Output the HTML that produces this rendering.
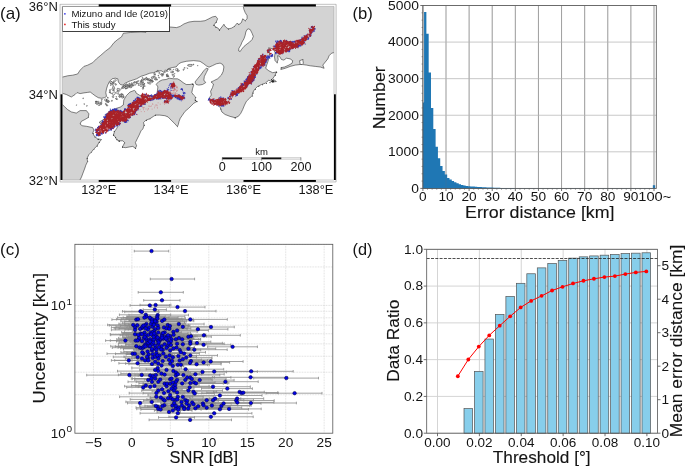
<!DOCTYPE html>
<html><head><meta charset="utf-8"><style>
html,body{margin:0;padding:0;background:#fff}
svg{display:block}
text{font-family:"Liberation Sans",sans-serif}
</style></head><body>
<svg width="685" height="466" viewBox="0 0 685 466">
<rect width="685" height="466" fill="#fff"/>
<g opacity="0.999">
<clipPath id="mc"><rect x="62.3" y="6.5" width="271.7" height="173.5"/></clipPath>
<rect x="62.3" y="6.5" width="271.7" height="173.5" fill="#fff"/>
<g clip-path="url(#mc)">
<path d="M60.0 77.1 L62.5 77.1 L67.6 75.8 L72.6 75.2 L77.6 74.0 L80.1 70.2 L83.9 66.4 L87.6 65.2 L92.7 62.7 L96.4 58.9 L100.2 55.8 L105.2 51.4 L110.2 47.6 L114.0 42.6 L117.8 39.4 L121.5 36.9 L123.4 33.2 L130.3 32.5 L141.0 31.9 L146.0 32.3 L150.0 28.0 L160.0 24.0 L168.0 25.0 L170.2 27.0 L176.5 27.6 L180.2 26.4 L184.0 23.9 L189.0 22.0 L194.0 21.3 L200.3 21.3 L205.0 20.7 L208.8 18.8 L212.5 16.9 L215.7 16.3 L217.6 18.8 L216.3 22.0 L213.8 25.1 L215.7 27.0 L218.2 28.2 L219.4 30.1 L221.9 27.0 L223.8 24.5 L225.7 27.0 L228.2 28.9 L231.4 28.2 L234.5 26.4 L237.0 23.2 L238.9 24.5 L241.4 22.6 L242.7 18.8 L245.2 20.7 L247.1 18.8 L247.1 15.7 L245.2 12.6 L243.9 9.4 L242.7 4.0 L340.0 4.0 L340.0 52.6 L333.9 52.6 L331.6 53.2 L329.1 55.7 L327.8 58.9 L325.3 62.0 L322.8 65.1 L324.1 68.3 L320.3 67.0 L315.3 66.4 L310.3 65.8 L306.5 65.1 L303.0 64.6 L300.2 64.5 L295.2 65.1 L290.2 66.4 L285.2 68.3 L280.8 69.5 L281.4 67.6 L284.5 67.0 L288.9 65.1 L292.1 63.2 L292.7 60.7 L290.2 58.9 L286.4 58.2 L283.9 60.1 L281.4 59.5 L279.5 56.3 L277.6 55.7 L278.2 59.5 L277.0 62.6 L275.1 60.7 L274.5 57.0 L275.1 52.6 L273.4 49.0 L268.6 47.8 L269.3 50.1 L269.7 53.8 L268.9 57.6 L268.0 61.4 L266.9 64.5 L265.7 68.3 L268.8 70.8 L272.6 72.7 L276.4 72.0 L275.1 75.2 L272.6 78.9 L276.4 81.5 L272.6 82.1 L268.8 80.2 L265.1 83.3 L261.3 84.6 L257.5 86.5 L254.6 89.4 L252.7 92.6 L252.1 95.7 L249.6 98.2 L246.4 101.3 L244.5 105.1 L242.7 109.5 L240.8 113.3 L238.3 116.4 L235.1 117.7 L230.1 116.4 L225.1 114.5 L221.9 112.0 L220.7 108.9 L219.4 105.7 L215.0 103.9 L210.0 100.1 L209.4 97.6 L211.3 95.1 L210.6 91.3 L212.5 87.5 L213.5 84.0 L211.0 82.0 L213.8 80.7 L217.6 78.8 L221.4 75.1 L223.2 71.3 L223.9 66.9 L222.6 64.4 L220.1 63.1 L216.3 63.8 L212.6 65.6 L209.0 67.2 L206.3 65.8 L203.8 63.8 L200.0 61.3 L193.7 60.6 L186.2 61.3 L181.2 62.5 L178.7 63.8 L176.2 66.9 L172.4 67.5 L168.0 68.8 L166.1 71.3 L164.2 72.6 L161.1 70.7 L157.3 71.3 L153.6 72.6 L149.8 73.2 L144.8 75.1 L141.0 76.3 L136.6 78.8 L132.8 80.1 L129.1 81.3 L125.3 83.2 L122.8 85.1 L120.3 84.5 L118.4 82.0 L117.8 78.8 L115.3 78.2 L112.1 78.8 L109.6 81.3 L107.7 85.1 L106.5 88.9 L105.8 92.6 L106.5 96.4 L104.6 97.7 L101.5 98.3 L98.3 97.7 L95.2 95.8 L92.7 93.9 L90.2 92.0 L87.6 92.4 L83.9 92.9 L80.1 93.6 L77.0 92.6 L75.1 94.5 L71.3 97.0 L66.3 94.5 L62.5 93.3 L60.0 93.3Z" fill="#d3d3d3" stroke="#222" stroke-width="0.55" stroke-linejoin="round"/>
<path d="M135.6 91.3 L136.0 93.0 L139.5 95.2 L146.0 96.5 L153.0 96.0 L157.0 94.0 L157.9 86.9 L156.2 84.3 L158.8 81.6 L162.3 79.9 L166.1 79.5 L169.2 78.2 L173.6 78.8 L177.4 78.8 L179.9 80.1 L183.1 82.6 L186.2 84.5 L190.0 84.5 L192.5 83.9 L193.7 85.1 L192.5 88.9 L191.8 92.6 L193.7 95.2 L195.6 97.0 L195.0 100.2 L196.9 101.4 L193.7 103.3 L191.2 105.8 L188.7 108.3 L184.9 111.5 L182.4 115.2 L180.3 118.2 L179.0 121.5 L178.3 124.5 L177.4 126.6 L174.3 123.2 L171.1 120.1 L168.0 116.9 L164.9 115.7 L159.8 115.1 L155.4 115.1 L153.6 116.3 L149.8 118.8 L146.0 120.1 L143.5 122.6 L144.1 125.1 L142.9 128.9 L141.0 130.8 L139.1 135.1 L137.2 138.9 L135.4 142.6 L136.6 145.8 L135.4 148.3 L132.8 146.4 L129.1 147.0 L125.3 147.7 L122.2 147.0 L123.4 145.2 L124.7 142.6 L122.8 140.8 L119.0 140.8 L116.5 139.5 L115.3 137.0 L113.4 135.1 L114.6 131.3 L116.5 128.8 L117.8 126.3 L115.0 122.0 L108.0 121.5 L100.0 123.5 L99.4 122.0 L106.0 118.0 L105.2 115.2 L107.7 112.7 L111.5 110.2 L116.5 108.3 L120.3 107.1 L123.3 105.0 L123.8 100.0 L126.4 95.6 L129.9 92.1 L134.3 90.4Z" fill="#d3d3d3" stroke="#222" stroke-width="0.55" stroke-linejoin="round"/>
<path d="M60.0 104.5 L62.3 104.5 L64.4 106.5 L67.6 109.6 L71.3 111.9 L76.3 113.1 L80.1 110.6 L86.4 110.6 L88.9 113.8 L88.3 117.5 L85.1 119.4 L81.4 121.3 L80.1 123.8 L82.0 125.7 L86.4 126.3 L92.7 127.6 L93.9 130.1 L92.7 133.2 L94.5 136.4 L97.7 138.9 L101.5 139.5 L98.9 142.6 L97.1 145.8 L93.9 148.9 L91.4 152.1 L88.9 154.6 L87.0 158.3 L87.6 161.5 L85.8 165.2 L84.9 168.0 L83.0 173.0 L81.5 177.0 L80.0 180.0 L79.5 184.0 L60.0 184.0Z" fill="#d3d3d3" stroke="#222" stroke-width="0.55" stroke-linejoin="round"/>
<path d="M206.3 68.2 L208.2 68.8 L206.3 72.6 L204.4 76.3 L203.8 80.1 L205.7 82.6 L202.5 84.5 L198.8 85.1 L196.2 84.5 L195.0 82.0 L197.5 78.8 L200.6 75.1 L203.8 70.7Z" fill="#d3d3d3" stroke="#222" stroke-width="0.55" stroke-linejoin="round"/>
<path d="M248.3 28.9 L250.2 29.5 L252.1 33.3 L253.3 36.4 L252.1 39.5 L249.6 42.1 L247.1 43.9 L243.9 46.5 L241.4 49.6 L240.2 51.5 L238.6 50.8 L238.9 48.3 L240.8 45.2 L242.0 42.1 L243.9 38.9 L245.2 35.2 L245.8 32.0 L247.1 29.5Z" fill="#fff" stroke="#222" stroke-width="0.55" stroke-linejoin="round"/>
<path d="M299.6 60.7 L302.7 59.5 L303.4 63.2 L302.1 64.5 L300.2 64.5Z" fill="#fff" stroke="#222" stroke-width="0.55" stroke-linejoin="round"/>
<path d="M192.1 65.5 L191.6 66.3 L189.9 66.4 L188.1 66.0 L187.5 65.0 L188.7 64.5 L190.1 64.4 L192.1 64.5Z" fill="#d3d3d3" stroke="#222" stroke-width="0.5"/>
<path d="M111.9 81.4 L112.8 82.5 L113.1 83.5 L113.0 85.1 L111.7 84.6 L111.3 83.5 L110.8 82.1Z" fill="#d3d3d3" stroke="#1c1c1c" stroke-width="0.45" stroke-linejoin="round"/>
<path d="M111.3 93.7 L111.0 93.8 L110.8 93.7 L110.8 93.3 L111.0 93.0 L111.3 93.0 L111.5 93.3Z" fill="#f2f2f2" stroke="#1c1c1c" stroke-width="0.45" stroke-linejoin="round"/>
<path d="M110.4 85.3 L110.5 84.9 L110.8 84.7 L111.1 84.8 L111.2 85.1 L111.1 85.5 L110.7 85.5Z" fill="#d3d3d3" stroke="#1c1c1c" stroke-width="0.45" stroke-linejoin="round"/>
<path d="M120.2 90.4 L119.1 91.3 L117.5 90.8 L117.0 89.4 L117.4 88.3 L118.7 88.5 L120.1 89.0Z" fill="#d3d3d3" stroke="#1c1c1c" stroke-width="0.45" stroke-linejoin="round"/>
<path d="M114.9 84.2 L115.0 84.0 L115.2 83.8 L115.5 83.6 L115.7 83.8 L115.4 84.1 L115.2 84.3Z" fill="#e6e6e6" stroke="#1c1c1c" stroke-width="0.45" stroke-linejoin="round"/>
<path d="M109.7 89.6 L110.2 89.3 L110.4 89.9 L110.5 90.4 L110.0 90.8 L109.4 90.6 L109.4 90.0Z" fill="#d3d3d3" stroke="#1c1c1c" stroke-width="0.45" stroke-linejoin="round"/>
<path d="M110.3 92.7 L109.9 93.0 L109.4 92.5 L109.4 91.9 L109.7 91.4 L110.3 91.3 L110.5 92.1Z" fill="#f2f2f2" stroke="#1c1c1c" stroke-width="0.45" stroke-linejoin="round"/>
<path d="M113.4 89.7 L113.6 89.4 L114.2 89.6 L114.3 90.2 L114.1 90.6 L113.7 90.6 L113.5 90.2Z" fill="#d3d3d3" stroke="#1c1c1c" stroke-width="0.45" stroke-linejoin="round"/>
<path d="M116.2 84.0 L116.5 84.6 L116.1 85.1 L115.7 85.4 L115.3 85.0 L115.4 84.4 L115.7 83.8Z" fill="#d3d3d3" stroke="#1c1c1c" stroke-width="0.45" stroke-linejoin="round"/>
<path d="M110.7 83.9 L109.7 82.9 L110.1 81.8 L111.2 81.7 L112.2 81.9 L112.7 82.9 L111.8 83.5Z" fill="#e6e6e6" stroke="#1c1c1c" stroke-width="0.45" stroke-linejoin="round"/>
<path d="M112.8 90.8 L112.1 89.9 L111.7 88.9 L112.4 88.7 L113.1 88.8 L113.7 89.5 L113.7 90.6Z" fill="#f2f2f2" stroke="#1c1c1c" stroke-width="0.45" stroke-linejoin="round"/>
<path d="M113.6 83.5 L113.4 83.2 L113.8 82.9 L114.3 82.7 L114.3 83.0 L114.4 83.3 L114.0 83.6Z" fill="#e6e6e6" stroke="#1c1c1c" stroke-width="0.45" stroke-linejoin="round"/>
<path d="M112.8 86.7 L113.2 85.5 L114.1 86.4 L114.4 87.2 L114.8 88.6 L113.7 89.0 L112.6 88.1Z" fill="#d3d3d3" stroke="#1c1c1c" stroke-width="0.45" stroke-linejoin="round"/>
<path d="M112.4 94.3 L112.3 93.0 L113.6 92.1 L114.9 91.8 L115.5 92.9 L114.9 94.3 L113.4 95.0Z" fill="#f2f2f2" stroke="#1c1c1c" stroke-width="0.45" stroke-linejoin="round"/>
<path d="M111.1 83.3 L110.9 83.5 L110.7 83.7 L110.5 83.6 L110.3 83.4 L110.6 83.2 L110.8 83.2Z" fill="#e6e6e6" stroke="#1c1c1c" stroke-width="0.45" stroke-linejoin="round"/>
<path d="M115.2 79.7 L116.4 79.9 L116.0 80.9 L115.1 81.5 L113.9 81.8 L113.2 81.1 L114.2 80.3Z" fill="#f2f2f2" stroke="#1c1c1c" stroke-width="0.45" stroke-linejoin="round"/>
<path d="M116.8 91.4 L117.8 92.0 L118.6 92.7 L118.3 93.8 L117.4 93.8 L116.7 93.5 L116.1 92.4Z" fill="#f2f2f2" stroke="#1c1c1c" stroke-width="0.45" stroke-linejoin="round"/>
<path d="M117.8 90.9 L117.8 90.5 L118.1 90.5 L118.4 90.7 L118.4 91.0 L118.2 91.3 L117.8 91.2Z" fill="#f2f2f2" stroke="#1c1c1c" stroke-width="0.45" stroke-linejoin="round"/>
<path d="M112.4 82.9 L112.8 82.3 L113.3 82.2 L113.7 82.2 L113.6 82.8 L113.1 83.2 L112.6 83.3Z" fill="#f2f2f2" stroke="#1c1c1c" stroke-width="0.45" stroke-linejoin="round"/>
<path d="M109.8 91.9 L110.1 92.1 L110.2 92.4 L110.2 92.8 L109.9 92.9 L109.7 92.5 L109.6 92.2Z" fill="#e6e6e6" stroke="#1c1c1c" stroke-width="0.45" stroke-linejoin="round"/>
<path d="M107.3 102.1 L106.7 101.3 L107.6 100.3 L108.9 100.4 L109.7 101.2 L109.0 102.3 L107.9 102.6Z" fill="#d3d3d3" stroke="#1c1c1c" stroke-width="0.45" stroke-linejoin="round"/>
<path d="M98.7 101.3 L99.1 101.8 L99.0 102.4 L98.4 102.7 L97.8 102.1 L97.4 101.4 L98.0 101.2Z" fill="#e6e6e6" stroke="#1c1c1c" stroke-width="0.45" stroke-linejoin="round"/>
<path d="M119.5 94.8 L119.2 94.7 L118.8 94.7 L118.8 94.3 L119.1 94.0 L119.4 94.2 L119.7 94.4Z" fill="#d3d3d3" stroke="#1c1c1c" stroke-width="0.45" stroke-linejoin="round"/>
<path d="M121.3 93.5 L121.9 93.6 L122.3 93.8 L122.2 94.2 L121.6 94.2 L121.1 94.1 L120.8 93.8Z" fill="#e6e6e6" stroke="#1c1c1c" stroke-width="0.45" stroke-linejoin="round"/>
<path d="M111.6 101.3 L111.3 101.0 L111.5 100.4 L112.1 100.2 L112.5 100.5 L112.5 101.0 L112.0 101.5Z" fill="#f2f2f2" stroke="#1c1c1c" stroke-width="0.45" stroke-linejoin="round"/>
<path d="M121.0 94.5 L121.0 94.8 L120.6 94.8 L120.3 94.8 L120.4 94.5 L120.5 94.3 L120.9 94.2Z" fill="#e6e6e6" stroke="#1c1c1c" stroke-width="0.45" stroke-linejoin="round"/>
<path d="M120.5 97.2 L119.6 97.4 L119.0 97.0 L119.2 96.4 L119.6 95.8 L120.5 95.8 L120.7 96.5Z" fill="#e6e6e6" stroke="#1c1c1c" stroke-width="0.45" stroke-linejoin="round"/>
<path d="M105.7 98.9 L106.5 99.1 L106.8 100.1 L105.8 100.9 L105.1 100.4 L104.2 100.0 L105.1 99.3Z" fill="#f2f2f2" stroke="#1c1c1c" stroke-width="0.45" stroke-linejoin="round"/>
<path d="M121.7 96.0 L122.4 95.7 L123.6 96.0 L124.2 97.2 L123.5 97.6 L122.8 97.5 L122.1 97.0Z" fill="#f2f2f2" stroke="#1c1c1c" stroke-width="0.45" stroke-linejoin="round"/>
<path d="M101.2 103.4 L100.2 103.2 L100.3 102.5 L100.6 102.1 L101.5 102.0 L101.8 102.9 L102.0 103.5Z" fill="#d3d3d3" stroke="#1c1c1c" stroke-width="0.45" stroke-linejoin="round"/>
<path d="M115.9 96.6 L116.0 96.4 L116.3 96.5 L116.5 96.7 L116.4 96.9 L116.2 96.9 L116.0 96.9Z" fill="#d3d3d3" stroke="#1c1c1c" stroke-width="0.45" stroke-linejoin="round"/>
<path d="M99.9 103.3 L100.3 104.2 L99.9 105.3 L98.7 105.6 L97.7 104.9 L98.0 103.5 L99.1 103.3Z" fill="#f2f2f2" stroke="#1c1c1c" stroke-width="0.45" stroke-linejoin="round"/>
<path d="M122.1 95.9 L121.5 95.3 L121.5 94.5 L122.0 94.3 L122.7 94.3 L123.0 95.1 L122.6 95.6Z" fill="#e6e6e6" stroke="#1c1c1c" stroke-width="0.45" stroke-linejoin="round"/>
<path d="M120.7 96.8 L120.9 96.5 L121.2 96.4 L121.4 96.6 L121.3 96.9 L121.1 97.0 L120.9 97.0Z" fill="#e6e6e6" stroke="#1c1c1c" stroke-width="0.45" stroke-linejoin="round"/>
<path d="M115.7 98.4 L115.9 98.1 L116.3 98.0 L116.7 98.6 L117.0 99.3 L116.4 99.4 L115.7 99.1Z" fill="#e6e6e6" stroke="#1c1c1c" stroke-width="0.45" stroke-linejoin="round"/>
<path d="M121.6 95.9 L121.6 95.2 L122.1 94.7 L123.1 94.3 L123.7 95.3 L123.0 96.1 L122.3 96.3Z" fill="#f2f2f2" stroke="#1c1c1c" stroke-width="0.45" stroke-linejoin="round"/>
<path d="M106.4 100.7 L107.4 100.1 L108.2 100.4 L108.6 100.9 L108.6 101.9 L107.5 102.0 L106.8 101.6Z" fill="#e6e6e6" stroke="#1c1c1c" stroke-width="0.45" stroke-linejoin="round"/>
<path d="M118.7 96.4 L118.9 95.8 L119.5 95.5 L120.2 95.7 L120.2 96.5 L119.6 96.7 L119.2 96.8Z" fill="#d3d3d3" stroke="#1c1c1c" stroke-width="0.45" stroke-linejoin="round"/>
<path d="M112.9 95.7 L113.7 95.7 L113.7 96.6 L113.6 97.5 L112.9 97.8 L112.3 97.0 L112.3 96.0Z" fill="#f2f2f2" stroke="#1c1c1c" stroke-width="0.45" stroke-linejoin="round"/>
<path d="M123.3 96.9 L123.5 97.2 L123.6 97.5 L123.4 97.7 L123.2 97.4 L123.0 97.1 L123.1 96.8Z" fill="#f2f2f2" stroke="#1c1c1c" stroke-width="0.45" stroke-linejoin="round"/>
<path d="M100.5 103.2 L100.9 104.2 L100.3 104.9 L99.5 104.7 L98.8 104.1 L99.1 103.3 L99.7 103.2Z" fill="#f2f2f2" stroke="#1c1c1c" stroke-width="0.45" stroke-linejoin="round"/>
<path d="M95.7 101.6 L95.8 101.2 L96.1 101.0 L96.4 101.2 L96.7 101.4 L96.6 101.7 L96.1 101.7Z" fill="#f2f2f2" stroke="#1c1c1c" stroke-width="0.45" stroke-linejoin="round"/>
<path d="M107.5 97.1 L108.0 97.1 L108.2 97.6 L108.3 98.0 L108.1 98.4 L107.7 98.2 L107.6 97.7Z" fill="#d3d3d3" stroke="#1c1c1c" stroke-width="0.45" stroke-linejoin="round"/>
<path d="M96.9 104.2 L96.3 104.1 L95.9 103.8 L95.5 103.4 L95.8 103.1 L96.5 103.2 L96.7 103.7Z" fill="#e6e6e6" stroke="#1c1c1c" stroke-width="0.45" stroke-linejoin="round"/>
<path d="M106.8 99.9 L106.7 99.7 L106.6 99.5 L106.9 99.5 L107.1 99.6 L107.1 99.8 L107.0 100.0Z" fill="#f2f2f2" stroke="#1c1c1c" stroke-width="0.45" stroke-linejoin="round"/>
<path d="M122.2 96.1 L123.2 96.0 L123.6 96.5 L123.8 97.3 L122.7 98.2 L121.7 97.9 L121.9 97.0Z" fill="#d3d3d3" stroke="#1c1c1c" stroke-width="0.45" stroke-linejoin="round"/>
<path d="M95.8 101.1 L96.1 101.1 L96.2 101.6 L96.0 101.9 L95.8 101.9 L95.6 101.7 L95.6 101.2Z" fill="#f2f2f2" stroke="#1c1c1c" stroke-width="0.45" stroke-linejoin="round"/>
<path d="M106.0 101.4 L106.3 100.9 L107.1 100.7 L107.7 101.0 L107.7 101.7 L106.7 101.9 L105.9 102.1Z" fill="#d3d3d3" stroke="#1c1c1c" stroke-width="0.45" stroke-linejoin="round"/>
<path d="M115.9 98.8 L116.2 98.2 L116.8 98.2 L117.3 98.6 L117.7 99.2 L117.3 99.6 L116.5 99.5Z" fill="#f2f2f2" stroke="#1c1c1c" stroke-width="0.45" stroke-linejoin="round"/>
<path d="M106.6 99.8 L107.0 100.1 L106.8 100.4 L106.6 100.7 L106.2 100.6 L106.2 100.2 L106.2 99.9Z" fill="#e6e6e6" stroke="#1c1c1c" stroke-width="0.45" stroke-linejoin="round"/>
<path d="M96.1 103.5 L95.2 102.8 L96.3 102.4 L97.1 102.1 L97.6 102.8 L97.6 103.3 L97.1 104.0Z" fill="#e6e6e6" stroke="#1c1c1c" stroke-width="0.45" stroke-linejoin="round"/>
<path d="M101.9 100.0 L101.6 99.9 L101.3 99.6 L101.5 99.3 L101.9 99.2 L102.3 99.3 L102.2 99.7Z" fill="#e6e6e6" stroke="#1c1c1c" stroke-width="0.45" stroke-linejoin="round"/>
<path d="M106.6 105.0 L106.3 105.3 L106.0 104.9 L105.8 104.5 L106.3 104.4 L106.6 104.4 L106.8 104.7Z" fill="#e6e6e6" stroke="#1c1c1c" stroke-width="0.45" stroke-linejoin="round"/>
<path d="M105.8 104.3 L105.5 104.2 L105.2 104.1 L105.4 103.6 L105.7 103.2 L106.0 103.5 L106.1 103.9Z" fill="#e6e6e6" stroke="#1c1c1c" stroke-width="0.45" stroke-linejoin="round"/>
<path d="M101.0 104.2 L101.3 104.2 L101.6 104.3 L101.4 104.5 L101.3 104.7 L101.0 104.6 L100.8 104.4Z" fill="#d3d3d3" stroke="#1c1c1c" stroke-width="0.45" stroke-linejoin="round"/>
<path d="M96.1 101.5 L96.6 101.5 L96.9 101.7 L96.6 102.0 L96.2 102.3 L95.9 102.1 L95.8 101.8Z" fill="#d3d3d3" stroke="#1c1c1c" stroke-width="0.45" stroke-linejoin="round"/>
<path d="M107.7 105.9 L107.1 105.9 L106.4 105.9 L106.7 105.2 L106.9 104.5 L107.4 105.0 L107.7 105.3Z" fill="#d3d3d3" stroke="#1c1c1c" stroke-width="0.45" stroke-linejoin="round"/>
<path d="M102.0 100.8 L102.0 101.3 L101.7 101.5 L101.5 101.2 L101.4 100.8 L101.5 100.5 L101.8 100.5Z" fill="#f2f2f2" stroke="#1c1c1c" stroke-width="0.45" stroke-linejoin="round"/>
<path d="M123.4 85.9 L124.5 85.6 L124.6 86.4 L124.5 87.3 L123.5 87.5 L122.5 87.5 L123.0 86.6Z" fill="#e6e6e6" stroke="#1c1c1c" stroke-width="0.45" stroke-linejoin="round"/>
<path d="M146.6 77.5 L146.5 77.8 L146.3 77.7 L146.1 77.5 L146.1 77.3 L146.3 77.2 L146.5 77.3Z" fill="#d3d3d3" stroke="#1c1c1c" stroke-width="0.45" stroke-linejoin="round"/>
<path d="M122.0 86.9 L122.6 86.2 L123.5 86.4 L123.9 87.0 L124.1 88.0 L123.1 88.5 L122.2 87.9Z" fill="#d3d3d3" stroke="#1c1c1c" stroke-width="0.45" stroke-linejoin="round"/>
<path d="M143.1 79.6 L143.3 79.9 L143.0 80.2 L142.6 80.0 L142.3 79.5 L142.4 79.1 L142.9 79.3Z" fill="#e6e6e6" stroke="#1c1c1c" stroke-width="0.45" stroke-linejoin="round"/>
<path d="M126.3 87.7 L126.8 88.1 L127.0 88.7 L126.2 88.7 L125.2 88.7 L125.1 87.9 L125.5 87.4Z" fill="#e6e6e6" stroke="#1c1c1c" stroke-width="0.45" stroke-linejoin="round"/>
<path d="M141.1 81.6 L141.1 80.7 L142.2 80.3 L143.1 81.3 L143.1 82.2 L142.4 82.7 L141.4 82.4Z" fill="#e6e6e6" stroke="#1c1c1c" stroke-width="0.45" stroke-linejoin="round"/>
<path d="M141.6 79.3 L142.5 79.1 L143.5 79.3 L144.0 79.9 L143.2 80.3 L142.3 80.4 L141.4 79.9Z" fill="#f2f2f2" stroke="#1c1c1c" stroke-width="0.45" stroke-linejoin="round"/>
<path d="M124.5 87.2 L123.6 86.7 L123.5 85.5 L124.4 85.0 L125.1 85.6 L125.9 86.3 L125.1 86.8Z" fill="#d3d3d3" stroke="#1c1c1c" stroke-width="0.45" stroke-linejoin="round"/>
<path d="M132.3 86.0 L132.1 85.5 L132.3 85.3 L132.5 85.2 L132.8 85.6 L133.1 86.1 L132.7 86.2Z" fill="#d3d3d3" stroke="#1c1c1c" stroke-width="0.45" stroke-linejoin="round"/>
<path d="M148.1 79.4 L147.2 79.7 L146.6 79.7 L145.8 79.2 L146.6 78.6 L147.1 78.2 L147.8 78.5Z" fill="#f2f2f2" stroke="#1c1c1c" stroke-width="0.45" stroke-linejoin="round"/>
<path d="M128.8 85.8 L129.0 85.7 L129.3 85.8 L129.4 86.0 L129.3 86.1 L129.2 86.2 L129.0 86.0Z" fill="#f2f2f2" stroke="#1c1c1c" stroke-width="0.45" stroke-linejoin="round"/>
<path d="M137.3 81.7 L137.1 81.2 L137.5 80.9 L138.2 80.7 L139.1 80.8 L138.6 81.3 L138.1 81.6Z" fill="#f2f2f2" stroke="#1c1c1c" stroke-width="0.45" stroke-linejoin="round"/>
<path d="M124.6 85.7 L125.1 85.4 L125.7 85.5 L126.0 85.7 L126.0 86.2 L125.3 86.3 L124.8 86.2Z" fill="#e6e6e6" stroke="#1c1c1c" stroke-width="0.45" stroke-linejoin="round"/>
<path d="M130.0 83.9 L129.7 84.1 L129.3 84.0 L129.1 83.6 L129.2 83.2 L129.5 82.9 L129.9 83.4Z" fill="#e6e6e6" stroke="#1c1c1c" stroke-width="0.45" stroke-linejoin="round"/>
<path d="M141.3 81.7 L141.3 81.3 L141.4 80.8 L141.9 81.0 L142.3 81.2 L142.1 81.6 L141.8 81.8Z" fill="#f2f2f2" stroke="#1c1c1c" stroke-width="0.45" stroke-linejoin="round"/>
<path d="M133.0 84.7 L132.7 85.0 L132.4 85.2 L132.3 84.7 L132.4 84.2 L132.7 84.0 L132.9 84.2Z" fill="#e6e6e6" stroke="#1c1c1c" stroke-width="0.45" stroke-linejoin="round"/>
<path d="M133.2 85.3 L132.2 86.0 L131.4 86.0 L130.5 85.6 L130.3 84.4 L131.3 84.1 L132.4 84.1Z" fill="#d3d3d3" stroke="#1c1c1c" stroke-width="0.45" stroke-linejoin="round"/>
<path d="M129.5 87.6 L129.5 87.0 L129.9 86.4 L130.4 86.9 L130.8 87.3 L130.7 87.8 L130.0 88.0Z" fill="#d3d3d3" stroke="#1c1c1c" stroke-width="0.45" stroke-linejoin="round"/>
<path d="M129.9 85.0 L129.5 85.3 L128.9 84.9 L128.5 84.4 L128.8 84.0 L129.4 84.2 L129.7 84.5Z" fill="#f2f2f2" stroke="#1c1c1c" stroke-width="0.45" stroke-linejoin="round"/>
<path d="M135.3 82.6 L135.2 83.0 L135.0 83.3 L134.8 83.2 L134.5 82.8 L134.8 82.4 L135.1 82.2Z" fill="#e6e6e6" stroke="#1c1c1c" stroke-width="0.45" stroke-linejoin="round"/>
<path d="M127.7 84.5 L127.6 85.5 L126.6 85.8 L125.7 85.7 L125.8 84.9 L126.0 84.0 L126.9 84.1Z" fill="#d3d3d3" stroke="#1c1c1c" stroke-width="0.45" stroke-linejoin="round"/>
<path d="M134.5 84.8 L134.8 84.5 L135.3 84.5 L135.5 84.8 L135.4 85.2 L134.8 85.3 L134.6 85.1Z" fill="#f2f2f2" stroke="#1c1c1c" stroke-width="0.45" stroke-linejoin="round"/>
<path d="M127.2 86.4 L127.8 85.9 L128.1 86.6 L128.4 87.1 L127.8 87.8 L127.3 87.7 L126.8 87.3Z" fill="#e6e6e6" stroke="#1c1c1c" stroke-width="0.45" stroke-linejoin="round"/>
<path d="M131.8 86.9 L131.6 87.7 L131.0 87.2 L130.6 86.7 L130.7 86.2 L131.1 85.6 L131.5 86.3Z" fill="#f2f2f2" stroke="#1c1c1c" stroke-width="0.45" stroke-linejoin="round"/>
<path d="M145.2 78.0 L146.1 77.8 L146.7 78.0 L146.9 78.6 L146.7 79.4 L145.9 79.2 L145.3 78.8Z" fill="#f2f2f2" stroke="#1c1c1c" stroke-width="0.45" stroke-linejoin="round"/>
<path d="M132.1 85.1 L131.6 85.9 L130.8 86.1 L130.5 85.6 L130.7 85.1 L131.1 84.6 L131.6 84.7Z" fill="#d3d3d3" stroke="#1c1c1c" stroke-width="0.45" stroke-linejoin="round"/>
<path d="M127.4 88.1 L127.4 87.9 L127.6 87.7 L127.9 87.7 L128.2 87.8 L128.1 88.1 L127.7 88.3Z" fill="#f2f2f2" stroke="#1c1c1c" stroke-width="0.45" stroke-linejoin="round"/>
<path d="M142.6 78.3 L142.1 77.7 L142.5 77.3 L142.9 77.6 L143.2 78.0 L143.2 78.4 L142.9 78.5Z" fill="#d3d3d3" stroke="#1c1c1c" stroke-width="0.45" stroke-linejoin="round"/>
<path d="M135.0 82.1 L134.6 82.9 L133.8 83.4 L133.2 83.1 L133.4 82.3 L134.1 81.9 L134.9 81.4Z" fill="#d3d3d3" stroke="#1c1c1c" stroke-width="0.45" stroke-linejoin="round"/>
<path d="M144.2 78.5 L144.7 78.8 L144.8 79.5 L144.4 80.0 L143.8 80.1 L143.4 79.4 L143.8 78.8Z" fill="#d3d3d3" stroke="#1c1c1c" stroke-width="0.45" stroke-linejoin="round"/>
<path d="M133.1 85.4 L133.3 85.1 L133.7 85.0 L133.9 85.3 L133.8 85.6 L133.5 85.8 L133.1 85.7Z" fill="#d3d3d3" stroke="#1c1c1c" stroke-width="0.45" stroke-linejoin="round"/>
<path d="M127.6 84.7 L127.5 85.4 L126.9 86.0 L126.0 86.2 L125.8 85.2 L126.2 84.1 L127.1 84.2Z" fill="#e6e6e6" stroke="#1c1c1c" stroke-width="0.45" stroke-linejoin="round"/>
<path d="M137.4 83.1 L137.3 83.6 L136.9 83.9 L136.5 84.1 L136.4 83.7 L136.6 83.1 L137.0 83.0Z" fill="#d3d3d3" stroke="#1c1c1c" stroke-width="0.45" stroke-linejoin="round"/>
<path d="M131.5 82.7 L132.0 82.9 L132.5 83.1 L132.2 83.6 L131.9 84.1 L131.5 83.7 L131.3 83.3Z" fill="#e6e6e6" stroke="#1c1c1c" stroke-width="0.45" stroke-linejoin="round"/>
<path d="M136.2 81.7 L136.8 81.6 L136.7 82.0 L136.4 82.3 L136.0 82.3 L135.5 82.1 L135.8 81.8Z" fill="#d3d3d3" stroke="#1c1c1c" stroke-width="0.45" stroke-linejoin="round"/>
<path d="M136.6 82.6 L136.6 82.3 L136.6 81.9 L137.0 82.3 L137.1 82.5 L137.2 83.0 L136.8 82.9Z" fill="#f2f2f2" stroke="#1c1c1c" stroke-width="0.45" stroke-linejoin="round"/>
<path d="M125.9 88.4 L126.0 88.8 L125.8 89.1 L125.5 89.0 L125.4 88.7 L125.5 88.3 L125.7 88.1Z" fill="#f2f2f2" stroke="#1c1c1c" stroke-width="0.45" stroke-linejoin="round"/>
<path d="M128.7 86.4 L128.3 85.9 L128.6 85.5 L129.0 85.1 L129.2 85.9 L129.4 86.6 L129.1 87.0Z" fill="#d3d3d3" stroke="#1c1c1c" stroke-width="0.45" stroke-linejoin="round"/>
<path d="M128.7 85.8 L129.4 85.9 L130.0 86.3 L129.5 86.6 L128.9 86.9 L128.2 86.7 L128.1 86.2Z" fill="#d3d3d3" stroke="#1c1c1c" stroke-width="0.45" stroke-linejoin="round"/>
<path d="M126.4 86.3 L125.5 86.1 L125.0 85.7 L124.8 85.1 L125.7 85.1 L126.3 85.5 L126.8 86.0Z" fill="#e6e6e6" stroke="#1c1c1c" stroke-width="0.45" stroke-linejoin="round"/>
<path d="M121.2 88.9 L121.2 88.0 L121.7 87.5 L122.3 87.3 L122.5 87.7 L122.6 88.3 L121.9 89.0Z" fill="#f2f2f2" stroke="#1c1c1c" stroke-width="0.45" stroke-linejoin="round"/>
<path d="M141.3 81.0 L141.3 81.5 L141.1 81.8 L140.6 81.7 L140.2 81.2 L140.3 80.7 L140.8 80.8Z" fill="#f2f2f2" stroke="#1c1c1c" stroke-width="0.45" stroke-linejoin="round"/>
<path d="M138.8 83.0 L139.1 83.5 L139.3 84.0 L138.8 84.3 L138.3 84.4 L138.1 83.9 L138.3 83.3Z" fill="#f2f2f2" stroke="#1c1c1c" stroke-width="0.45" stroke-linejoin="round"/>
<path d="M143.7 84.9 L143.3 84.6 L142.8 84.0 L143.5 83.6 L144.0 83.4 L144.7 83.7 L144.1 84.4Z" fill="#d3d3d3" stroke="#1c1c1c" stroke-width="0.45" stroke-linejoin="round"/>
<path d="M150.7 80.0 L150.6 79.8 L150.7 79.4 L151.0 79.3 L151.2 79.3 L151.2 79.7 L151.0 80.2Z" fill="#d3d3d3" stroke="#1c1c1c" stroke-width="0.45" stroke-linejoin="round"/>
<path d="M152.5 81.8 L151.8 82.5 L151.2 81.9 L151.1 81.5 L151.4 80.8 L152.5 80.9 L153.3 81.3Z" fill="#d3d3d3" stroke="#1c1c1c" stroke-width="0.45" stroke-linejoin="round"/>
<path d="M151.4 80.3 L151.6 80.1 L151.9 80.1 L151.9 80.4 L152.0 80.7 L151.7 80.7 L151.3 80.6Z" fill="#e6e6e6" stroke="#1c1c1c" stroke-width="0.45" stroke-linejoin="round"/>
<path d="M147.8 80.2 L148.0 79.2 L148.7 78.7 L149.8 78.8 L150.4 79.9 L150.0 81.1 L148.7 80.9Z" fill="#d3d3d3" stroke="#1c1c1c" stroke-width="0.45" stroke-linejoin="round"/>
<path d="M143.9 83.4 L143.7 83.3 L143.6 83.1 L143.6 82.7 L143.8 82.8 L144.0 83.0 L144.0 83.2Z" fill="#f2f2f2" stroke="#1c1c1c" stroke-width="0.45" stroke-linejoin="round"/>
<path d="M153.2 77.3 L153.1 78.3 L152.5 78.8 L151.8 78.7 L151.4 77.9 L151.4 77.0 L152.3 76.6Z" fill="#d3d3d3" stroke="#1c1c1c" stroke-width="0.45" stroke-linejoin="round"/>
<path d="M154.5 72.9 L155.2 73.4 L155.0 74.2 L154.8 75.1 L154.1 74.8 L153.9 74.2 L153.8 73.3Z" fill="#d3d3d3" stroke="#1c1c1c" stroke-width="0.45" stroke-linejoin="round"/>
<path d="M156.6 79.9 L156.6 79.7 L156.8 79.5 L157.1 79.7 L157.1 79.9 L157.1 80.1 L156.7 80.2Z" fill="#f2f2f2" stroke="#1c1c1c" stroke-width="0.45" stroke-linejoin="round"/>
<path d="M144.4 85.2 L144.8 85.6 L145.4 86.2 L144.4 86.5 L143.7 86.4 L142.9 86.0 L143.7 85.4Z" fill="#d3d3d3" stroke="#1c1c1c" stroke-width="0.45" stroke-linejoin="round"/>
<path d="M143.4 88.4 L143.0 88.5 L142.9 88.1 L143.2 87.6 L143.6 87.7 L144.0 87.8 L143.6 88.2Z" fill="#f2f2f2" stroke="#1c1c1c" stroke-width="0.45" stroke-linejoin="round"/>
<path d="M155.5 79.2 L155.8 79.4 L155.8 79.7 L155.6 80.2 L155.0 80.0 L154.7 79.5 L155.1 79.1Z" fill="#f2f2f2" stroke="#1c1c1c" stroke-width="0.45" stroke-linejoin="round"/>
<path d="M142.3 84.7 L142.6 84.6 L142.6 84.9 L142.4 85.1 L142.2 85.0 L141.9 85.0 L142.0 84.8Z" fill="#d3d3d3" stroke="#1c1c1c" stroke-width="0.45" stroke-linejoin="round"/>
<path d="M148.4 82.4 L148.9 82.8 L149.0 83.4 L148.3 83.6 L147.8 83.3 L147.1 82.7 L147.7 82.2Z" fill="#d3d3d3" stroke="#1c1c1c" stroke-width="0.45" stroke-linejoin="round"/>
<path d="M142.8 87.3 L143.5 87.7 L143.6 88.3 L143.5 88.9 L142.9 89.5 L142.4 88.8 L142.4 88.0Z" fill="#f2f2f2" stroke="#1c1c1c" stroke-width="0.45" stroke-linejoin="round"/>
<path d="M153.0 82.1 L152.4 82.2 L152.0 81.8 L152.3 81.4 L152.7 81.2 L153.2 81.2 L153.3 81.7Z" fill="#d3d3d3" stroke="#1c1c1c" stroke-width="0.45" stroke-linejoin="round"/>
<path d="M152.5 80.0 L152.9 80.2 L152.8 80.6 L152.3 80.7 L151.8 80.5 L152.0 80.2 L152.1 80.0Z" fill="#e6e6e6" stroke="#1c1c1c" stroke-width="0.45" stroke-linejoin="round"/>
<path d="M143.2 86.3 L143.6 86.3 L143.9 87.0 L143.6 87.4 L143.3 87.9 L142.9 87.3 L143.0 86.7Z" fill="#e6e6e6" stroke="#1c1c1c" stroke-width="0.45" stroke-linejoin="round"/>
<path d="M141.3 83.5 L140.7 83.6 L140.2 83.2 L140.0 82.8 L140.2 82.3 L140.8 82.6 L141.2 82.9Z" fill="#f2f2f2" stroke="#1c1c1c" stroke-width="0.45" stroke-linejoin="round"/>
<path d="M162.3 76.1 L161.6 76.1 L161.8 75.1 L162.3 74.4 L162.9 74.3 L163.0 75.1 L163.0 76.1Z" fill="#e6e6e6" stroke="#1c1c1c" stroke-width="0.45" stroke-linejoin="round"/>
<path d="M159.5 77.3 L159.4 77.8 L159.2 78.3 L158.8 78.0 L158.6 77.5 L158.7 77.2 L159.1 76.9Z" fill="#f2f2f2" stroke="#1c1c1c" stroke-width="0.45" stroke-linejoin="round"/>
<path d="M143.7 83.5 L143.6 84.0 L143.4 84.1 L143.1 84.0 L142.9 83.7 L143.0 83.3 L143.3 83.3Z" fill="#d3d3d3" stroke="#1c1c1c" stroke-width="0.45" stroke-linejoin="round"/>
<path d="M161.3 74.7 L160.6 74.6 L160.6 74.0 L161.2 73.6 L162.0 73.5 L162.5 74.0 L161.8 74.4Z" fill="#e6e6e6" stroke="#1c1c1c" stroke-width="0.45" stroke-linejoin="round"/>
<path d="M156.7 78.4 L157.4 79.0 L157.3 79.7 L156.5 79.5 L155.9 79.1 L155.7 78.4 L155.8 77.6Z" fill="#d3d3d3" stroke="#1c1c1c" stroke-width="0.45" stroke-linejoin="round"/>
<path d="M150.3 81.2 L149.9 81.0 L149.6 80.7 L149.9 80.2 L150.5 80.3 L150.9 80.7 L150.7 81.0Z" fill="#e6e6e6" stroke="#1c1c1c" stroke-width="0.45" stroke-linejoin="round"/>
<path d="M150.0 80.5 L150.1 80.1 L150.6 80.5 L151.0 80.9 L150.7 81.1 L150.3 81.2 L150.0 80.8Z" fill="#e6e6e6" stroke="#1c1c1c" stroke-width="0.45" stroke-linejoin="round"/>
<path d="M143.1 82.5 L143.9 83.2 L144.8 84.0 L143.7 84.4 L142.9 84.5 L142.3 83.9 L142.0 82.9Z" fill="#d3d3d3" stroke="#1c1c1c" stroke-width="0.45" stroke-linejoin="round"/>
<path d="M158.6 75.4 L158.5 75.7 L158.5 76.1 L158.2 76.1 L158.1 75.7 L158.0 75.2 L158.3 75.2Z" fill="#d3d3d3" stroke="#1c1c1c" stroke-width="0.45" stroke-linejoin="round"/>
<path d="M146.3 77.6 L146.8 78.0 L146.7 78.8 L146.2 79.6 L145.2 80.3 L144.8 79.4 L145.6 78.3Z" fill="#f2f2f2" stroke="#1c1c1c" stroke-width="0.45" stroke-linejoin="round"/>
<path d="M159.9 73.4 L159.4 73.8 L158.8 73.4 L158.8 72.8 L159.1 72.3 L159.6 72.2 L159.9 72.8Z" fill="#f2f2f2" stroke="#1c1c1c" stroke-width="0.45" stroke-linejoin="round"/>
<path d="M157.2 70.4 L158.2 70.4 L158.4 71.0 L158.1 71.7 L157.2 71.8 L156.3 71.8 L156.5 71.1Z" fill="#d3d3d3" stroke="#1c1c1c" stroke-width="0.45" stroke-linejoin="round"/>
<path d="M147.9 79.2 L148.4 79.0 L148.5 79.6 L148.2 80.2 L147.7 80.3 L147.5 80.0 L147.4 79.4Z" fill="#e6e6e6" stroke="#1c1c1c" stroke-width="0.45" stroke-linejoin="round"/>
<path d="M154.6 77.5 L153.7 77.1 L153.2 76.7 L153.3 76.1 L154.1 75.9 L154.6 76.4 L155.1 76.9Z" fill="#d3d3d3" stroke="#1c1c1c" stroke-width="0.45" stroke-linejoin="round"/>
<path d="M150.4 82.3 L150.8 82.8 L150.7 83.8 L150.0 84.5 L149.6 83.6 L149.3 83.0 L149.7 82.1Z" fill="#f2f2f2" stroke="#1c1c1c" stroke-width="0.45" stroke-linejoin="round"/>
<path d="M155.0 79.5 L154.1 78.7 L153.8 77.9 L154.0 76.8 L155.0 77.1 L156.1 77.4 L155.5 78.4Z" fill="#f2f2f2" stroke="#1c1c1c" stroke-width="0.45" stroke-linejoin="round"/>
<path d="M164.0 73.8 L163.7 74.6 L162.8 74.7 L161.9 75.0 L162.3 74.3 L162.5 73.7 L163.4 73.5Z" fill="#d3d3d3" stroke="#1c1c1c" stroke-width="0.45" stroke-linejoin="round"/>
<path d="M139.8 85.2 L140.4 84.5 L141.4 84.5 L142.0 85.6 L141.7 86.4 L141.1 87.0 L140.3 86.2Z" fill="#e6e6e6" stroke="#1c1c1c" stroke-width="0.45" stroke-linejoin="round"/>
<path d="M155.5 74.9 L155.4 75.1 L155.1 75.3 L154.9 75.2 L154.9 75.0 L155.0 74.6 L155.4 74.6Z" fill="#f2f2f2" stroke="#1c1c1c" stroke-width="0.45" stroke-linejoin="round"/>
<path d="M138.6 85.1 L138.9 84.6 L139.2 84.8 L139.4 85.1 L139.0 85.5 L138.7 85.5 L138.3 85.4Z" fill="#f2f2f2" stroke="#1c1c1c" stroke-width="0.45" stroke-linejoin="round"/>
<path d="M173.0 69.7 L173.1 69.4 L173.2 69.3 L173.5 69.2 L173.5 69.5 L173.5 69.7 L173.3 69.8Z" fill="#e6e6e6" stroke="#1c1c1c" stroke-width="0.45" stroke-linejoin="round"/>
<path d="M167.4 70.0 L167.0 69.8 L167.4 69.4 L167.9 69.2 L168.3 69.3 L168.5 69.5 L168.0 69.8Z" fill="#d3d3d3" stroke="#1c1c1c" stroke-width="0.45" stroke-linejoin="round"/>
<path d="M167.0 75.5 L166.3 75.0 L166.4 74.3 L167.1 74.0 L167.6 74.0 L168.0 74.4 L167.8 75.1Z" fill="#f2f2f2" stroke="#1c1c1c" stroke-width="0.45" stroke-linejoin="round"/>
<path d="M168.1 75.7 L167.8 76.5 L167.4 76.7 L167.0 76.8 L166.8 76.3 L167.1 75.6 L167.8 75.3Z" fill="#e6e6e6" stroke="#1c1c1c" stroke-width="0.45" stroke-linejoin="round"/>
<path d="M164.3 71.2 L165.0 70.6 L165.5 69.8 L166.1 70.5 L166.7 71.2 L166.1 71.9 L165.0 72.0Z" fill="#e6e6e6" stroke="#1c1c1c" stroke-width="0.45" stroke-linejoin="round"/>
<path d="M174.6 73.9 L174.4 74.2 L174.2 74.1 L174.1 73.8 L174.3 73.5 L174.6 73.2 L174.8 73.6Z" fill="#f2f2f2" stroke="#1c1c1c" stroke-width="0.45" stroke-linejoin="round"/>
<path d="M177.5 71.6 L177.7 71.7 L177.6 71.9 L177.4 72.0 L177.3 71.8 L177.2 71.6 L177.3 71.5Z" fill="#d3d3d3" stroke="#1c1c1c" stroke-width="0.45" stroke-linejoin="round"/>
<path d="M177.7 68.6 L177.9 68.8 L177.7 69.1 L177.5 69.5 L177.2 69.2 L177.2 68.7 L177.5 68.5Z" fill="#e6e6e6" stroke="#1c1c1c" stroke-width="0.45" stroke-linejoin="round"/>
<path d="M170.9 69.0 L170.9 69.8 L170.1 70.0 L169.3 70.2 L169.0 69.6 L169.2 68.8 L170.0 69.0Z" fill="#d3d3d3" stroke="#1c1c1c" stroke-width="0.45" stroke-linejoin="round"/>
<path d="M168.6 75.7 L168.9 76.0 L168.9 76.5 L168.5 76.8 L168.0 76.9 L168.1 76.3 L168.0 75.8Z" fill="#e6e6e6" stroke="#1c1c1c" stroke-width="0.45" stroke-linejoin="round"/>
<path d="M177.4 70.1 L177.5 70.3 L177.6 70.7 L177.3 70.8 L177.1 70.6 L177.2 70.2 L177.3 70.1Z" fill="#d3d3d3" stroke="#1c1c1c" stroke-width="0.45" stroke-linejoin="round"/>
<path d="M171.6 71.9 L172.2 71.4 L172.8 71.4 L173.6 71.6 L173.5 72.4 L172.7 72.5 L172.0 72.5Z" fill="#d3d3d3" stroke="#1c1c1c" stroke-width="0.45" stroke-linejoin="round"/>
<path d="M173.1 73.9 L173.6 74.5 L173.4 74.9 L172.9 75.2 L172.1 75.3 L172.0 74.7 L172.2 74.3Z" fill="#d3d3d3" stroke="#1c1c1c" stroke-width="0.45" stroke-linejoin="round"/>
<path d="M178.6 69.8 L179.2 70.3 L179.3 71.1 L178.8 71.4 L178.1 71.4 L178.0 70.6 L177.9 69.9Z" fill="#e6e6e6" stroke="#1c1c1c" stroke-width="0.45" stroke-linejoin="round"/>
<path d="M184.3 68.1 L184.1 67.8 L184.4 67.6 L184.8 67.2 L184.9 67.7 L185.1 68.1 L184.6 68.4Z" fill="#f2f2f2" stroke="#1c1c1c" stroke-width="0.45" stroke-linejoin="round"/>
<path d="M168.1 71.4 L167.7 71.3 L167.4 71.2 L167.4 71.0 L167.6 70.9 L167.9 71.0 L168.2 71.2Z" fill="#e6e6e6" stroke="#1c1c1c" stroke-width="0.45" stroke-linejoin="round"/>
<path d="M172.0 71.1 L173.0 71.3 L172.6 72.2 L171.9 72.7 L170.9 72.7 L170.6 71.8 L171.4 71.2Z" fill="#f2f2f2" stroke="#1c1c1c" stroke-width="0.45" stroke-linejoin="round"/>
<path d="M166.9 75.5 L166.6 75.6 L166.4 75.3 L166.4 74.8 L166.7 74.6 L167.0 74.5 L167.1 75.0Z" fill="#f2f2f2" stroke="#1c1c1c" stroke-width="0.45" stroke-linejoin="round"/>
<path d="M175.1 69.5 L175.9 68.8 L176.8 68.7 L177.5 69.5 L176.9 70.3 L176.2 70.9 L175.6 70.3Z" fill="#f2f2f2" stroke="#1c1c1c" stroke-width="0.45" stroke-linejoin="round"/>
<path d="M184.0 68.8 L184.1 69.4 L184.1 69.8 L183.5 70.4 L183.0 70.1 L183.0 69.8 L183.3 69.2Z" fill="#f2f2f2" stroke="#1c1c1c" stroke-width="0.45" stroke-linejoin="round"/>
<path d="M174.5 76.6 L173.9 77.2 L173.3 77.4 L173.2 76.7 L173.5 76.1 L174.1 75.3 L174.5 75.9Z" fill="#d3d3d3" stroke="#1c1c1c" stroke-width="0.45" stroke-linejoin="round"/>
<path d="M167.3 76.7 L166.7 76.8 L166.7 76.3 L166.7 75.9 L167.2 75.8 L167.6 76.1 L167.8 76.6Z" fill="#e6e6e6" stroke="#1c1c1c" stroke-width="0.45" stroke-linejoin="round"/>
<path d="M87.3 105.7 L87.2 106.1 L86.9 106.3 L86.6 106.3 L86.7 105.9 L86.7 105.5 L87.0 105.7Z" fill="#d3d3d3" stroke="#1c1c1c" stroke-width="0.45" stroke-linejoin="round"/>
<path d="M83.8 104.2 L83.8 103.9 L84.2 103.5 L84.5 103.8 L84.6 104.0 L84.5 104.4 L84.1 104.4Z" fill="#e6e6e6" stroke="#1c1c1c" stroke-width="0.45" stroke-linejoin="round"/>
<path d="M83.3 97.8 L83.4 98.1 L83.4 98.4 L83.3 98.7 L82.9 98.7 L82.9 98.4 L82.9 98.0Z" fill="#e6e6e6" stroke="#1c1c1c" stroke-width="0.45" stroke-linejoin="round"/>
<path d="M76.6 105.3 L76.3 105.4 L76.2 105.3 L76.1 105.1 L76.4 104.8 L76.7 104.8 L76.7 105.1Z" fill="#f2f2f2" stroke="#1c1c1c" stroke-width="0.45" stroke-linejoin="round"/>
<path d="M186.9 68.1 L186.9 67.8 L187.2 67.8 L187.5 68.0 L187.7 68.3 L187.6 68.6 L187.2 68.3Z" fill="#e6e6e6" stroke="#1c1c1c" stroke-width="0.45" stroke-linejoin="round"/>
<path d="M197.8 65.5 L198.1 65.6 L198.1 65.8 L197.9 65.9 L197.6 65.9 L197.5 65.7 L197.5 65.5Z" fill="#d3d3d3" stroke="#1c1c1c" stroke-width="0.45" stroke-linejoin="round"/>
<path d="M193.1 64.0 L193.4 64.0 L193.7 64.2 L194.0 64.7 L193.5 64.8 L193.1 64.8 L193.0 64.3Z" fill="#d3d3d3" stroke="#1c1c1c" stroke-width="0.45" stroke-linejoin="round"/>
<circle cx="272.8" cy="81.3" r="1.3" fill="#222"/>
<circle cx="271.5" cy="79.7" r="0.6" fill="#222"/>
<circle cx="270" cy="82.6" r="0.6" fill="#222"/>
<circle cx="266.5" cy="83.6" r="0.5" fill="#222"/>
<circle cx="262.5" cy="84.8" r="0.5" fill="#222"/>
<circle cx="258.8" cy="86.4" r="0.5" fill="#222"/>
<circle cx="255.4" cy="89.5" r="0.5" fill="#222"/>
<circle cx="253.4" cy="92.9" r="0.5" fill="#222"/>
<circle cx="252.6" cy="96" r="0.5" fill="#222"/>
<circle cx="192.8" cy="84.2" r="0.7" fill="#222"/>
<circle cx="195.4" cy="100.3" r="0.6" fill="#222"/>
<circle cx="197" cy="101.6" r="0.6" fill="#222"/>
<circle cx="196" cy="97.2" r="0.4" fill="#222"/>
<circle cx="114.2" cy="131.5" r="0.5" fill="#222"/>
<circle cx="113.6" cy="135.2" r="0.6" fill="#222"/>
<circle cx="115.6" cy="137.4" r="0.5" fill="#222"/>
<circle cx="119.2" cy="141.2" r="0.7" fill="#222"/>
<circle cx="117" cy="139.8" r="0.5" fill="#222"/>
<circle cx="122.5" cy="147.3" r="0.5" fill="#222"/>
<circle cx="124.8" cy="142.9" r="0.4" fill="#222"/>
<circle cx="135.6" cy="148.5" r="0.5" fill="#222"/>
<circle cx="93.2" cy="133.5" r="0.5" fill="#222"/>
<circle cx="95" cy="137" r="0.5" fill="#222"/>
<circle cx="98.2" cy="139.4" r="0.6" fill="#222"/>
<circle cx="99.3" cy="142.5" r="0.5" fill="#222"/>
<circle cx="97.4" cy="146" r="0.5" fill="#222"/>
<circle cx="94.2" cy="149.2" r="0.4" fill="#222"/>
<circle cx="91.6" cy="152.4" r="0.4" fill="#222"/>
<circle cx="87.3" cy="158.5" r="0.5" fill="#222"/>
<circle cx="87.8" cy="161.6" r="0.4" fill="#222"/>
<circle cx="144.3" cy="125.3" r="0.5" fill="#222"/>
<circle cx="146.4" cy="120.4" r="0.5" fill="#222"/>
<circle cx="150" cy="118.9" r="0.4" fill="#222"/>
<circle cx="155.5" cy="115.3" r="0.5" fill="#222"/>
<circle cx="216.2" cy="22.2" r="0.5" fill="#222"/>
<circle cx="214" cy="25.3" r="0.6" fill="#222"/>
<circle cx="215.9" cy="27.2" r="0.5" fill="#222"/>
<circle cx="219.5" cy="30.3" r="0.5" fill="#222"/>
<circle cx="224" cy="24.7" r="0.4" fill="#222"/>
<circle cx="228.4" cy="29" r="0.5" fill="#222"/>
<circle cx="234.7" cy="26.6" r="0.4" fill="#222"/>
<circle cx="238.8" cy="24.7" r="0.4" fill="#222"/>
<circle cx="245.3" cy="20.9" r="0.4" fill="#222"/>
<circle cx="276.6" cy="72.2" r="0.6" fill="#222"/>
<circle cx="275.3" cy="75.3" r="0.5" fill="#222"/>
<circle cx="277.2" cy="62.8" r="0.5" fill="#222"/>
<circle cx="281.2" cy="67.8" r="0.5" fill="#222"/>
<circle cx="303" cy="59.6" r="0.4" fill="#222"/>
<circle cx="210.2" cy="100.3" r="0.5" fill="#222"/>
<circle cx="220.9" cy="109" r="0.5" fill="#222"/>
<circle cx="235.2" cy="117.9" r="0.6" fill="#222"/>
<circle cx="177.5" cy="126.8" r="0.4" fill="#222"/>
<circle cx="88.5" cy="117.6" r="0.4" fill="#222"/>
<circle cx="80.3" cy="123.9" r="0.4" fill="#222"/>
<path d="M124.9 109.4h0M124.8 108.6h0M125.8 109.2h0M125.6 109.3h0M124.5 109.4h0M125.5 109.7h0M125.4 108.9h0M126.0 109.2h0M124.8 109.6h0M120.1 123.8h0M119.5 123.1h0M120.4 123.5h0M119.7 123.7h0M119.9 122.3h0M119.7 123.9h0M118.8 123.5h0M119.6 123.2h0M119.9 122.0h0M144.8 104.3h0M145.2 104.2h0M144.7 104.2h0M144.1 103.5h0M144.9 104.4h0M145.1 103.8h0M143.2 104.5h0M179.6 95.8h0M179.5 96.4h0M179.6 96.0h0M179.6 96.1h0M180.1 95.8h0M180.0 96.0h0M179.2 96.3h0M179.7 96.6h0M179.4 96.5h0M178.5 97.7h0M179.7 98.4h0M180.5 98.3h0M178.5 96.1h0M118.3 110.7h0M118.3 111.2h0M117.7 111.2h0M117.8 111.6h0M118.4 111.0h0M118.0 110.9h0M117.6 111.6h0M113.5 111.4h0M113.3 110.7h0M113.4 111.4h0M113.0 111.2h0M113.3 111.3h0M113.7 111.4h0M112.9 110.6h0M113.4 111.3h0M113.7 111.0h0M106.4 118.3h0M105.0 117.8h0M105.6 117.9h0M105.0 116.9h0M97.8 134.8h0M97.1 134.3h0M97.0 133.6h0M96.3 134.7h0M97.1 134.4h0M98.0 134.2h0M96.7 135.1h0M99.9 134.1h0M99.3 134.8h0M100.0 135.5h0M99.6 134.4h0M150.1 100.4h0M150.2 99.5h0M174.8 95.8h0M174.1 95.5h0M174.1 96.0h0M174.5 95.3h0M117.7 111.1h0M119.3 111.8h0M119.9 112.2h0M118.8 111.5h0M119.3 110.9h0M119.1 111.3h0M118.6 111.3h0M118.7 111.9h0M119.3 112.3h0M124.3 120.7h0M124.9 119.7h0M125.2 119.2h0M125.1 120.2h0M129.2 104.9h0M129.4 105.1h0M129.6 105.3h0M128.9 104.9h0M129.0 105.3h0M128.1 105.0h0M129.3 104.7h0M129.6 105.2h0M129.6 105.4h0M110.9 111.8h0M109.8 111.9h0M112.0 111.3h0M110.4 112.2h0M98.6 127.0h0M99.8 126.4h0M114.6 125.9h0M114.4 126.2h0M114.6 125.2h0M115.2 126.1h0M144.9 94.7h0M145.5 94.6h0M145.2 94.5h0M144.7 94.3h0M144.8 94.2h0M145.2 95.2h0M145.2 94.3h0M134.7 111.7h0M135.5 112.9h0M135.4 111.8h0M134.9 112.5h0M135.5 113.1h0M136.6 114.5h0M133.9 112.3h0M135.2 112.8h0M134.5 113.3h0M181.1 98.9h0M181.3 100.8h0M96.3 129.2h0M95.9 129.8h0M95.1 130.0h0M95.7 130.1h0M96.5 129.7h0M96.4 129.9h0M95.7 129.1h0M96.7 129.2h0M96.3 129.7h0M182.7 97.7h0M183.6 97.3h0M183.2 98.0h0M182.2 98.6h0M183.4 97.4h0M182.9 97.2h0M183.2 97.2h0M183.4 97.4h0M183.2 98.0h0M157.8 91.9h0M158.7 91.1h0M158.6 91.5h0M158.5 92.0h0M138.1 98.3h0M138.5 98.2h0M138.7 97.9h0M138.1 98.5h0M138.7 98.7h0M137.9 98.6h0M138.2 98.6h0M152.5 99.9h0M152.9 100.0h0M152.7 99.8h0M152.8 99.8h0M165.6 96.6h0M164.7 98.2h0M165.5 96.8h0M165.5 96.4h0M164.9 97.5h0M165.0 97.1h0M164.9 97.7h0M165.0 97.5h0M165.0 98.0h0M99.5 127.2h0M98.8 127.6h0M99.3 127.3h0M98.6 126.9h0M100.7 126.0h0M99.6 126.9h0M100.0 127.5h0M127.9 107.2h0M128.4 107.4h0M137.5 106.4h0M137.1 106.8h0M138.8 107.2h0M138.1 106.6h0M138.0 106.2h0M138.2 106.5h0M138.3 107.1h0M129.4 104.7h0M128.9 104.9h0M110.8 112.9h0M109.8 112.4h0M110.7 112.7h0M110.6 113.1h0M110.2 113.0h0M110.5 113.5h0M110.8 112.2h0M110.4 112.6h0M110.9 113.0h0M97.5 128.8h0M98.3 129.0h0M163.0 96.5h0M163.3 96.9h0M101.9 133.5h0M101.7 132.9h0M101.9 132.8h0M102.3 133.9h0M101.4 133.2h0M101.7 133.7h0M101.9 133.6h0M101.8 133.9h0M100.7 133.3h0M130.0 117.2h0M129.9 117.5h0M130.1 116.8h0M130.4 117.4h0M167.2 88.7h0M168.8 89.8h0M167.2 90.2h0M167.5 90.4h0M168.6 89.7h0M168.3 89.9h0M167.4 89.5h0M176.7 95.5h0M176.0 97.4h0M175.5 96.8h0M175.4 96.8h0M176.5 95.5h0M175.9 95.9h0M176.9 96.2h0M176.1 96.0h0M177.0 97.7h0M181.6 98.1h0M181.2 97.8h0M182.3 96.5h0M181.5 96.2h0M182.2 95.7h0M181.7 96.4h0M182.6 96.7h0M182.5 96.1h0M182.5 95.8h0M111.7 127.4h0M111.6 127.8h0M110.8 128.2h0M111.4 128.5h0M110.8 128.2h0M111.6 127.6h0M111.9 128.0h0M110.4 127.9h0M111.5 128.0h0M139.3 106.5h0M139.4 106.2h0M159.2 97.4h0M158.5 97.4h0M159.3 96.9h0M159.9 97.7h0M159.9 97.4h0M159.5 98.4h0M159.6 97.4h0M166.7 98.1h0M166.1 98.3h0M167.5 98.7h0M166.5 99.0h0M166.6 98.7h0M167.5 98.6h0M167.3 97.8h0M172.7 97.3h0M174.2 96.6h0M173.3 96.3h0M173.9 96.3h0M174.3 95.7h0M173.6 96.0h0M174.1 96.8h0M137.7 108.6h0M137.9 108.6h0M137.4 108.8h0M138.0 109.1h0M138.4 108.7h0M138.3 108.2h0M138.1 108.5h0M170.4 97.3h0M170.6 96.5h0M171.9 95.3h0M172.2 95.0h0M171.8 95.8h0M171.7 95.6h0M171.4 95.4h0M172.3 95.2h0M172.0 95.6h0M97.5 131.7h0M96.9 131.8h0M97.9 130.9h0M97.5 131.8h0M96.6 131.5h0M96.0 131.4h0M97.2 131.9h0M96.5 132.4h0M96.4 131.5h0M103.3 123.7h0M103.4 123.4h0M102.9 124.1h0M103.5 124.0h0M116.9 126.2h0M116.8 125.4h0M103.3 132.9h0M102.1 133.6h0M101.5 133.9h0M103.9 132.7h0M182.9 95.4h0M183.2 95.9h0M118.9 111.1h0M119.6 111.0h0M118.9 111.6h0M119.5 111.4h0M118.7 110.9h0M119.2 111.5h0M118.2 111.0h0M173.7 95.4h0M172.5 95.3h0M174.1 95.0h0M173.7 96.0h0M173.3 95.5h0M173.2 95.0h0M173.8 95.4h0M173.2 95.7h0M173.7 95.7h0M184.2 98.7h0M183.2 97.3h0M183.8 97.3h0M182.7 97.3h0M170.3 96.7h0M171.0 97.1h0M171.0 97.1h0M170.8 96.6h0M170.4 96.8h0M170.7 96.9h0M171.1 96.4h0M171.0 96.8h0M170.8 97.5h0M126.5 120.3h0M128.0 120.1h0M126.8 121.2h0M127.0 120.6h0M128.3 120.7h0M128.3 120.7h0M126.8 122.3h0M127.4 120.2h0M126.7 121.0h0M135.1 100.4h0M135.1 99.7h0M135.0 100.4h0M135.3 101.2h0M162.5 97.4h0M162.1 97.2h0M121.3 110.9h0M120.5 110.4h0M120.0 111.0h0M120.2 111.5h0M121.1 111.5h0M119.6 111.3h0M120.1 111.1h0M153.6 97.9h0M151.9 98.1h0M124.4 120.9h0M124.7 122.1h0M124.2 121.5h0M124.8 122.0h0M107.9 113.9h0M106.8 114.1h0M106.8 115.1h0M107.0 114.0h0M107.2 113.9h0M107.7 114.1h0M107.6 114.0h0M106.6 114.2h0M107.3 113.6h0M113.7 111.3h0M114.2 110.3h0M102.4 121.2h0M103.4 121.4h0M102.7 120.8h0M103.2 121.2h0M103.1 122.3h0M102.7 120.6h0M103.0 121.4h0M102.9 121.8h0M103.0 121.2h0M98.2 134.5h0M97.4 135.6h0M98.2 134.9h0M98.0 134.8h0M97.8 135.0h0M98.5 135.1h0M98.1 135.0h0M136.8 109.4h0M136.8 109.0h0M132.9 102.6h0M133.6 103.6h0M117.7 110.6h0M116.1 109.1h0M117.0 108.9h0M117.4 110.2h0M116.7 110.7h0M116.7 110.4h0M115.8 109.7h0M161.3 91.8h0M162.4 92.6h0M161.6 92.6h0M160.8 92.9h0M161.2 92.5h0M161.7 92.8h0M161.8 92.6h0M118.1 111.7h0M118.9 110.7h0M118.2 111.8h0M118.9 111.0h0M118.3 111.3h0M118.8 111.5h0M118.9 112.6h0M118.4 111.2h0M118.7 111.5h0M96.5 129.6h0M96.7 130.6h0M96.1 130.1h0M97.3 129.0h0M95.9 130.6h0M96.9 129.5h0M96.1 130.3h0M124.6 110.6h0M124.6 110.7h0M124.7 111.0h0M124.1 110.9h0M159.0 99.1h0M157.9 98.4h0M158.1 98.4h0M157.2 98.3h0M158.3 98.5h0M158.3 97.9h0M159.1 98.5h0M159.1 99.0h0M158.5 98.2h0M167.5 98.3h0M167.1 97.6h0M167.5 98.1h0M167.3 97.8h0M167.0 97.8h0M167.2 97.1h0M167.3 97.7h0M157.0 97.7h0M157.7 97.6h0M156.5 99.1h0M156.6 97.0h0M157.3 98.9h0M157.1 98.0h0M156.5 99.0h0M156.0 98.5h0M156.1 98.3h0M151.2 95.7h0M150.8 95.5h0M151.4 95.7h0M151.1 95.7h0M151.7 96.7h0M151.3 96.7h0M151.6 94.8h0M150.2 95.4h0M151.3 95.4h0M98.5 127.0h0M98.2 127.2h0M98.4 126.2h0M97.5 127.5h0M103.4 123.5h0M103.2 123.9h0M103.5 122.7h0M103.3 123.5h0M103.5 123.6h0M103.3 123.2h0M103.7 123.2h0M137.2 97.0h0M138.2 99.1h0M136.8 97.9h0M137.6 97.6h0M138.2 99.2h0M138.1 98.7h0M138.1 97.4h0M159.6 98.4h0M159.0 97.9h0M158.9 98.4h0M159.8 98.4h0M154.0 97.8h0M154.1 97.8h0M154.2 99.1h0M153.2 97.3h0M153.3 98.0h0M153.7 98.5h0M153.6 99.4h0M144.8 94.3h0M145.1 94.2h0M174.0 95.9h0M174.5 95.6h0M174.9 95.7h0M175.2 97.7h0M129.7 105.2h0M129.6 105.3h0M129.8 104.8h0M129.9 105.8h0M109.5 111.7h0M109.1 111.9h0M109.8 112.1h0M109.5 112.2h0M166.3 92.4h0M166.4 91.1h0M166.3 92.2h0M166.3 91.6h0M152.6 95.9h0M153.3 96.4h0M152.7 97.1h0M153.6 96.4h0M148.7 100.2h0M148.4 99.8h0M98.1 134.7h0M97.6 134.6h0M98.3 134.0h0M96.9 134.1h0M137.6 99.8h0M137.4 100.0h0M138.0 100.1h0M137.6 99.8h0M136.7 100.7h0M137.4 100.2h0M137.3 99.0h0M112.5 109.2h0M112.9 110.4h0M111.8 110.5h0M113.0 109.4h0M113.5 110.4h0M112.5 109.6h0M112.6 109.9h0M167.3 96.9h0M168.1 97.9h0M167.7 98.1h0M168.4 98.4h0M163.3 97.5h0M162.8 97.5h0M162.8 98.5h0M162.4 97.9h0M163.2 98.4h0M163.2 97.9h0M162.9 97.7h0M116.2 111.0h0M116.8 109.9h0M116.2 109.7h0M116.2 109.6h0M116.3 110.4h0M116.0 110.9h0M116.6 109.6h0M177.7 99.0h0M178.3 99.1h0M177.5 97.6h0M178.1 97.1h0M178.4 97.8h0M177.9 97.7h0M178.5 98.8h0M176.9 98.7h0M177.8 98.2h0M108.5 113.7h0M108.3 115.2h0M109.1 114.0h0M108.0 114.2h0M135.6 99.7h0M135.4 98.9h0M141.9 105.9h0M141.2 105.5h0M172.4 96.0h0M171.8 94.7h0M172.6 96.6h0M172.2 96.1h0M109.0 113.6h0M108.4 113.9h0M109.1 114.0h0M108.2 113.8h0M110.1 114.5h0M108.7 113.1h0M108.8 113.1h0M108.7 113.8h0M109.2 113.3h0M178.0 97.5h0M177.9 96.7h0M163.3 96.8h0M162.9 96.6h0M162.9 96.8h0M163.0 96.8h0M163.4 97.3h0M162.9 96.9h0M163.3 96.8h0M118.0 111.0h0M117.8 110.7h0M118.7 110.7h0M118.2 110.6h0M103.3 122.8h0M102.2 122.5h0M103.0 122.0h0M103.0 122.1h0M103.1 122.6h0M102.0 122.3h0M102.4 123.0h0M98.8 127.9h0M98.7 129.3h0M98.3 129.0h0M99.0 128.2h0M97.9 129.1h0M97.9 129.5h0M98.6 130.4h0M99.2 128.9h0M98.8 128.8h0M115.0 126.5h0M114.9 126.5h0M134.5 100.9h0M135.1 101.7h0M134.9 102.2h0M135.4 102.0h0M135.0 101.1h0M134.8 101.3h0M135.1 102.0h0M165.0 91.0h0M165.2 90.7h0M164.6 90.9h0M163.9 90.9h0M164.6 90.5h0M164.6 91.1h0M164.5 91.0h0M157.3 95.5h0M156.0 95.5h0M157.2 95.7h0M157.5 95.8h0M161.2 91.2h0M160.9 90.8h0M110.3 109.1h0M110.8 110.4h0M110.8 110.6h0M111.9 110.7h0M110.0 110.7h0M110.6 110.9h0M110.9 111.7h0M111.5 111.5h0M110.7 110.4h0M140.9 106.1h0M140.5 105.7h0M140.2 106.0h0M140.1 105.9h0M140.3 106.1h0M140.6 106.1h0M139.8 105.7h0M139.8 106.5h0M141.0 106.5h0M111.2 127.6h0M111.6 127.5h0M111.5 127.6h0M111.1 127.3h0M113.2 125.3h0M114.5 126.5h0M114.0 124.9h0M113.5 125.9h0M114.8 126.2h0M113.9 126.0h0M113.7 127.3h0M113.3 126.7h0M113.5 126.7h0M180.7 99.8h0M179.4 99.3h0M180.2 99.5h0M180.3 99.2h0M132.6 102.4h0M133.8 102.2h0M132.9 102.1h0M133.5 100.5h0M133.8 102.8h0M133.6 101.9h0M132.8 102.9h0M170.8 94.4h0M169.5 94.6h0M171.2 95.4h0M170.5 94.5h0M170.9 95.0h0M170.0 94.9h0M170.6 95.1h0M136.2 110.4h0M136.4 110.4h0M135.5 111.3h0M135.9 111.4h0M135.5 111.5h0M135.7 110.7h0M137.9 110.1h0M105.6 116.7h0M106.1 116.4h0M103.6 116.9h0M106.2 117.3h0M106.1 115.2h0M106.1 116.2h0M105.3 114.3h0M117.1 124.7h0M117.3 124.9h0M117.3 125.1h0M117.4 125.2h0M117.7 124.9h0M117.2 125.2h0M117.5 125.4h0M146.7 94.9h0M147.5 95.6h0M117.2 111.8h0M118.3 110.2h0M117.5 111.1h0M117.1 110.1h0M101.6 124.2h0M101.6 125.3h0M101.4 124.8h0M101.6 125.1h0M102.1 124.8h0M101.3 124.9h0M100.8 125.0h0M133.0 115.0h0M134.4 114.7h0M133.8 114.8h0M132.4 115.2h0M178.7 94.9h0M177.6 96.2h0M178.4 96.3h0M178.8 95.4h0M97.7 134.1h0M97.3 135.4h0M96.8 134.4h0M96.9 134.0h0M96.3 134.8h0M96.4 135.8h0M97.6 134.2h0M115.2 109.7h0M115.8 109.5h0M116.0 110.2h0M114.8 108.7h0M115.2 110.3h0M115.1 109.2h0M115.2 111.0h0M114.1 109.1h0M115.8 110.1h0M106.6 116.2h0M107.0 115.0h0M106.3 115.4h0M106.4 115.7h0M106.6 116.0h0M106.4 115.7h0M107.0 116.8h0M156.8 95.5h0M157.5 96.7h0M109.2 112.4h0M110.0 111.9h0M109.8 112.9h0M109.8 112.6h0M109.9 112.5h0M109.7 112.3h0M109.6 112.1h0M112.2 128.1h0M112.4 128.4h0M112.4 127.9h0M112.6 128.0h0M113.0 128.7h0M111.8 128.2h0M112.2 128.0h0M112.5 127.8h0M112.3 127.9h0M119.5 124.9h0M119.3 124.4h0M118.6 124.7h0M119.6 123.9h0M134.5 114.2h0M134.6 113.9h0M149.5 100.3h0M149.9 99.3h0M114.3 109.4h0M114.5 109.5h0M114.2 110.2h0M114.2 108.8h0M170.3 92.9h0M170.0 93.3h0M170.1 93.7h0M170.3 92.7h0M161.6 91.3h0M163.0 92.1h0M108.5 129.7h0M108.0 130.3h0M108.4 130.2h0M108.1 130.9h0M110.0 129.8h0M110.2 129.7h0M110.9 128.3h0M109.6 130.1h0M110.0 129.8h0M110.2 130.0h0M109.7 130.0h0M109.9 130.2h0M109.9 129.8h0M126.1 121.9h0M125.3 120.3h0M124.4 121.2h0M126.0 120.7h0M125.5 120.9h0M124.9 120.6h0M125.1 121.1h0M139.3 98.8h0M138.2 98.1h0M138.6 98.6h0M139.3 98.5h0M139.6 98.2h0M139.5 98.0h0M139.8 97.8h0M131.0 104.2h0M130.9 104.6h0M131.9 104.5h0M131.1 104.0h0M131.2 104.3h0M131.0 104.1h0M131.1 104.4h0M131.3 104.8h0M130.6 104.2h0M114.3 127.3h0M114.7 127.1h0M112.6 111.4h0M113.3 111.9h0M163.5 91.7h0M164.0 91.2h0M165.1 91.0h0M163.8 91.1h0M162.9 91.3h0M164.6 90.9h0M164.5 90.9h0M163.6 91.5h0M164.0 92.0h0M184.3 97.5h0M184.8 98.0h0M184.0 98.0h0M182.7 97.6h0M184.1 97.6h0M183.2 97.8h0M183.1 97.8h0M184.2 97.3h0M184.0 97.2h0M128.8 107.2h0M129.3 105.4h0M128.5 106.6h0M128.9 105.7h0M110.2 129.0h0M111.4 130.1h0M111.1 129.1h0M110.8 129.2h0M111.3 128.3h0M110.9 128.9h0M110.6 129.3h0M148.6 96.0h0M147.9 95.8h0M148.6 95.7h0M148.4 95.6h0M149.4 96.2h0M148.7 96.0h0M149.1 95.6h0M148.1 96.1h0M148.5 96.1h0M126.2 121.4h0M126.8 120.5h0M126.4 121.5h0M126.9 120.6h0M155.6 95.0h0M155.6 94.7h0M121.2 112.2h0M121.5 111.9h0M122.2 112.3h0M121.9 111.5h0M122.2 112.1h0M122.1 112.0h0M121.5 112.0h0M180.2 98.6h0M179.7 99.7h0M179.5 98.5h0M179.4 99.1h0M179.8 98.7h0M179.0 98.8h0M179.6 97.9h0M179.5 98.3h0M179.3 99.7h0M105.3 116.7h0M104.7 117.5h0M104.3 116.8h0M104.3 117.9h0M183.6 96.7h0M184.2 95.1h0M137.8 108.9h0M137.8 108.7h0M137.7 108.9h0M137.6 108.7h0M170.6 98.6h0M169.6 98.1h0M170.3 98.8h0M171.0 99.3h0M169.8 100.3h0M170.9 98.7h0M170.0 98.8h0M122.5 112.7h0M122.5 111.7h0M122.0 112.4h0M121.9 112.5h0M122.8 111.7h0M122.2 113.2h0M122.5 111.8h0M122.8 112.9h0M122.2 113.2h0M182.2 98.7h0M181.1 99.2h0M181.8 98.2h0M181.0 99.5h0M181.8 98.3h0M182.1 98.9h0M182.2 99.3h0M180.9 97.9h0M181.5 98.3h0M116.7 124.9h0M116.4 122.8h0M117.2 124.8h0M117.2 124.7h0M115.9 123.9h0M116.2 124.8h0M116.9 124.7h0M181.7 98.9h0M182.0 98.6h0M179.2 94.8h0M179.8 95.6h0M179.0 95.0h0M179.4 95.5h0M100.3 135.2h0M99.2 135.3h0M99.9 135.3h0M98.8 135.9h0M129.8 117.5h0M129.7 118.0h0M157.1 93.0h0M157.3 95.2h0M158.0 94.0h0M158.0 94.1h0M157.1 93.5h0M157.3 93.2h0M156.4 94.3h0M157.5 94.3h0M157.5 93.8h0M105.4 132.6h0M105.8 133.3h0M113.3 111.0h0M112.8 110.5h0M116.5 123.7h0M117.3 123.8h0M118.2 123.5h0M117.6 123.5h0M117.0 124.4h0M117.5 124.9h0M117.0 123.3h0M157.9 97.9h0M157.3 97.6h0M157.8 96.8h0M158.0 97.7h0M158.2 98.2h0M158.7 97.6h0M157.0 97.3h0M158.4 99.0h0M157.6 98.2h0M129.8 103.8h0M130.2 104.7h0M129.3 104.1h0M130.0 104.9h0M128.4 104.3h0M130.2 104.7h0M130.2 104.0h0M129.2 104.2h0M130.6 103.2h0M177.7 97.0h0M178.9 97.6h0M178.6 97.1h0M178.9 96.9h0M178.4 97.0h0M177.6 96.9h0M177.5 97.5h0M104.1 121.5h0M103.8 122.6h0M103.9 122.7h0M103.2 122.7h0M125.1 121.5h0M124.5 122.3h0M124.4 122.3h0M126.1 121.8h0M125.5 122.5h0M125.3 121.8h0M125.8 121.0h0M160.0 90.2h0M159.8 91.3h0M160.5 90.6h0M158.6 90.8h0M159.8 91.1h0M159.8 90.2h0M159.9 92.1h0M159.9 90.6h0M159.8 90.7h0M110.9 111.1h0M111.3 111.0h0M135.6 110.7h0M135.6 110.8h0M151.2 100.2h0M150.5 100.2h0M150.9 100.0h0M151.4 100.1h0M150.8 100.1h0M151.2 100.0h0M150.7 100.6h0M160.2 96.8h0M160.7 98.8h0M161.0 98.8h0M161.4 97.3h0M110.6 112.9h0M110.2 112.9h0M109.5 112.1h0M110.1 113.3h0M110.1 114.2h0M109.4 112.5h0M110.3 113.7h0M109.0 113.6h0M109.3 112.5h0M135.6 109.9h0M136.2 109.4h0M136.4 109.5h0M135.2 109.0h0M136.2 109.0h0M135.6 110.0h0M135.8 110.4h0M110.4 127.6h0M110.6 128.5h0M110.7 128.5h0M111.3 128.3h0M110.1 129.3h0M110.9 128.8h0M110.8 128.6h0M104.3 118.1h0M104.5 118.4h0M104.4 117.2h0M105.2 117.5h0M104.8 119.3h0M105.3 118.0h0M105.2 119.5h0M154.5 95.4h0M154.4 94.7h0M155.3 95.0h0M154.6 95.5h0M155.2 94.5h0M155.3 95.3h0M155.8 94.3h0M183.0 97.4h0M183.5 97.5h0M164.8 100.6h0M165.1 101.2h0M165.0 101.0h0M164.9 100.9h0M164.5 100.8h0M164.7 101.2h0M164.6 101.5h0M164.3 101.2h0M164.4 101.3h0M167.1 102.1h0M167.3 102.6h0M166.8 101.8h0M167.2 101.3h0M166.6 102.1h0M166.3 101.3h0M166.5 102.2h0M172.5 85.4h0M169.1 85.8h0M172.0 83.3h0M171.4 86.2h0M170.7 88.8h0M172.9 83.9h0M171.8 85.1h0M171.3 86.5h0M173.9 84.9h0M172.0 85.8h0M172.7 85.0h0M172.2 88.0h0M171.0 87.1h0M169.7 84.7h0M172.0 86.2h0M171.5 84.3h0M170.2 83.6h0M171.1 84.2h0M168.6 87.6h0M172.3 86.5h0M171.6 86.3h0M171.0 86.5h0M174.3 88.1h0M171.3 86.0h0M172.6 84.6h0M170.9 83.7h0M170.9 87.5h0M171.1 90.4h0M173.8 84.9h0M172.7 85.4h0M184.2 92.9h0M184.6 92.5h0M183.6 93.8h0M185.1 93.3h0M183.1 92.0h0M183.4 93.3h0M184.2 93.3h0M185.0 92.8h0M183.9 92.9h0M183.9 92.9h0M182.5 89.0h0M181.3 89.1h0M182.5 89.6h0M182.1 89.6h0M182.1 88.8h0M180.9 89.5h0M181.3 88.6h0M182.6 90.3h0M182.5 90.2h0M181.6 89.2h0M215.2 101.0h0M214.6 101.1h0M214.9 101.3h0M214.5 101.1h0M214.8 101.1h0M214.3 100.7h0M214.5 101.7h0M215.1 101.3h0M214.5 101.4h0M223.1 104.0h0M222.7 104.9h0M221.0 104.5h0M221.5 104.2h0M220.8 104.9h0M222.3 105.4h0M222.6 104.5h0M222.6 104.4h0M222.8 105.1h0M217.6 104.7h0M217.1 104.7h0M217.5 104.5h0M217.2 104.5h0M221.4 99.2h0M220.2 98.3h0M221.6 98.0h0M221.2 98.5h0M220.8 98.1h0M220.0 100.0h0M221.7 98.6h0M220.7 99.2h0M221.4 98.2h0M220.3 99.6h0M221.1 98.2h0M221.7 99.8h0M219.7 99.1h0M220.7 98.0h0M219.5 97.8h0M220.3 98.8h0M220.8 96.7h0M220.1 98.1h0M209.5 100.7h0M208.5 99.4h0M208.3 100.3h0M209.7 99.3h0M213.0 100.0h0M212.9 99.5h0M212.0 100.4h0M212.9 100.6h0M212.5 100.4h0M212.4 100.2h0M212.3 100.5h0M213.4 99.9h0M212.9 100.3h0M220.8 98.8h0M222.1 98.7h0M222.4 99.2h0M222.6 98.7h0M221.0 99.0h0M221.6 100.0h0M222.8 98.4h0M222.0 99.3h0M222.5 98.8h0M212.0 99.7h0M214.7 101.0h0M214.1 100.6h0M213.9 101.3h0M208.6 99.2h0M209.4 98.2h0M209.1 98.5h0M209.8 98.5h0M209.3 98.5h0M208.8 99.4h0M208.7 98.7h0M220.0 104.0h0M220.9 104.9h0M221.2 105.2h0M221.3 105.5h0M221.3 105.1h0M221.5 105.4h0M221.8 106.3h0M221.6 105.0h0M221.1 105.7h0M218.4 106.1h0M219.1 104.7h0M223.7 98.0h0M223.0 97.8h0M219.1 99.1h0M219.6 100.0h0M219.8 99.7h0M219.6 100.0h0M219.7 100.1h0M218.9 100.1h0M219.6 99.5h0M217.2 103.7h0M216.4 103.6h0M222.9 105.5h0M223.7 106.1h0M222.9 105.9h0M223.8 106.3h0M223.1 105.8h0M223.8 105.2h0M223.3 105.8h0M220.7 100.2h0M220.3 100.4h0M220.3 99.9h0M221.1 100.6h0M220.3 100.0h0M220.2 99.8h0M220.2 100.5h0M226.8 101.7h0M226.0 102.3h0M226.2 102.0h0M226.0 102.0h0M226.3 101.9h0M226.4 101.9h0M225.7 102.3h0M225.5 102.6h0M226.9 102.2h0M218.8 99.4h0M218.3 99.1h0M220.2 100.7h0M219.4 99.9h0M219.4 100.4h0M218.9 99.7h0M218.9 100.1h0M219.7 99.7h0M218.8 100.9h0M221.3 104.9h0M221.1 105.1h0M221.2 104.9h0M221.6 104.8h0M222.0 105.6h0M221.0 104.8h0M221.3 105.5h0M221.8 104.8h0M221.7 105.6h0M213.3 99.7h0M214.0 99.5h0M212.8 100.3h0M212.9 100.5h0M214.3 104.2h0M214.1 103.7h0M228.4 98.7h0M227.8 98.3h0M228.0 97.4h0M228.4 97.8h0M228.2 97.9h0M228.9 98.6h0M228.7 97.8h0M230.8 98.8h0M231.4 99.3h0M231.5 99.2h0M230.8 99.2h0M247.2 80.7h0M246.3 80.1h0M246.8 79.9h0M247.2 80.5h0M247.0 80.1h0M247.5 80.5h0M247.1 81.0h0M246.4 79.6h0M246.7 80.2h0M265.4 59.4h0M265.4 60.0h0M264.5 60.1h0M267.0 59.9h0M265.9 60.1h0M265.6 60.4h0M264.8 60.7h0M265.8 59.8h0M266.5 60.1h0M231.8 94.5h0M231.2 94.4h0M231.9 94.0h0M231.1 94.3h0M230.2 94.8h0M230.9 93.7h0M231.0 94.5h0M231.0 94.1h0M230.1 95.0h0M245.8 81.5h0M246.3 81.8h0M262.9 55.0h0M263.1 54.2h0M262.7 54.4h0M263.0 54.4h0M259.4 68.3h0M258.6 68.6h0M236.5 93.9h0M236.7 93.1h0M237.2 94.0h0M237.8 93.8h0M236.8 92.7h0M236.7 94.0h0M236.2 93.4h0M236.1 93.0h0M236.6 93.9h0M266.1 61.6h0M265.6 62.5h0M266.2 61.1h0M266.2 61.9h0M264.6 62.6h0M266.3 62.1h0M265.1 62.7h0M266.0 62.3h0M266.0 62.0h0M259.7 69.1h0M260.1 67.9h0M260.0 67.5h0M259.8 68.4h0M260.2 68.0h0M259.7 67.4h0M260.7 66.9h0M259.2 67.4h0M260.8 67.1h0M242.1 83.5h0M243.1 84.0h0M243.3 85.1h0M242.8 84.8h0M242.1 84.4h0M241.4 84.8h0M242.6 83.9h0M242.3 84.9h0M242.4 84.1h0M247.0 78.9h0M246.3 78.9h0M246.8 79.2h0M246.4 79.1h0M245.9 79.4h0M246.8 79.7h0M246.2 79.7h0M243.7 85.5h0M241.6 85.4h0M242.6 85.7h0M241.6 85.8h0M242.4 85.4h0M242.1 85.5h0M242.4 86.1h0M245.4 81.8h0M245.8 81.3h0M245.6 82.7h0M244.5 82.7h0M245.7 82.3h0M244.7 81.7h0M245.2 81.8h0M244.3 81.4h0M245.7 81.6h0M256.0 74.0h0M256.9 74.1h0M260.2 68.2h0M260.1 68.4h0M259.9 68.3h0M259.7 68.1h0M265.2 64.9h0M264.3 64.9h0M263.5 64.6h0M264.3 64.0h0M264.4 63.8h0M264.2 64.8h0M265.0 63.2h0M260.6 68.0h0M261.7 67.7h0M232.1 90.8h0M232.5 90.9h0M233.2 90.8h0M231.9 90.6h0M251.1 82.2h0M251.2 82.7h0M250.0 82.7h0M250.5 82.7h0M250.0 82.6h0M251.2 83.7h0M251.8 82.1h0M264.9 55.2h0M265.0 55.5h0M251.9 71.3h0M250.9 71.6h0M267.7 58.2h0M268.2 58.0h0M231.1 94.0h0M230.7 94.5h0M252.0 81.7h0M251.8 80.9h0M251.4 80.4h0M251.3 81.1h0M245.2 88.1h0M244.7 88.0h0M244.6 88.1h0M245.0 88.0h0M244.2 87.7h0M244.1 87.8h0M244.3 87.8h0M245.0 87.8h0M245.2 88.2h0M248.8 82.8h0M248.0 82.0h0M249.1 82.5h0M249.4 82.0h0M249.6 82.3h0M250.1 82.3h0M248.9 82.2h0M238.1 88.3h0M238.0 88.0h0M254.5 79.0h0M253.7 79.8h0M253.4 66.4h0M253.7 66.9h0M251.6 79.6h0M252.8 80.0h0M253.9 80.4h0M252.6 79.8h0M252.1 79.9h0M253.2 79.6h0M252.5 79.4h0M248.2 77.5h0M248.8 77.4h0M257.0 71.4h0M256.9 73.1h0M256.7 71.3h0M256.8 72.0h0M247.7 77.8h0M247.8 78.6h0M248.0 77.8h0M248.1 77.7h0M247.3 78.1h0M247.3 78.5h0M247.7 78.9h0M246.6 79.1h0M247.1 78.7h0M247.4 78.9h0M247.5 79.1h0M236.0 93.8h0M235.7 96.1h0M236.3 95.8h0M237.3 95.5h0M236.5 89.0h0M238.6 88.9h0M251.0 80.8h0M250.7 81.6h0M250.4 80.5h0M250.3 81.2h0M251.0 82.0h0M251.0 81.4h0M251.1 81.3h0M250.8 81.1h0M251.2 81.6h0M266.2 56.8h0M265.3 56.3h0M254.4 77.5h0M254.7 76.7h0M253.3 78.0h0M253.9 76.7h0M255.3 77.4h0M253.7 77.0h0M254.2 78.0h0M255.1 76.0h0M254.5 77.0h0M251.2 78.5h0M252.3 80.1h0M251.1 80.4h0M252.0 78.9h0M241.1 84.8h0M241.5 87.0h0M241.6 87.2h0M241.5 85.6h0M241.0 85.4h0M242.2 86.0h0M240.7 86.2h0M241.6 85.8h0M242.4 85.4h0M268.3 57.3h0M267.7 57.8h0M268.2 57.7h0M266.9 57.5h0M246.7 84.3h0M245.7 86.1h0M246.7 85.5h0M248.1 85.0h0M247.6 86.1h0M246.7 84.7h0M247.4 85.3h0M254.3 76.8h0M254.4 77.0h0M253.5 76.3h0M253.8 76.0h0M254.7 76.2h0M254.6 77.2h0M255.0 76.1h0M253.8 76.3h0M255.4 77.0h0M266.5 56.7h0M267.5 55.9h0M231.0 92.2h0M232.1 90.9h0M250.3 82.0h0M251.1 83.0h0M250.9 83.7h0M251.4 84.0h0M243.5 85.0h0M243.5 83.9h0M258.9 59.4h0M258.3 59.1h0M258.7 59.1h0M259.7 58.6h0M259.5 59.1h0M259.1 59.7h0M259.4 59.4h0M250.2 81.7h0M250.1 82.3h0M251.1 82.6h0M250.7 82.6h0M250.8 82.7h0M250.6 82.1h0M250.1 82.2h0M250.6 82.2h0M250.5 82.5h0M267.0 59.2h0M267.2 59.8h0M267.5 59.8h0M266.5 59.4h0M265.4 61.1h0M265.7 61.9h0M265.5 61.5h0M266.2 60.2h0M265.1 61.1h0M266.1 60.1h0M265.4 60.8h0M266.3 59.9h0M265.5 61.4h0M251.1 82.8h0M250.8 81.1h0M250.8 82.5h0M250.2 82.5h0M250.4 81.8h0M252.5 81.6h0M250.5 81.0h0M261.0 64.8h0M262.0 65.6h0M261.1 65.8h0M261.3 66.3h0M247.6 76.5h0M249.7 76.0h0M248.8 76.2h0M248.6 75.8h0M266.0 60.6h0M265.9 60.4h0M266.3 60.8h0M266.2 61.1h0M266.1 61.1h0M266.3 60.4h0M266.4 61.0h0M263.5 64.9h0M262.9 65.8h0M247.4 81.4h0M248.3 79.9h0M247.4 81.0h0M247.3 80.5h0M248.0 81.4h0M248.1 80.8h0M247.4 81.1h0M251.3 71.6h0M252.0 71.7h0M250.1 73.7h0M250.7 74.2h0M254.9 75.1h0M255.1 76.3h0M245.1 82.2h0M245.2 82.1h0M245.4 81.2h0M244.2 80.9h0M266.2 57.0h0M266.5 57.8h0M266.4 57.0h0M267.0 56.7h0M266.7 57.0h0M266.5 57.2h0M266.2 56.8h0M267.1 58.4h0M267.0 58.2h0M262.8 55.8h0M263.1 56.5h0M263.0 56.1h0M261.5 56.6h0M248.8 76.6h0M247.4 77.6h0M248.8 77.2h0M247.9 77.2h0M248.1 76.7h0M249.0 76.6h0M248.3 76.4h0M252.6 81.7h0M252.6 80.9h0M252.8 80.6h0M252.7 81.2h0M252.9 81.5h0M252.3 80.6h0M252.3 81.7h0M252.4 81.2h0M252.7 81.3h0M241.5 86.7h0M241.3 87.4h0M238.5 87.5h0M239.9 88.2h0M240.2 87.2h0M239.9 86.3h0M239.3 87.6h0M233.5 91.9h0M232.9 91.2h0M233.6 92.3h0M233.2 92.0h0M263.9 64.8h0M263.7 64.9h0M263.9 64.4h0M262.9 64.3h0M264.1 65.0h0M263.9 64.5h0M263.4 64.3h0M252.4 80.0h0M252.6 80.5h0M251.5 79.7h0M252.9 80.2h0M253.1 79.6h0M252.7 80.6h0M252.9 80.0h0M252.7 81.7h0M252.8 81.5h0M230.9 96.5h0M231.0 96.5h0M230.9 96.8h0M231.1 96.8h0M238.6 93.3h0M238.4 93.2h0M261.5 55.7h0M261.4 55.5h0M237.3 94.5h0M236.9 95.0h0M236.0 94.6h0M236.7 94.2h0M237.5 94.9h0M236.5 94.3h0M237.3 94.5h0M236.9 95.3h0M236.5 94.5h0M268.3 50.9h0M268.9 51.0h0M268.3 50.8h0M268.4 50.0h0M269.9 58.1h0M269.8 56.6h0M269.3 57.7h0M269.7 57.9h0M267.5 50.1h0M267.9 50.4h0M268.3 51.2h0M268.7 50.7h0M268.3 51.0h0M268.8 51.0h0M269.6 50.1h0M267.4 50.5h0M268.2 51.4h0M271.1 56.2h0M271.6 56.1h0M270.3 55.9h0M271.0 55.7h0M271.6 55.4h0M271.2 56.3h0M271.3 55.9h0M271.2 55.7h0M271.8 55.9h0M267.5 50.8h0M267.4 51.1h0M272.8 54.8h0M272.6 55.7h0M272.3 54.3h0M271.8 56.7h0M272.8 56.1h0M272.5 54.6h0M272.0 55.7h0M271.4 55.1h0M271.9 55.2h0M268.8 57.2h0M269.0 57.2h0M268.9 57.1h0M268.3 56.4h0M268.5 56.6h0M269.0 56.0h0M268.8 55.8h0M275.0 48.6h0M275.1 48.2h0M275.0 48.7h0M275.0 48.3h0M298.2 40.8h0M299.0 40.7h0M298.9 41.0h0M298.9 40.4h0M287.2 50.8h0M287.2 50.8h0M287.3 50.4h0M287.2 50.6h0M289.6 42.7h0M289.2 42.4h0M292.9 43.2h0M292.7 42.4h0M293.0 41.2h0M292.8 42.1h0M293.1 42.6h0M293.1 42.2h0M292.2 43.1h0M292.6 41.9h0M292.8 42.5h0M291.7 41.9h0M293.0 41.9h0M292.8 42.1h0M292.5 41.9h0M292.3 41.7h0M292.3 42.0h0M292.8 42.7h0M302.2 39.7h0M301.7 38.8h0M301.9 39.7h0M302.2 39.5h0M302.1 39.5h0M302.9 39.8h0M302.6 40.3h0M302.8 40.3h0M301.9 38.7h0M286.8 41.1h0M286.3 40.6h0M276.1 53.8h0M277.4 52.0h0M276.2 53.0h0M276.4 52.3h0M277.5 51.8h0M277.3 52.8h0M278.1 52.7h0M277.1 40.9h0M278.1 41.5h0M277.6 41.5h0M277.8 41.6h0M308.0 34.3h0M309.4 34.3h0M279.0 53.4h0M278.6 53.4h0M279.3 53.6h0M279.7 53.4h0M314.6 28.6h0M314.5 29.2h0M314.5 28.5h0M313.9 28.5h0M314.9 28.8h0M315.3 28.7h0M314.9 29.2h0M314.4 28.6h0M314.5 29.3h0M288.6 49.8h0M289.4 49.9h0M289.3 49.1h0M290.2 49.6h0M288.8 49.6h0M288.8 50.3h0M289.3 49.8h0M290.0 49.1h0M289.2 49.8h0M276.5 52.4h0M276.3 50.5h0M276.5 51.5h0M276.8 51.0h0M276.7 51.8h0M276.7 52.3h0M277.6 51.3h0M300.0 42.0h0M300.6 39.7h0M300.5 41.7h0M300.1 40.1h0M299.4 40.2h0M300.4 39.9h0M300.7 40.6h0M299.4 41.0h0M300.5 40.1h0M275.8 52.8h0M275.7 52.5h0M275.6 53.1h0M275.4 52.5h0M310.2 35.7h0M310.1 36.2h0M310.7 35.9h0M310.2 36.5h0M309.5 35.9h0M309.8 35.7h0M309.9 36.1h0M280.1 41.1h0M280.8 41.4h0M279.6 41.3h0M280.5 40.4h0M281.5 40.7h0M280.2 41.2h0M281.6 41.3h0M310.2 30.6h0M310.1 28.7h0M275.6 41.1h0M277.4 44.4h0M276.5 43.0h0M276.0 41.8h0M276.6 42.6h0M276.6 43.5h0M276.4 43.3h0M294.8 41.1h0M294.4 41.4h0M311.4 26.9h0M311.6 27.1h0M311.4 26.8h0M311.2 27.1h0M311.8 27.2h0M311.7 27.0h0M312.1 26.4h0M311.3 27.6h0M311.6 26.7h0M302.3 38.1h0M302.3 38.2h0M302.1 38.1h0M302.5 38.1h0M301.9 37.5h0M302.0 37.8h0M302.1 37.1h0M311.3 33.7h0M310.6 33.5h0M311.2 35.0h0M310.5 33.7h0M310.7 33.4h0M310.9 33.7h0M311.0 33.8h0M310.7 33.6h0M310.3 34.1h0M303.7 38.1h0M303.9 38.1h0M304.2 38.8h0M304.4 38.4h0M281.0 53.1h0M280.8 52.5h0M280.5 51.8h0M281.7 51.8h0M280.6 52.2h0M280.5 52.0h0M280.7 52.1h0M296.8 47.4h0M296.5 46.3h0M297.0 47.6h0M298.1 46.5h0M297.2 46.7h0M297.2 46.2h0M296.7 46.4h0M300.5 46.0h0M300.1 45.6h0M300.2 45.5h0M299.5 46.0h0M299.8 45.4h0M300.8 45.9h0M300.0 45.5h0M299.6 45.7h0M300.2 44.8h0M312.7 28.7h0M312.2 29.8h0M280.9 41.9h0M281.1 41.1h0M282.6 42.8h0M281.4 42.9h0M281.9 42.4h0M281.3 42.7h0M281.4 43.3h0M281.7 42.8h0M280.6 42.3h0M286.5 50.5h0M286.0 50.2h0M286.0 49.7h0M285.4 50.1h0M286.2 49.9h0M286.4 49.9h0M286.3 50.4h0M285.6 50.4h0M285.9 49.7h0M295.1 42.4h0M294.8 42.3h0M294.9 42.3h0M295.1 42.0h0M303.3 43.2h0M302.7 44.6h0M279.5 41.9h0M278.1 41.0h0M278.6 41.8h0M278.7 41.7h0M290.6 42.9h0M289.9 42.3h0M290.1 42.4h0M291.3 42.4h0M289.8 43.2h0M290.6 41.6h0M290.9 41.6h0M288.6 50.8h0M288.8 51.3h0M286.5 41.9h0M286.6 40.4h0M305.2 44.1h0M304.5 41.9h0M303.4 43.4h0M304.1 42.7h0M297.7 46.4h0M297.8 46.1h0M298.5 46.4h0M297.3 45.9h0M297.7 45.6h0M298.0 45.1h0M297.3 45.4h0M298.4 46.1h0M296.7 45.6h0M287.5 50.9h0M287.1 50.8h0M287.5 50.7h0M287.2 50.9h0M286.4 49.6h0M287.3 50.5h0M287.8 50.4h0M287.7 50.5h0M287.7 50.7h0M305.0 40.5h0M305.0 40.8h0M305.4 40.3h0M305.4 39.8h0M281.7 52.4h0M281.3 51.7h0M303.3 42.4h0M302.5 41.9h0M308.7 38.6h0M308.8 37.6h0M293.3 42.2h0M293.4 41.6h0M305.7 38.8h0M306.3 39.7h0M289.8 43.8h0M289.6 41.6h0M289.4 42.0h0M289.5 42.9h0M288.7 42.5h0M290.1 41.8h0M289.2 41.6h0M302.7 42.3h0M303.6 42.8h0M303.3 43.7h0M302.1 42.0h0M292.0 47.9h0M293.0 48.5h0M293.2 47.4h0M292.3 48.7h0M309.9 36.0h0M310.0 35.7h0M310.1 36.2h0M310.2 34.9h0M303.4 41.9h0M303.0 41.6h0M277.5 42.2h0M276.3 42.1h0M278.5 42.1h0M278.4 41.3h0M275.1 48.0h0M275.2 46.4h0M276.5 46.3h0M276.3 46.2h0M275.7 47.0h0M275.5 46.4h0M274.1 45.6h0M274.7 46.7h0M274.4 46.2h0M281.6 53.1h0M282.4 53.8h0M311.8 31.1h0M310.7 30.8h0M310.3 31.6h0M309.9 30.4h0M310.5 31.1h0M309.7 30.5h0M309.3 30.4h0M309.8 31.1h0M309.8 32.1h0M298.9 46.1h0M298.2 47.0h0M298.5 46.5h0M297.6 45.4h0M299.3 45.5h0M299.0 45.4h0M299.2 45.0h0M298.7 45.4h0M298.8 46.3h0M314.6 31.1h0M313.9 30.4h0M313.5 30.8h0M313.5 31.3h0M304.1 35.9h0M304.8 36.4h0M288.5 49.6h0M289.1 50.0h0M289.0 50.0h0M288.2 48.9h0M286.3 51.3h0M286.1 50.6h0M286.4 50.8h0M286.6 51.6h0M287.1 51.1h0M286.7 51.5h0M286.8 51.0h0M285.8 51.2h0M286.0 51.1h0M276.9 47.7h0M276.9 47.0h0M276.7 47.2h0M276.6 47.2h0M289.7 51.2h0M288.6 50.8h0M288.1 50.9h0M289.8 50.3h0M289.3 51.8h0M287.8 50.8h0M289.0 50.9h0M296.9 40.5h0M298.1 41.0h0M306.5 35.7h0M305.8 35.8h0M311.8 31.9h0M312.1 31.7h0M311.4 32.2h0M312.7 32.1h0M275.8 53.0h0M275.6 53.2h0M275.6 52.6h0M276.2 52.7h0M288.0 50.1h0M287.8 49.8h0M288.0 50.5h0M287.5 49.6h0M287.7 49.7h0M287.4 49.8h0M287.0 49.6h0M312.6 26.2h0M311.8 26.7h0M287.4 51.3h0M288.8 51.8h0M288.4 50.6h0M288.5 50.8h0M307.0 34.9h0M306.2 35.1h0M307.7 38.9h0M308.1 38.8h0M307.9 38.6h0M308.2 38.4h0M307.7 38.7h0M308.2 38.8h0M307.9 39.5h0M308.1 39.5h0M308.3 38.3h0" stroke="#3434b4" stroke-width="1.1" stroke-linecap="round" fill="none"/>
<path d="M173.8 87.2h0M176.6 91.2h0M176.1 86.3h0M171.6 93.4h0M175.0 86.8h0M177.0 93.5h0M175.4 89.8h0M172.7 86.6h0M172.9 94.0h0M174.9 88.6h0M173.6 90.4h0M171.3 93.9h0M172.8 93.4h0M173.5 89.0h0M174.0 90.4h0M170.5 92.1h0M177.6 90.5h0M170.6 86.5h0M176.6 86.1h0M173.7 92.8h0M173.6 88.2h0M174.2 90.9h0M172.2 93.2h0M170.5 86.9h0M174.6 89.6h0M176.5 87.7h0M175.3 89.2h0M172.1 90.7h0M176.8 91.3h0M171.3 93.1h0M175.2 92.5h0M172.4 90.4h0M170.0 91.6h0M174.9 89.6h0M173.4 90.9h0M176.5 87.6h0M177.8 88.9h0M174.4 89.6h0M176.3 90.1h0M172.5 86.5h0M174.6 93.3h0M177.6 87.5h0M175.4 93.5h0M177.3 86.8h0M175.8 93.0h0M136.0 113.7h0M136.9 108.9h0M152.5 103.9h0M146.0 109.0h0M137.6 114.7h0M147.6 110.0h0M149.2 106.3h0M137.4 110.5h0M138.2 108.1h0M164.5 104.4h0M140.1 109.7h0M142.5 107.7h0M137.2 114.4h0M148.2 108.6h0M160.2 104.2h0M157.6 108.1h0M157.2 107.2h0M163.1 102.8h0M143.7 107.7h0M148.9 106.0h0M143.4 109.7h0M148.5 109.0h0M143.7 108.2h0M157.2 105.3h0M134.9 110.5h0M150.7 106.4h0M155.0 106.1h0M156.2 105.1h0M154.4 107.8h0M160.7 99.3h0M158.1 102.8h0M144.5 111.6h0M144.1 107.5h0M156.0 104.9h0M141.2 111.6h0M152.9 104.3h0M151.6 106.0h0M152.1 109.1h0" stroke="#cc6068" stroke-width="0.55" stroke-linecap="round" fill="none"/>
<path d="M112.6 113.5h0M113.3 113.9h0M111.9 112.9h0M114.1 112.9h0M111.4 112.2h0M112.1 113.2h0M111.7 113.1h0M137.5 101.0h0M136.4 102.9h0M136.6 102.6h0M136.8 101.3h0M137.2 101.5h0M138.5 101.8h0M137.3 102.3h0M167.8 98.6h0M168.0 98.3h0M167.9 98.1h0M167.5 98.1h0M168.5 97.4h0M167.0 98.8h0M167.6 98.2h0M118.0 117.1h0M116.2 116.7h0M117.4 117.6h0M118.3 116.6h0M117.3 117.6h0M117.2 115.8h0M117.8 118.7h0M98.7 135.4h0M98.3 133.6h0M99.4 135.1h0M99.3 134.2h0M97.4 133.4h0M98.3 133.6h0M99.3 133.7h0M148.4 95.3h0M146.7 94.4h0M147.2 95.7h0M149.0 95.7h0M146.4 93.3h0M148.3 95.7h0M145.7 95.7h0M102.4 124.2h0M102.6 123.3h0M101.7 123.1h0M102.9 124.2h0M102.5 125.2h0M103.0 124.5h0M103.7 123.6h0M125.4 119.0h0M125.3 119.8h0M124.4 120.0h0M125.4 120.8h0M125.5 119.2h0M124.5 118.8h0M124.8 120.6h0M135.6 101.6h0M135.6 103.2h0M136.7 102.1h0M136.2 102.2h0M136.2 102.0h0M135.9 101.4h0M135.7 103.1h0M102.6 132.8h0M103.5 132.4h0M102.4 132.2h0M103.5 131.6h0M102.6 132.7h0M103.4 133.2h0M103.4 132.0h0M101.2 126.1h0M101.5 127.0h0M100.9 125.4h0M100.6 125.2h0M99.8 126.5h0M101.4 126.6h0M100.6 126.4h0M115.3 114.5h0M112.8 114.1h0M113.8 113.3h0M112.4 114.3h0M114.3 114.6h0M112.0 115.1h0M114.0 114.0h0M107.1 126.2h0M106.8 125.9h0M106.9 125.3h0M107.0 125.2h0M106.7 125.5h0M107.2 126.0h0M106.6 125.7h0M132.3 113.4h0M131.8 113.7h0M132.0 113.3h0M132.8 114.7h0M133.1 113.0h0M132.5 114.3h0M133.0 113.8h0M104.7 128.5h0M104.0 127.8h0M104.5 129.1h0M105.9 126.8h0M104.8 128.6h0M104.1 127.0h0M103.9 127.4h0M161.3 92.7h0M160.1 92.0h0M160.9 94.2h0M160.4 92.2h0M160.3 92.0h0M160.1 92.5h0M161.6 92.7h0M170.3 93.4h0M169.1 93.7h0M169.0 93.8h0M168.3 92.7h0M169.4 92.6h0M167.5 92.7h0M168.1 93.4h0M102.4 131.2h0M100.5 131.1h0M101.8 130.6h0M103.1 131.2h0M101.7 131.1h0M101.5 130.8h0M102.0 131.5h0M142.5 95.3h0M142.4 94.8h0M143.3 94.2h0M144.9 95.1h0M143.0 94.6h0M144.3 96.2h0M143.3 94.1h0M138.8 98.9h0M139.7 100.1h0M137.6 98.2h0M138.8 100.0h0M138.5 100.6h0M137.8 100.0h0M139.3 99.1h0M107.8 121.5h0M104.4 122.9h0M105.7 123.0h0M104.2 123.5h0M106.5 121.8h0M105.4 122.9h0M105.3 122.9h0M146.2 97.8h0M145.1 97.5h0M144.1 96.6h0M145.3 96.3h0M147.2 98.0h0M146.3 97.2h0M147.5 98.3h0M114.7 125.3h0M116.4 124.6h0M114.2 124.9h0M115.0 123.6h0M116.0 124.4h0M115.8 123.8h0M116.1 123.7h0M106.2 119.6h0M104.8 118.9h0M105.9 119.5h0M105.8 119.7h0M105.8 120.1h0M105.4 119.2h0M105.8 119.7h0M111.2 123.8h0M110.8 125.9h0M111.4 124.2h0M109.3 124.0h0M110.4 124.5h0M112.5 125.0h0M111.1 123.8h0M120.9 114.2h0M120.3 112.9h0M120.0 114.5h0M119.3 113.8h0M118.5 114.3h0M120.5 113.9h0M119.9 113.6h0M142.8 96.9h0M142.7 97.3h0M142.8 96.2h0M142.8 96.5h0M142.4 97.1h0M143.9 96.5h0M142.8 96.6h0M117.4 115.5h0M116.9 116.0h0M116.7 115.9h0M116.5 115.4h0M116.6 115.8h0M116.7 115.3h0M117.0 116.1h0M129.1 112.7h0M129.7 111.2h0M128.7 112.7h0M129.0 113.0h0M128.9 110.6h0M128.1 112.8h0M129.8 112.5h0M117.9 115.9h0M117.2 116.2h0M117.7 116.0h0M118.0 115.7h0M116.8 115.8h0M117.3 117.3h0M118.4 116.0h0M116.9 115.9h0M117.4 116.0h0M118.2 115.9h0M116.9 115.6h0M116.7 115.3h0M116.6 116.4h0M117.1 115.9h0M113.0 110.9h0M112.9 111.0h0M112.9 110.9h0M113.3 110.9h0M113.2 110.8h0M114.1 110.9h0M112.8 111.2h0M131.2 109.3h0M130.6 110.3h0M132.2 109.8h0M132.0 107.6h0M132.2 108.3h0M132.3 108.7h0M132.0 109.3h0M142.9 100.7h0M144.2 99.7h0M142.3 99.5h0M142.0 101.0h0M143.1 101.4h0M141.8 100.0h0M143.8 101.1h0M132.0 106.1h0M131.1 106.3h0M132.2 105.5h0M131.0 105.9h0M131.0 106.7h0M131.5 105.8h0M131.4 105.6h0M153.0 98.6h0M152.2 99.0h0M152.9 97.8h0M152.9 98.7h0M152.9 98.1h0M152.8 98.4h0M152.3 98.8h0M116.0 119.2h0M116.3 119.9h0M116.2 121.4h0M116.4 119.8h0M116.4 120.0h0M117.2 120.1h0M115.9 120.0h0M168.0 94.1h0M167.5 93.3h0M169.9 92.0h0M168.9 93.6h0M168.0 92.6h0M168.8 93.0h0M168.4 94.4h0M111.1 126.3h0M111.2 124.3h0M111.2 125.0h0M110.5 125.5h0M110.3 125.1h0M112.0 125.7h0M110.8 124.6h0M102.0 130.9h0M102.2 131.9h0M102.4 131.6h0M101.3 130.8h0M101.8 132.3h0M102.9 132.1h0M102.1 131.9h0M110.5 121.7h0M109.4 121.8h0M110.0 121.3h0M108.4 121.5h0M110.2 121.3h0M108.5 121.8h0M110.4 121.5h0M175.7 96.1h0M177.6 96.3h0M175.9 95.1h0M175.9 96.4h0M175.5 95.8h0M174.7 96.2h0M175.5 96.3h0M112.0 115.4h0M111.7 115.3h0M112.6 114.8h0M112.1 114.6h0M111.8 115.0h0M111.8 114.4h0M111.9 114.9h0M102.6 130.2h0M102.4 130.6h0M103.3 130.4h0M102.7 130.1h0M102.5 131.0h0M102.4 130.1h0M102.7 129.6h0M122.0 119.8h0M123.2 120.2h0M122.3 121.1h0M122.7 120.7h0M122.1 120.5h0M122.0 120.7h0M121.9 120.5h0M137.3 105.1h0M137.5 104.4h0M137.6 104.3h0M137.2 104.6h0M138.1 104.4h0M137.0 104.1h0M137.8 104.0h0M115.6 120.8h0M116.0 121.3h0M115.7 120.5h0M115.7 120.6h0M116.4 120.1h0M115.8 121.2h0M116.2 120.7h0M169.3 96.5h0M169.7 97.8h0M169.4 96.7h0M169.9 97.4h0M170.2 97.5h0M170.1 96.9h0M170.2 96.9h0M158.6 94.7h0M160.2 93.4h0M159.7 94.8h0M157.6 94.6h0M158.1 95.4h0M159.1 95.9h0M158.7 95.3h0M167.9 95.7h0M168.8 95.3h0M169.7 94.5h0M168.6 96.1h0M166.9 95.7h0M166.4 96.3h0M168.0 95.2h0M159.7 93.2h0M160.2 95.2h0M160.5 95.0h0M159.3 94.9h0M159.5 95.8h0M160.1 94.5h0M159.3 95.3h0M146.6 96.6h0M146.3 96.3h0M146.7 96.1h0M146.9 95.8h0M146.8 96.2h0M144.8 96.2h0M146.8 97.0h0M146.9 99.1h0M147.0 100.5h0M147.2 100.3h0M147.9 99.6h0M147.9 100.2h0M147.5 99.5h0M147.5 99.2h0M156.6 98.0h0M157.4 97.6h0M156.5 97.8h0M155.8 97.4h0M157.1 98.5h0M156.5 98.3h0M157.9 98.4h0M108.9 119.8h0M109.8 117.8h0M108.1 118.2h0M108.4 118.6h0M109.3 117.8h0M107.7 119.1h0M108.1 119.1h0M117.0 117.4h0M115.3 117.5h0M114.9 116.4h0M116.5 117.8h0M117.2 117.2h0M115.7 118.2h0M116.8 117.2h0M141.0 99.7h0M140.0 99.4h0M140.0 100.2h0M140.5 99.4h0M139.7 101.6h0M138.9 100.5h0M140.1 99.9h0M120.8 118.4h0M120.7 120.4h0M121.3 118.3h0M119.2 118.8h0M120.7 118.8h0M120.4 119.4h0M121.2 119.3h0M114.4 119.6h0M113.9 118.6h0M113.6 119.1h0M113.6 118.1h0M113.0 117.8h0M114.2 118.9h0M113.7 117.7h0M107.8 119.1h0M106.5 118.5h0M107.8 119.7h0M108.6 119.7h0M108.2 120.3h0M108.2 120.2h0M108.1 117.8h0M106.7 131.8h0M107.7 130.2h0M107.0 130.8h0M107.5 130.7h0M106.9 131.3h0M107.1 130.0h0M106.5 131.9h0M126.5 109.7h0M130.4 110.6h0M126.9 111.8h0M127.4 110.0h0M128.3 110.9h0M127.3 111.1h0M127.7 110.5h0M166.1 94.3h0M165.6 94.9h0M165.3 95.3h0M165.4 94.9h0M165.6 94.6h0M165.3 94.9h0M165.4 94.9h0M103.8 128.6h0M103.3 127.6h0M105.7 128.5h0M105.3 128.8h0M105.4 127.4h0M104.6 128.2h0M104.5 128.7h0M134.0 111.5h0M134.3 111.3h0M133.4 111.3h0M133.8 111.7h0M134.6 111.8h0M133.9 112.1h0M134.3 112.5h0M121.9 117.6h0M122.6 117.4h0M122.9 117.8h0M122.4 118.6h0M121.6 118.1h0M122.2 117.9h0M122.5 117.4h0M135.8 109.4h0M136.6 110.3h0M135.5 109.0h0M136.0 109.8h0M135.3 110.9h0M134.7 109.2h0M136.0 110.2h0M106.1 130.0h0M106.1 129.1h0M105.9 129.9h0M106.0 130.3h0M106.9 130.2h0M106.7 130.3h0M106.6 130.2h0M127.0 117.7h0M127.8 117.2h0M127.6 115.2h0M127.7 116.8h0M128.1 115.6h0M127.5 115.5h0M126.8 115.6h0M116.3 124.2h0M116.0 123.6h0M115.8 124.1h0M117.0 125.3h0M116.3 123.3h0M117.0 124.8h0M116.3 124.6h0M107.4 124.2h0M104.8 126.5h0M106.1 124.1h0M107.1 123.7h0M106.2 125.5h0M107.3 125.0h0M106.2 125.6h0M138.1 102.0h0M139.7 102.9h0M139.6 101.5h0M138.4 101.8h0M138.4 101.9h0M140.0 101.6h0M139.2 102.2h0M135.1 106.5h0M135.9 107.1h0M136.7 106.4h0M137.5 106.1h0M138.1 107.4h0M137.2 107.3h0M138.3 108.4h0M112.3 114.7h0M111.4 114.2h0M112.7 114.1h0M110.4 113.2h0M111.7 113.7h0M111.8 114.3h0M111.5 112.3h0M106.1 129.8h0M105.2 129.2h0M104.9 129.3h0M105.4 129.6h0M106.0 129.9h0M106.1 129.5h0M105.1 129.8h0M118.3 112.4h0M118.2 112.2h0M118.2 112.7h0M118.4 111.9h0M118.1 112.0h0M118.1 110.8h0M118.4 110.9h0M101.2 125.5h0M102.1 125.1h0M103.7 124.0h0M102.2 124.9h0M102.6 123.9h0M102.0 125.5h0M102.1 125.0h0M180.0 95.5h0M177.0 97.7h0M178.9 97.1h0M178.6 95.9h0M178.9 97.0h0M179.1 95.1h0M179.0 95.7h0M111.1 124.1h0M110.4 123.5h0M110.7 123.5h0M111.3 123.5h0M111.2 123.6h0M110.7 123.3h0M110.5 123.6h0M110.4 113.7h0M110.1 113.6h0M110.7 114.0h0M110.0 113.2h0M109.8 112.5h0M109.4 112.7h0M110.6 112.7h0M139.9 101.9h0M139.4 101.9h0M139.0 100.4h0M140.1 102.6h0M141.4 102.5h0M140.4 103.2h0M140.4 101.3h0M138.7 103.2h0M139.2 104.1h0M139.5 101.1h0M139.8 102.4h0M139.2 101.9h0M139.4 101.8h0M139.5 103.9h0M111.8 121.2h0M112.1 121.2h0M113.2 120.4h0M112.5 119.7h0M110.1 120.6h0M111.4 120.7h0M111.5 122.1h0M111.2 121.2h0M112.9 119.0h0M113.5 119.0h0M113.8 119.0h0M111.9 120.0h0M111.2 119.2h0M114.0 119.8h0M113.5 116.4h0M112.9 116.8h0M114.1 116.0h0M112.9 116.6h0M113.4 116.9h0M113.6 116.2h0M112.6 116.6h0M143.3 98.6h0M143.0 98.8h0M143.0 97.8h0M143.1 97.6h0M142.9 97.8h0M142.9 98.2h0M142.1 98.3h0M128.0 109.2h0M128.1 110.5h0M127.8 109.8h0M128.8 109.2h0M127.6 110.4h0M129.3 109.5h0M127.7 110.1h0M119.2 117.8h0M119.0 117.7h0M117.8 117.3h0M119.1 117.3h0M118.0 117.3h0M118.9 116.8h0M118.4 117.6h0M108.3 125.4h0M106.8 125.1h0M107.2 125.6h0M106.5 124.4h0M107.3 125.0h0M107.9 124.8h0M108.3 126.4h0M163.5 91.6h0M163.5 93.3h0M163.4 93.6h0M164.7 93.0h0M163.7 92.5h0M163.4 94.3h0M164.5 92.7h0M102.3 126.2h0M104.0 126.3h0M103.3 125.9h0M102.8 125.4h0M102.5 127.1h0M103.2 126.7h0M102.8 126.7h0M127.3 109.1h0M126.6 110.5h0M126.0 109.2h0M127.5 108.6h0M126.3 110.6h0M126.4 111.1h0M127.4 110.2h0M101.1 128.5h0M99.7 130.0h0M99.8 127.5h0M101.3 128.5h0M102.0 128.5h0M101.2 128.8h0M100.4 127.4h0M124.1 111.6h0M124.5 111.6h0M124.5 111.2h0M124.1 111.9h0M124.4 111.4h0M124.9 110.4h0M123.9 111.0h0M131.9 107.3h0M133.0 106.2h0M132.7 107.6h0M132.6 107.6h0M132.9 106.6h0M132.6 107.9h0M133.5 106.6h0M132.8 114.1h0M131.9 115.3h0M132.4 114.8h0M130.5 114.9h0M132.0 114.1h0M131.6 115.0h0M131.4 115.0h0M125.9 116.7h0M125.8 116.3h0M125.8 115.8h0M126.2 116.0h0M126.2 116.5h0M125.7 116.8h0M125.7 115.6h0M167.7 96.3h0M167.8 95.8h0M167.5 96.6h0M167.7 96.4h0M166.9 95.3h0M168.0 96.0h0M167.0 96.4h0M118.6 122.4h0M117.9 123.9h0M118.0 122.3h0M118.3 122.9h0M117.8 123.7h0M117.6 120.8h0M117.7 121.7h0M111.1 112.3h0M112.1 113.8h0M113.1 113.3h0M112.1 112.7h0M110.1 112.9h0M110.6 111.6h0M111.7 111.3h0M100.1 127.6h0M100.3 127.3h0M100.1 127.7h0M100.3 127.1h0M100.1 127.5h0M100.3 127.8h0M100.1 127.8h0M113.0 119.0h0M113.8 119.5h0M113.0 119.0h0M113.3 119.1h0M113.2 118.9h0M113.4 119.1h0M113.9 118.7h0M130.3 114.9h0M130.3 115.0h0M130.9 114.4h0M130.7 114.8h0M130.8 113.7h0M130.5 113.6h0M131.0 114.9h0M126.4 116.6h0M129.8 117.4h0M126.8 115.6h0M128.6 118.1h0M127.6 117.2h0M128.1 117.1h0M127.6 116.9h0M125.7 116.1h0M124.5 118.1h0M124.4 117.1h0M124.8 117.2h0M124.0 117.3h0M124.5 117.5h0M125.1 117.5h0M133.4 103.5h0M133.3 103.8h0M133.7 102.7h0M133.6 104.8h0M133.5 104.2h0M133.1 104.3h0M133.3 103.4h0M143.2 95.7h0M142.8 94.1h0M144.2 94.6h0M141.9 94.5h0M142.4 93.3h0M143.1 96.7h0M142.8 94.6h0M119.5 117.4h0M118.4 116.6h0M120.3 117.2h0M119.0 118.0h0M118.0 117.2h0M118.0 118.2h0M118.5 117.3h0M138.6 106.0h0M138.6 105.8h0M139.0 106.3h0M138.2 105.6h0M138.4 106.1h0M138.2 106.5h0M138.7 106.0h0M99.9 132.5h0M100.5 132.9h0M99.0 132.9h0M100.0 132.4h0M100.5 132.9h0M99.5 132.8h0M100.2 132.6h0M166.2 91.0h0M167.5 91.0h0M166.9 91.2h0M167.6 91.9h0M167.3 90.9h0M166.7 91.6h0M167.2 90.8h0M110.2 128.2h0M111.5 129.4h0M110.3 127.4h0M110.4 126.7h0M109.7 126.8h0M109.5 126.7h0M111.4 127.5h0M131.8 107.2h0M132.7 105.5h0M132.8 105.9h0M132.2 106.0h0M132.4 106.6h0M132.8 105.1h0M132.3 106.9h0M138.0 99.7h0M139.0 98.9h0M138.3 98.2h0M138.3 99.0h0M139.1 99.2h0M138.1 98.7h0M137.4 99.0h0M134.4 105.2h0M133.1 105.6h0M133.5 105.5h0M133.2 105.7h0M133.9 106.1h0M134.4 107.2h0M132.3 105.2h0M109.4 113.0h0M108.5 113.4h0M109.7 113.7h0M109.7 114.1h0M110.5 115.4h0M109.3 114.6h0M108.8 114.1h0M132.6 114.4h0M132.9 113.7h0M132.9 114.2h0M132.6 113.5h0M133.9 113.4h0M132.4 113.8h0M133.5 112.0h0M111.5 124.9h0M111.8 125.0h0M113.0 123.2h0M110.9 124.5h0M111.0 124.9h0M110.6 123.2h0M111.6 123.4h0M128.3 111.4h0M128.9 110.7h0M128.2 110.9h0M129.1 110.5h0M127.1 111.3h0M128.9 110.3h0M128.5 111.2h0M136.1 107.3h0M137.2 105.3h0M138.1 105.3h0M137.4 108.1h0M136.7 107.3h0M136.7 106.3h0M134.7 106.4h0M96.9 130.1h0M97.9 130.7h0M96.4 129.8h0M96.5 130.9h0M96.0 130.1h0M97.7 129.0h0M96.9 129.2h0M108.9 115.6h0M109.6 117.0h0M110.8 115.5h0M110.0 113.8h0M110.3 114.8h0M111.3 116.1h0M110.2 115.2h0M119.5 120.9h0M119.4 120.8h0M121.2 120.1h0M120.9 120.0h0M120.1 120.9h0M119.3 120.7h0M119.6 120.2h0M114.3 123.5h0M114.4 122.5h0M114.2 123.4h0M115.2 123.0h0M114.2 122.8h0M114.2 122.6h0M114.0 123.2h0M124.8 119.6h0M126.9 118.4h0M126.2 118.2h0M125.7 117.6h0M124.3 118.9h0M124.4 117.2h0M124.8 118.8h0M119.9 121.5h0M119.7 121.1h0M120.3 120.9h0M120.5 121.3h0M119.8 121.3h0M120.6 121.4h0M120.5 121.1h0M119.2 115.2h0M119.5 113.3h0M118.4 113.5h0M119.4 114.0h0M120.0 114.8h0M120.3 112.7h0M119.4 113.8h0M142.3 102.2h0M141.5 102.3h0M141.2 102.6h0M141.1 102.6h0M143.0 100.8h0M142.5 101.0h0M141.5 102.9h0M166.2 92.2h0M168.4 92.4h0M168.1 92.5h0M168.2 91.6h0M168.1 93.1h0M166.9 91.5h0M167.2 91.1h0M133.1 113.4h0M132.8 113.3h0M132.7 113.8h0M133.6 113.5h0M133.4 113.7h0M133.0 113.9h0M133.4 114.0h0M133.6 105.9h0M133.4 106.5h0M132.5 105.7h0M134.1 106.7h0M133.4 107.3h0M133.7 105.7h0M133.3 106.8h0M114.2 112.3h0M113.1 111.8h0M114.5 112.8h0M114.1 110.6h0M111.8 113.0h0M113.8 112.7h0M113.7 111.5h0M103.5 127.2h0M103.1 126.9h0M102.1 126.1h0M103.2 125.5h0M103.2 127.0h0M103.3 127.2h0M104.1 126.8h0M120.7 117.7h0M120.5 118.7h0M120.7 118.3h0M120.6 118.3h0M120.4 116.8h0M120.4 117.3h0M119.6 118.0h0M147.4 100.1h0M146.9 100.4h0M147.5 100.1h0M148.4 99.8h0M148.1 100.3h0M148.6 100.5h0M147.4 102.1h0M164.8 96.9h0M166.1 95.1h0M166.3 95.9h0M166.2 95.7h0M165.2 95.7h0M165.1 96.4h0M165.6 96.7h0M127.6 109.4h0M127.5 109.2h0M127.7 109.2h0M128.5 109.8h0M127.2 110.0h0M129.0 109.3h0M127.8 109.1h0M166.8 93.7h0M167.3 93.7h0M167.1 94.0h0M166.1 92.9h0M166.0 93.4h0M166.6 93.9h0M166.6 93.0h0M127.0 109.7h0M126.8 109.6h0M127.2 109.6h0M128.0 109.7h0M127.4 110.3h0M127.6 109.7h0M127.2 109.4h0M118.3 123.9h0M118.2 123.9h0M117.6 122.7h0M117.5 122.0h0M117.4 122.1h0M119.5 122.0h0M120.2 123.6h0M124.4 111.4h0M124.8 111.5h0M123.9 112.8h0M123.5 112.2h0M124.6 111.7h0M124.1 113.0h0M124.0 111.6h0M116.6 121.3h0M116.8 121.3h0M115.4 121.3h0M116.9 121.9h0M116.0 121.4h0M116.7 121.8h0M116.1 121.9h0M107.8 121.2h0M108.2 119.5h0M108.7 120.3h0M108.7 120.5h0M109.2 121.5h0M109.0 121.7h0M108.3 122.6h0M141.3 96.4h0M141.2 95.9h0M141.4 95.7h0M141.8 95.6h0M142.1 96.6h0M141.6 96.6h0M142.2 96.0h0M162.2 96.8h0M163.1 96.8h0M162.6 96.5h0M162.8 96.7h0M162.1 96.5h0M162.2 96.5h0M162.2 97.3h0M111.8 113.1h0M111.9 113.2h0M112.7 113.0h0M113.6 112.4h0M112.8 112.7h0M112.0 112.9h0M112.3 114.0h0M136.0 107.8h0M135.5 107.2h0M135.0 109.5h0M135.4 108.7h0M136.2 108.5h0M134.9 108.9h0M135.7 109.4h0M97.8 129.9h0M97.5 129.3h0M97.3 130.7h0M97.5 130.5h0M96.1 130.2h0M96.8 130.9h0M97.3 130.5h0M121.6 114.7h0M122.7 114.6h0M122.2 116.4h0M120.5 113.6h0M121.1 114.7h0M120.7 115.1h0M121.0 115.9h0M101.9 127.2h0M104.6 125.4h0M104.7 124.8h0M104.5 125.9h0M103.5 126.1h0M103.3 126.8h0M103.7 126.2h0M164.0 92.1h0M164.1 93.6h0M163.6 93.7h0M162.2 93.7h0M163.1 93.0h0M163.0 94.3h0M163.3 93.2h0M164.3 97.0h0M163.2 96.8h0M164.1 95.9h0M163.1 96.7h0M165.3 97.0h0M162.8 97.7h0M164.5 97.3h0M148.2 94.9h0M142.7 96.2h0M143.3 95.9h0M144.8 97.7h0M142.9 97.0h0M144.9 96.8h0M145.3 97.6h0M138.5 103.3h0M138.9 102.7h0M140.3 103.0h0M139.3 102.1h0M139.4 102.4h0M138.5 102.4h0M137.8 103.0h0M125.7 120.1h0M126.8 119.9h0M126.3 119.3h0M124.3 120.0h0M125.6 119.1h0M126.6 118.0h0M125.9 120.1h0M138.3 101.3h0M137.6 101.7h0M136.7 100.4h0M137.0 101.4h0M136.9 101.9h0M137.9 102.4h0M138.0 101.1h0M111.7 113.2h0M111.8 113.0h0M111.4 112.4h0M111.8 114.0h0M111.3 113.2h0M112.4 112.6h0M111.0 113.1h0M105.0 123.0h0M106.6 124.2h0M105.8 123.5h0M106.7 124.1h0M106.6 122.9h0M105.9 124.2h0M106.7 122.5h0M110.7 123.8h0M111.0 123.2h0M109.7 123.3h0M109.8 122.6h0M110.3 122.6h0M108.5 123.4h0M109.3 123.5h0M164.1 97.7h0M163.4 98.0h0M163.5 97.0h0M165.0 97.6h0M164.1 96.0h0M164.1 97.0h0M163.9 97.9h0M142.2 103.5h0M142.1 103.2h0M142.5 104.1h0M142.6 104.2h0M142.8 104.1h0M142.6 102.7h0M141.7 103.3h0M105.7 129.7h0M105.4 129.4h0M105.5 129.7h0M104.8 129.9h0M106.1 129.9h0M105.1 130.2h0M105.5 129.8h0M102.7 125.8h0M103.3 124.9h0M103.4 124.7h0M102.6 125.7h0M103.4 126.2h0M102.4 126.2h0M103.4 125.8h0M164.2 96.1h0M163.2 94.5h0M163.7 95.4h0M163.7 94.1h0M162.7 94.0h0M164.9 95.4h0M162.7 96.6h0M151.4 98.5h0M151.8 98.8h0M151.3 98.5h0M151.2 98.4h0M151.5 98.4h0M151.7 98.2h0M151.6 98.8h0M130.0 106.2h0M129.6 106.3h0M130.1 107.0h0M130.3 105.8h0M130.1 105.8h0M130.0 105.4h0M129.6 106.6h0M141.2 103.8h0M140.1 103.3h0M140.3 103.1h0M141.5 104.6h0M141.0 103.8h0M139.9 103.2h0M140.0 103.3h0M121.3 118.9h0M122.0 116.5h0M122.3 118.3h0M121.6 116.5h0M121.6 117.4h0M121.9 118.0h0M121.6 118.5h0M115.7 121.6h0M115.5 122.2h0M116.2 122.0h0M115.5 121.6h0M115.5 121.6h0M115.4 121.7h0M115.5 122.1h0M160.7 93.7h0M161.1 93.9h0M161.2 93.4h0M160.8 93.6h0M161.2 92.6h0M161.1 93.1h0M161.0 93.7h0M96.5 132.5h0M95.6 132.5h0M97.8 132.1h0M97.7 132.4h0M97.0 133.4h0M98.2 133.0h0M99.5 132.8h0M111.8 126.4h0M110.5 127.7h0M110.9 126.6h0M110.7 127.4h0M111.3 126.4h0M111.1 127.1h0M110.4 126.8h0M104.6 122.6h0M104.1 122.6h0M103.3 123.1h0M102.7 122.9h0M105.1 122.8h0M104.8 121.5h0M103.7 121.8h0M133.8 102.9h0M134.0 103.7h0M134.1 103.6h0M134.7 103.3h0M133.9 102.9h0M134.3 103.1h0M133.6 102.9h0M116.2 118.6h0M116.3 119.0h0M115.1 119.8h0M114.9 118.9h0M116.5 119.3h0M116.4 118.1h0M116.1 117.7h0M114.6 121.5h0M116.0 120.9h0M115.9 121.3h0M115.8 121.5h0M115.8 121.5h0M116.0 121.7h0M115.6 121.9h0M109.2 118.8h0M108.5 117.3h0M110.7 118.0h0M108.9 117.9h0M108.5 118.5h0M106.9 118.5h0M108.6 119.4h0M115.9 121.7h0M115.6 121.8h0M115.5 122.2h0M115.7 122.4h0M115.7 121.4h0M115.7 121.8h0M115.5 122.2h0M170.8 96.2h0M171.3 95.6h0M170.8 97.1h0M170.0 95.8h0M171.5 98.1h0M170.9 98.1h0M170.9 96.5h0M124.6 116.4h0M124.4 116.7h0M124.5 117.0h0M124.4 116.7h0M124.8 116.8h0M123.8 117.3h0M124.6 116.5h0M132.9 111.2h0M134.2 109.6h0M133.8 111.1h0M133.4 112.5h0M132.4 111.7h0M134.8 110.4h0M132.8 111.6h0M111.5 115.2h0M111.0 116.1h0M112.3 115.5h0M109.6 116.3h0M111.7 114.2h0M111.0 115.7h0M111.2 115.9h0M130.9 110.2h0M132.1 111.6h0M130.5 110.2h0M130.5 110.3h0M131.0 109.1h0M132.5 110.6h0M131.5 111.5h0M105.1 123.0h0M106.0 122.7h0M105.7 123.2h0M105.0 123.3h0M104.8 122.8h0M104.4 122.5h0M105.0 123.4h0M141.3 102.7h0M141.3 102.9h0M141.8 101.8h0M140.9 101.7h0M141.0 102.6h0M141.2 102.1h0M141.4 101.3h0M106.6 117.6h0M106.5 117.8h0M106.5 117.4h0M106.9 117.3h0M107.3 117.5h0M106.9 117.8h0M107.5 118.2h0M182.7 97.0h0M184.3 97.7h0M182.3 96.9h0M183.2 98.2h0M184.0 97.2h0M184.0 96.9h0M182.3 98.1h0M127.5 113.9h0M128.4 114.4h0M127.5 113.5h0M128.1 113.2h0M128.4 115.1h0M128.5 114.1h0M127.7 114.1h0M122.5 114.8h0M122.0 114.5h0M123.3 113.9h0M123.0 115.0h0M122.5 114.4h0M123.2 114.6h0M122.8 114.6h0M139.9 103.2h0M140.6 102.6h0M140.5 103.8h0M140.6 103.9h0M139.9 103.7h0M140.7 101.8h0M140.5 103.9h0M114.3 115.8h0M114.4 116.1h0M114.3 115.3h0M114.2 114.8h0M114.5 115.5h0M113.9 115.0h0M114.0 115.4h0M128.2 110.8h0M128.1 110.7h0M128.0 110.3h0M128.6 110.3h0M128.1 111.4h0M127.9 111.5h0M127.7 111.9h0M119.0 120.0h0M118.4 118.1h0M119.1 120.0h0M117.9 118.6h0M117.8 119.3h0M119.7 118.9h0M117.7 120.1h0M161.0 95.4h0M160.9 94.4h0M161.7 94.3h0M162.2 93.6h0M161.9 96.2h0M161.0 95.3h0M162.1 94.7h0M156.8 95.5h0M157.9 96.4h0M156.4 94.8h0M157.2 94.8h0M156.7 95.3h0M156.8 94.9h0M157.3 94.9h0M117.9 118.1h0M117.3 116.6h0M117.5 118.3h0M117.3 118.0h0M117.5 118.0h0M117.8 117.5h0M116.8 118.0h0M102.3 129.0h0M104.7 129.1h0M104.1 128.1h0M103.5 127.5h0M102.3 128.7h0M103.2 128.8h0M102.3 128.6h0M133.8 103.5h0M132.8 103.6h0M133.5 106.1h0M132.7 105.9h0M131.8 104.8h0M131.6 104.1h0M132.4 104.3h0M114.4 124.7h0M113.8 125.0h0M115.0 123.8h0M112.1 125.1h0M114.0 124.7h0M113.2 123.4h0M113.8 123.5h0M129.9 107.1h0M129.0 106.3h0M128.9 106.5h0M129.0 106.4h0M129.2 105.5h0M128.6 105.7h0M129.4 105.9h0M115.9 117.9h0M116.6 118.0h0M116.6 118.3h0M116.1 118.4h0M116.7 117.2h0M114.7 118.1h0M116.6 118.8h0M122.0 118.0h0M124.0 117.6h0M123.8 118.4h0M122.2 117.7h0M122.8 119.1h0M123.0 118.1h0M123.7 118.9h0M130.1 116.6h0M130.1 115.9h0M129.9 115.0h0M129.5 115.6h0M129.4 115.2h0M128.4 117.1h0M128.9 115.7h0M120.6 115.3h0M120.2 115.4h0M120.4 114.9h0M121.1 115.1h0M120.2 114.7h0M119.9 115.2h0M120.5 115.6h0M148.1 99.0h0M148.3 98.3h0M147.8 97.3h0M147.6 98.2h0M147.9 97.0h0M147.1 99.7h0M147.4 97.8h0M114.7 113.9h0M113.1 114.2h0M113.3 112.1h0M114.4 111.3h0M113.8 112.7h0M114.7 111.3h0M111.6 113.2h0M111.7 114.2h0M111.3 114.0h0M111.7 114.7h0M111.6 113.3h0M112.2 114.6h0M111.3 113.7h0M111.2 112.8h0M142.3 101.4h0M142.5 102.2h0M143.0 101.9h0M142.5 101.7h0M143.1 101.7h0M142.4 101.9h0M142.5 102.0h0M113.6 126.6h0M114.6 126.0h0M114.2 125.6h0M114.1 125.5h0M114.1 126.0h0M114.8 125.6h0M114.2 126.0h0M101.4 128.8h0M101.4 128.1h0M101.8 128.1h0M101.8 128.6h0M102.1 128.1h0M101.6 128.1h0M101.7 128.6h0M107.6 125.9h0M109.4 126.5h0M108.7 127.6h0M109.1 127.5h0M109.8 127.8h0M109.6 127.5h0M108.8 127.7h0M140.8 103.2h0M140.4 103.9h0M141.2 104.6h0M140.9 103.9h0M140.2 103.3h0M140.8 103.8h0M140.6 104.2h0M157.8 97.3h0M158.8 96.9h0M158.5 96.9h0M158.8 97.7h0M159.3 97.5h0M158.7 96.8h0M158.3 96.3h0M167.1 90.8h0M166.4 91.6h0M166.6 91.7h0M167.3 91.3h0M166.5 91.4h0M166.0 91.3h0M165.7 91.2h0M145.4 101.7h0M144.1 101.5h0M145.4 102.2h0M145.3 101.4h0M144.9 101.4h0M144.1 101.4h0M144.4 100.8h0M158.3 92.6h0M159.0 92.7h0M159.0 92.6h0M158.0 91.4h0M158.5 92.3h0M158.3 92.1h0M158.6 93.4h0M141.2 103.8h0M140.9 103.7h0M142.0 103.3h0M141.7 103.4h0M141.2 104.4h0M141.6 103.9h0M142.0 103.9h0M129.1 113.6h0M128.0 114.9h0M127.9 113.2h0M127.8 113.6h0M128.5 114.3h0M127.2 114.5h0M128.3 112.7h0M168.6 98.3h0M168.9 99.4h0M169.7 98.4h0M171.2 98.8h0M168.8 98.5h0M169.8 98.2h0M170.5 98.6h0M113.4 111.8h0M113.4 110.9h0M113.2 111.5h0M113.8 111.1h0M114.1 110.8h0M114.1 111.0h0M113.6 111.1h0M116.3 119.4h0M115.0 118.7h0M115.4 121.4h0M115.3 119.5h0M114.8 119.8h0M115.6 120.1h0M116.8 120.1h0M141.4 103.5h0M140.9 103.1h0M142.5 101.6h0M143.0 103.6h0M143.7 102.5h0M143.0 102.8h0M143.5 102.7h0M168.5 97.0h0M167.9 96.5h0M167.5 95.5h0M169.1 95.4h0M167.0 95.9h0M166.8 96.7h0M167.1 96.2h0M139.4 101.9h0M138.9 102.8h0M139.6 101.6h0M139.3 103.5h0M138.1 101.1h0M140.2 101.7h0M139.2 103.6h0M116.0 111.6h0M116.9 110.9h0M116.9 112.5h0M117.1 112.2h0M115.9 111.5h0M117.5 111.0h0M117.9 112.0h0M165.6 96.3h0M164.6 97.0h0M165.7 97.2h0M164.8 97.4h0M165.4 97.3h0M165.5 98.1h0M165.5 97.3h0M143.1 100.2h0M143.1 100.5h0M143.1 100.1h0M143.1 100.3h0M142.9 100.2h0M143.4 100.2h0M143.0 101.1h0M139.3 102.9h0M139.1 103.5h0M139.2 103.9h0M138.5 103.3h0M138.4 102.3h0M140.0 102.5h0M138.9 102.1h0M102.2 127.6h0M102.6 127.9h0M101.4 128.2h0M102.8 127.7h0M101.8 128.2h0M102.1 127.2h0M101.6 128.2h0M168.6 96.7h0M167.1 98.1h0M169.4 97.4h0M167.9 97.9h0M168.7 98.5h0M168.1 96.8h0M168.2 96.3h0M155.3 96.5h0M154.1 96.9h0M154.8 97.1h0M153.1 96.9h0M153.6 97.5h0M154.3 97.1h0M153.9 96.4h0M106.7 118.5h0M106.1 119.5h0M104.6 118.9h0M105.7 119.3h0M105.4 119.2h0M105.6 119.1h0M104.0 119.6h0M137.2 106.7h0M135.7 106.6h0M134.7 106.9h0M136.0 105.4h0M135.6 107.0h0M136.9 105.5h0M135.0 107.8h0M130.8 106.8h0M129.3 107.2h0M131.1 107.1h0M131.9 106.2h0M131.5 107.4h0M130.8 107.8h0M130.0 107.0h0M126.8 115.4h0M126.4 113.9h0M127.1 113.6h0M126.8 113.9h0M126.4 114.3h0M127.7 114.8h0M127.2 114.6h0M169.9 97.5h0M168.1 98.3h0M169.9 98.7h0M168.8 97.7h0M169.0 97.9h0M168.3 98.2h0M168.4 98.0h0M144.6 100.8h0M143.9 101.2h0M144.5 101.5h0M143.9 101.6h0M144.4 100.8h0M144.2 101.0h0M145.1 101.0h0M124.2 113.2h0M124.4 113.9h0M123.6 112.5h0M123.7 112.4h0M123.8 113.1h0M123.6 113.1h0M124.8 113.3h0M124.8 118.6h0M124.4 116.4h0M123.5 117.0h0M123.2 117.4h0M123.4 116.0h0M123.7 118.5h0M124.5 118.3h0M114.6 114.5h0M114.2 114.0h0M113.9 116.2h0M113.7 113.9h0M116.0 114.1h0M116.0 114.1h0M114.5 113.8h0M105.0 120.3h0M104.3 121.4h0M106.5 119.6h0M105.4 120.4h0M104.3 121.1h0M104.7 120.8h0M104.0 121.8h0M117.6 123.0h0M118.2 121.9h0M118.1 122.8h0M119.0 124.5h0M117.2 122.8h0M117.8 122.5h0M119.1 124.1h0M118.2 113.4h0M119.4 113.9h0M118.7 111.9h0M119.4 113.8h0M118.9 113.3h0M117.8 113.1h0M119.5 114.5h0M169.6 96.6h0M169.7 96.3h0M169.6 95.4h0M170.7 95.4h0M170.8 97.1h0M169.7 95.7h0M171.0 96.1h0M108.2 114.9h0M108.1 115.8h0M106.6 115.0h0M107.4 115.9h0M106.3 116.0h0M108.2 114.9h0M107.4 115.5h0M157.2 96.7h0M157.8 97.5h0M158.2 96.7h0M157.4 97.5h0M157.8 95.3h0M158.3 96.9h0M160.5 97.4h0M172.3 97.6h0M170.2 97.2h0M171.0 97.2h0M171.1 95.6h0M171.8 97.4h0M171.4 96.8h0M172.0 98.4h0M144.9 96.8h0M146.2 96.5h0M144.5 96.8h0M144.1 96.4h0M144.1 97.3h0M145.3 96.6h0M143.9 96.2h0M125.0 116.0h0M126.3 116.7h0M126.5 116.9h0M126.4 117.8h0M126.2 117.1h0M126.1 115.9h0M126.4 116.6h0M180.6 97.1h0M181.5 97.1h0M180.8 96.0h0M181.7 96.5h0M180.4 97.1h0M180.8 96.9h0M180.1 96.7h0M166.4 94.1h0M167.8 92.5h0M168.0 94.4h0M167.0 94.0h0M168.5 93.0h0M166.7 93.2h0M168.0 94.9h0M128.1 114.2h0M128.9 115.8h0M128.4 115.6h0M128.5 114.7h0M128.2 113.8h0M127.5 115.8h0M128.6 115.3h0M115.1 120.5h0M116.7 119.8h0M114.3 119.1h0M114.1 119.2h0M113.3 119.1h0M116.1 117.9h0M114.1 118.8h0M143.6 96.1h0M142.4 97.6h0M142.2 97.2h0M142.5 94.4h0M143.5 96.5h0M141.6 95.1h0M142.5 97.1h0M110.9 111.8h0M111.1 111.9h0M110.6 111.8h0M110.9 112.0h0M111.1 111.7h0M111.5 111.8h0M111.1 112.0h0M108.1 121.3h0M108.5 122.4h0M108.8 121.7h0M107.8 119.6h0M106.9 121.4h0M107.0 121.9h0M106.4 121.1h0M131.5 109.1h0M131.6 109.6h0M133.0 110.0h0M132.5 109.6h0M131.3 108.4h0M131.2 109.0h0M131.1 109.5h0M150.5 98.3h0M149.8 99.2h0M150.4 98.6h0M150.6 99.2h0M149.8 99.0h0M150.2 98.6h0M150.2 99.4h0M143.6 98.2h0M142.8 97.4h0M143.7 98.0h0M143.4 98.4h0M144.7 97.4h0M144.0 98.8h0M143.2 97.2h0M109.5 113.1h0M108.8 111.9h0M109.5 112.0h0M110.7 112.3h0M111.0 112.3h0M109.4 113.9h0M109.9 114.1h0M129.8 110.3h0M130.3 110.9h0M129.9 110.3h0M129.6 110.5h0M131.1 110.5h0M129.5 110.1h0M129.9 110.5h0M175.1 95.7h0M174.5 95.8h0M174.4 96.3h0M175.0 96.0h0M174.3 96.3h0M175.0 95.4h0M174.9 96.1h0M115.5 114.9h0M116.0 113.5h0M115.0 115.5h0M115.5 115.2h0M116.3 115.2h0M114.6 116.1h0M115.4 115.0h0M108.5 127.4h0M109.1 127.9h0M110.7 127.4h0M108.7 127.8h0M109.7 128.2h0M110.5 128.1h0M109.8 127.3h0M159.5 94.3h0M159.9 95.1h0M159.8 94.7h0M159.7 94.1h0M159.6 94.5h0M159.7 93.9h0M159.3 94.6h0M120.9 119.1h0M120.5 118.6h0M120.1 119.7h0M119.4 119.8h0M120.1 119.3h0M120.2 118.8h0M119.7 119.6h0M128.6 117.1h0M128.9 117.0h0M129.9 117.6h0M129.0 116.5h0M128.8 117.0h0M129.3 117.6h0M128.8 116.7h0M114.1 112.5h0M113.2 111.9h0M114.0 112.4h0M113.6 112.7h0M113.2 113.3h0M113.4 113.7h0M113.5 112.9h0M115.7 115.7h0M115.1 116.9h0M115.0 116.9h0M116.9 114.4h0M115.7 114.9h0M115.4 115.8h0M115.6 116.3h0M116.4 113.4h0M116.6 111.8h0M116.7 113.3h0M115.2 111.7h0M116.9 111.6h0M115.3 112.4h0M116.2 112.2h0M113.7 122.4h0M112.9 121.7h0M113.5 122.1h0M113.1 122.7h0M113.9 123.2h0M112.7 122.4h0M113.1 122.6h0M118.1 112.6h0M117.2 112.6h0M118.6 112.8h0M118.3 112.8h0M117.9 113.5h0M117.9 112.8h0M117.5 114.3h0M108.3 121.0h0M106.1 122.1h0M106.2 121.2h0M106.2 122.0h0M107.0 122.1h0M105.5 120.4h0M107.4 121.8h0M105.1 128.2h0M105.3 128.7h0M106.1 127.6h0M104.3 127.7h0M104.4 127.4h0M105.4 127.1h0M103.7 127.1h0M114.7 114.0h0M113.9 113.5h0M114.3 112.1h0M114.8 112.3h0M115.4 111.7h0M112.8 114.3h0M115.1 112.8h0M144.1 101.1h0M143.1 100.2h0M143.1 99.1h0M143.4 99.2h0M142.2 99.5h0M143.5 99.5h0M143.8 100.3h0M109.6 126.4h0M108.9 126.5h0M109.3 126.6h0M109.1 125.9h0M108.4 126.2h0M110.2 126.3h0M109.2 125.8h0M169.2 94.0h0M167.8 94.1h0M167.9 94.2h0M170.0 94.1h0M168.9 94.7h0M167.9 93.8h0M170.1 94.0h0M168.2 97.2h0M167.9 96.9h0M167.4 96.2h0M168.5 97.3h0M167.4 97.1h0M168.0 97.0h0M168.5 98.2h0M131.2 111.7h0M130.1 112.3h0M130.7 111.1h0M130.3 111.5h0M130.1 111.4h0M130.6 112.1h0M131.2 111.9h0M104.0 126.6h0M105.0 127.1h0M104.4 126.5h0M102.1 125.8h0M104.7 128.2h0M102.6 127.1h0M103.5 126.6h0M119.2 113.8h0M119.5 115.9h0M120.0 115.1h0M120.8 114.4h0M120.6 114.7h0M119.7 115.5h0M119.8 116.1h0M165.0 91.7h0M165.6 92.2h0M165.6 92.8h0M165.1 92.3h0M164.4 92.0h0M164.5 91.6h0M166.1 92.5h0M114.2 122.7h0M114.3 124.0h0M114.6 124.2h0M114.4 122.8h0M114.8 123.4h0M115.4 123.3h0M115.0 123.0h0M127.9 114.9h0M127.8 114.5h0M127.7 115.4h0M128.7 113.5h0M129.5 114.3h0M129.8 114.2h0M127.8 114.9h0M145.4 100.2h0M145.7 101.9h0M144.8 100.4h0M145.5 100.3h0M146.6 101.4h0M145.1 100.1h0M143.0 99.4h0M120.7 119.5h0M121.7 117.9h0M120.5 119.7h0M122.8 119.2h0M121.2 118.4h0M121.7 119.4h0M121.4 118.5h0M103.8 130.5h0M103.1 130.1h0M102.5 130.7h0M102.7 130.4h0M102.8 130.8h0M104.2 130.6h0M102.7 131.3h0M128.9 111.2h0M128.4 111.1h0M128.8 111.3h0M128.0 111.2h0M128.3 110.9h0M128.2 111.5h0M128.4 112.2h0M142.7 99.5h0M144.3 101.2h0M142.2 100.6h0M140.9 101.0h0M141.2 101.4h0M143.6 99.7h0M143.3 99.4h0M101.6 129.6h0M101.8 129.3h0M101.9 129.1h0M101.7 130.6h0M102.5 129.3h0M102.2 130.0h0M102.2 129.9h0M120.9 113.7h0M120.0 114.0h0M120.6 112.3h0M122.4 114.0h0M120.7 114.1h0M120.1 113.2h0M122.2 113.6h0M123.7 119.3h0M123.9 118.6h0M123.9 118.8h0M124.7 119.8h0M123.7 119.4h0M123.7 120.3h0M124.5 120.1h0M161.7 94.1h0M160.2 93.5h0M161.1 94.2h0M159.8 95.2h0M160.8 94.4h0M160.3 93.9h0M159.7 93.7h0M176.0 95.6h0M175.7 96.1h0M175.0 94.8h0M177.0 96.1h0M175.5 95.9h0M176.5 96.4h0M177.0 96.4h0M111.1 122.9h0M111.6 123.9h0M113.6 124.2h0M111.4 123.5h0M113.1 123.7h0M113.1 125.4h0M113.0 123.4h0M112.0 121.1h0M110.8 120.9h0M111.5 120.5h0M111.7 120.2h0M111.5 121.3h0M110.5 121.2h0M111.9 120.5h0M126.3 109.8h0M124.6 110.5h0M127.6 110.4h0M126.6 111.3h0M126.8 110.2h0M127.1 111.0h0M125.1 110.8h0M114.3 119.5h0M114.3 119.7h0M114.6 119.3h0M114.8 119.5h0M114.4 120.0h0M114.7 119.7h0M114.3 120.0h0M121.3 115.6h0M119.9 115.9h0M122.0 115.2h0M121.3 116.0h0M121.4 116.1h0M121.2 115.3h0M120.8 115.4h0M103.6 124.6h0M103.0 124.9h0M104.4 125.1h0M104.9 123.2h0M104.3 124.3h0M105.7 123.8h0M104.1 124.2h0M131.9 106.3h0M134.0 106.5h0M132.4 105.6h0M131.5 105.9h0M133.5 106.0h0M132.6 105.6h0M131.7 107.0h0M155.4 95.9h0M154.1 96.8h0M154.3 95.7h0M154.5 95.9h0M155.5 96.6h0M153.9 96.0h0M154.5 96.6h0M169.4 96.0h0M168.1 94.2h0M169.5 95.2h0M168.2 97.4h0M169.6 94.9h0M169.5 95.9h0M169.2 95.1h0M155.4 97.2h0M155.1 97.7h0M153.6 96.6h0M155.3 97.4h0M154.7 96.9h0M155.9 97.0h0M154.3 97.5h0M102.0 127.9h0M101.0 129.1h0M101.4 130.9h0M100.2 129.6h0M101.7 129.7h0M101.2 128.0h0M101.5 129.2h0M107.3 130.3h0M107.6 131.0h0M108.7 129.1h0M106.9 130.3h0M106.5 127.8h0M106.2 128.2h0M107.3 129.3h0M136.7 101.7h0M137.9 101.3h0M137.2 101.2h0M137.6 100.7h0M137.3 101.2h0M136.9 101.2h0M137.0 101.6h0M123.6 111.9h0M123.2 112.0h0M123.5 111.9h0M123.5 111.9h0M123.5 111.4h0M124.0 112.3h0M123.4 112.1h0M97.9 128.1h0M100.3 127.4h0M98.2 128.0h0M99.5 129.5h0M99.1 128.2h0M98.4 129.7h0M99.2 128.5h0M179.3 97.1h0M177.4 95.9h0M178.2 96.8h0M178.3 96.0h0M176.8 95.5h0M177.9 95.1h0M178.5 95.6h0M154.2 98.4h0M154.1 98.5h0M153.5 98.8h0M154.7 96.0h0M153.3 96.8h0M154.3 97.6h0M154.9 98.5h0M134.6 106.8h0M132.9 106.2h0M133.7 107.9h0M133.9 105.3h0M133.7 106.2h0M133.8 106.7h0M133.8 106.3h0M102.6 130.3h0M102.7 130.4h0M102.0 131.7h0M102.3 130.4h0M101.5 130.7h0M102.0 130.8h0M102.6 131.0h0M105.9 130.7h0M104.5 131.0h0M103.9 131.6h0M105.0 131.0h0M103.4 132.2h0M105.9 132.6h0M103.6 131.3h0M125.5 115.6h0M125.6 116.2h0M126.2 116.3h0M126.2 116.1h0M126.2 116.6h0M125.7 116.6h0M126.5 115.7h0M106.7 123.5h0M106.7 124.2h0M106.8 123.1h0M106.3 122.8h0M106.7 124.0h0M107.0 124.4h0M106.2 123.9h0M117.7 112.5h0M117.5 113.1h0M117.6 112.9h0M117.4 112.7h0M116.9 112.3h0M118.0 113.3h0M116.9 113.0h0M108.2 113.9h0M110.1 115.0h0M108.3 114.8h0M107.5 113.8h0M108.7 114.1h0M109.5 113.1h0M109.8 113.2h0M160.1 96.7h0M159.8 96.1h0M160.4 97.9h0M159.5 97.6h0M159.5 97.2h0M159.8 97.0h0M161.7 96.9h0M129.2 110.6h0M129.5 111.6h0M130.3 109.6h0M128.8 111.5h0M129.7 110.5h0M129.7 111.6h0M127.3 113.1h0M132.8 105.6h0M133.4 106.1h0M132.5 105.2h0M132.8 105.3h0M133.0 105.7h0M132.8 105.2h0M133.6 106.0h0M124.9 113.1h0M124.6 114.9h0M125.9 113.6h0M124.6 114.3h0M125.7 115.0h0M125.3 114.8h0M125.8 114.0h0M125.9 120.3h0M125.6 120.3h0M124.3 120.8h0M125.7 119.4h0M125.3 119.3h0M125.0 120.0h0M125.6 121.4h0M105.1 121.6h0M104.3 120.9h0M105.7 122.6h0M106.9 121.9h0M106.2 122.0h0M105.1 122.4h0M105.6 122.2h0M106.4 129.6h0M105.5 129.5h0M106.0 129.5h0M105.6 130.3h0M105.5 129.3h0M106.0 130.1h0M105.8 129.4h0M182.1 98.4h0M181.0 98.5h0M181.8 98.1h0M182.0 98.2h0M181.7 98.2h0M180.9 98.2h0M181.7 97.6h0M160.5 94.8h0M159.5 94.1h0M159.6 95.1h0M158.7 95.3h0M158.7 94.9h0M159.3 94.8h0M159.4 95.1h0M108.3 115.7h0M108.8 117.3h0M108.3 116.2h0M108.4 116.3h0M108.1 117.3h0M108.0 116.7h0M109.1 116.4h0M118.2 118.7h0M118.0 117.0h0M118.0 116.7h0M117.0 118.0h0M117.9 117.0h0M118.1 117.1h0M117.9 118.4h0M143.9 96.7h0M142.4 97.4h0M142.5 96.9h0M143.1 96.6h0M143.4 96.7h0M142.3 96.5h0M143.0 96.8h0M124.1 114.7h0M123.9 114.8h0M123.3 115.5h0M123.1 115.7h0M124.7 115.1h0M123.2 115.5h0M123.5 114.3h0M101.8 131.1h0M101.6 131.0h0M101.5 130.8h0M100.4 130.5h0M102.2 130.9h0M102.1 131.1h0M102.9 130.5h0M111.9 126.2h0M110.7 126.0h0M111.5 125.9h0M111.3 126.8h0M110.2 127.3h0M112.6 126.5h0M111.4 126.5h0M115.0 111.4h0M116.9 111.8h0M114.1 113.0h0M117.4 111.1h0M115.7 113.8h0M116.6 112.0h0M115.9 111.9h0M98.7 132.2h0M100.0 131.0h0M100.4 132.0h0M99.4 132.5h0M100.0 131.6h0M100.3 131.7h0M99.5 130.9h0M117.5 119.9h0M117.4 119.8h0M118.0 120.2h0M116.4 119.0h0M117.7 119.8h0M118.5 119.8h0M117.0 120.7h0M136.5 105.0h0M137.7 106.6h0M136.8 105.9h0M137.9 106.8h0M136.5 106.4h0M135.8 106.2h0M136.2 105.5h0M113.0 117.0h0M113.9 116.8h0M113.3 116.9h0M113.4 117.7h0M113.6 117.4h0M113.2 117.3h0M113.1 117.4h0M121.4 112.4h0M122.0 112.7h0M119.3 112.2h0M120.3 112.6h0M121.3 113.2h0M121.8 112.5h0M120.7 113.4h0M139.0 103.5h0M138.3 104.5h0M137.3 104.4h0M137.8 103.7h0M138.3 102.8h0M137.0 104.3h0M137.9 103.8h0M111.4 127.0h0M111.1 127.7h0M111.1 126.6h0M111.7 127.3h0M111.4 127.3h0M110.0 127.9h0M110.7 127.9h0M170.1 98.1h0M170.4 98.1h0M170.0 97.5h0M170.1 97.6h0M170.2 98.1h0M170.5 97.5h0M170.3 98.1h0M163.1 93.9h0M163.4 94.0h0M162.5 94.0h0M162.3 95.2h0M163.2 95.0h0M163.4 94.4h0M162.6 94.8h0M136.3 104.9h0M134.8 105.5h0M135.7 103.3h0M135.0 104.1h0M136.0 105.8h0M134.4 104.3h0M134.3 105.0h0M112.2 114.0h0M113.1 113.0h0M113.9 114.5h0M114.4 113.5h0M112.5 113.2h0M112.8 112.7h0M111.7 114.7h0M165.3 92.6h0M165.1 91.2h0M166.3 92.8h0M167.9 93.7h0M166.3 93.7h0M164.9 91.9h0M164.6 93.2h0M111.6 113.8h0M109.1 113.7h0M110.1 115.1h0M110.8 114.5h0M110.5 114.6h0M110.1 115.4h0M110.4 114.5h0M111.7 113.2h0M112.6 113.3h0M112.5 112.9h0M112.5 113.0h0M111.8 113.5h0M111.8 113.5h0M111.5 113.8h0M133.0 112.4h0M133.4 112.1h0M133.5 111.7h0M133.6 112.7h0M133.6 112.1h0M133.1 112.2h0M133.4 112.0h0M112.2 124.1h0M112.9 124.2h0M112.0 124.4h0M113.4 124.0h0M112.8 125.0h0M113.4 123.6h0M113.5 124.2h0M162.7 93.3h0M162.9 92.0h0M162.8 92.2h0M162.4 92.1h0M163.7 92.1h0M162.5 92.4h0M163.4 93.5h0M116.1 122.7h0M115.7 122.6h0M115.8 122.8h0M116.6 122.0h0M116.5 122.7h0M115.6 122.2h0M116.1 122.8h0M124.7 116.7h0M125.1 116.9h0M124.0 116.2h0M123.9 117.3h0M125.4 116.5h0M125.2 115.9h0M124.8 116.9h0M104.4 118.9h0M107.2 118.5h0M106.5 120.3h0M106.8 120.0h0M108.5 119.5h0M106.5 119.2h0M107.9 119.2h0M179.9 97.3h0M180.5 97.5h0M179.7 96.8h0M179.6 96.7h0M181.2 96.4h0M180.0 97.8h0M179.6 97.0h0M107.1 124.8h0M107.8 124.1h0M108.7 124.3h0M108.6 124.7h0M107.4 124.5h0M107.2 124.3h0M108.0 124.3h0M128.3 108.8h0M128.0 109.9h0M129.0 108.4h0M128.6 108.7h0M129.4 109.7h0M128.4 110.5h0M128.2 110.4h0M125.9 114.6h0M125.7 114.7h0M124.6 115.8h0M126.6 115.8h0M124.6 115.3h0M126.0 116.3h0M124.4 114.8h0M144.1 102.9h0M144.5 102.2h0M144.9 101.7h0M144.4 101.6h0M144.4 102.3h0M143.3 102.3h0M143.9 103.7h0M110.3 119.2h0M110.3 119.1h0M109.9 119.1h0M109.6 119.8h0M110.3 119.4h0M110.0 118.8h0M110.7 119.2h0M107.6 127.1h0M108.6 128.0h0M108.3 127.6h0M107.7 128.1h0M106.3 126.1h0M107.2 126.7h0M108.0 126.6h0M110.5 113.5h0M109.7 113.5h0M110.1 113.5h0M110.4 113.7h0M110.8 112.7h0M110.0 113.3h0M111.1 113.0h0M101.9 130.1h0M102.5 130.6h0M101.6 128.5h0M101.7 129.9h0M102.5 129.5h0M102.4 130.1h0M102.8 130.1h0M113.2 120.0h0M112.4 120.8h0M113.0 120.3h0M111.8 120.6h0M112.6 121.0h0M112.8 120.3h0M112.2 121.1h0M118.3 115.1h0M116.7 116.2h0M117.3 115.9h0M117.7 114.8h0M117.9 114.4h0M118.5 114.7h0M117.8 117.0h0M156.9 96.1h0M158.2 94.9h0M156.8 95.3h0M157.5 93.8h0M158.1 94.0h0M158.5 93.2h0M158.0 93.1h0M105.7 127.1h0M106.0 127.1h0M106.1 127.1h0M105.5 127.2h0M105.6 126.5h0M105.9 126.9h0M104.8 127.2h0M141.9 97.8h0M142.5 97.0h0M142.7 97.7h0M143.3 99.0h0M142.0 97.7h0M141.9 97.6h0M142.9 99.5h0M180.5 97.5h0M179.6 97.6h0M181.7 98.9h0M181.2 97.5h0M180.8 98.1h0M180.2 97.6h0M180.9 97.2h0M138.2 98.8h0M139.5 100.6h0M138.8 100.5h0M136.8 101.3h0M138.1 100.0h0M137.0 100.3h0M136.8 98.8h0M100.5 127.6h0M99.5 128.5h0M100.6 126.5h0M99.3 126.1h0M99.5 128.3h0M99.9 127.0h0M98.9 129.3h0M123.1 119.8h0M121.7 118.0h0M122.0 119.3h0M122.7 118.7h0M123.0 118.7h0M122.2 120.0h0M122.0 119.0h0M131.8 104.2h0M133.3 104.6h0M132.5 104.0h0M131.8 104.7h0M132.4 104.5h0M132.6 103.0h0M132.0 104.9h0M110.1 115.6h0M111.7 117.0h0M111.6 116.2h0M110.6 116.2h0M111.4 116.3h0M110.2 116.4h0M110.3 116.2h0M110.5 125.2h0M111.7 121.9h0M111.5 122.8h0M112.2 122.0h0M111.8 121.8h0M111.5 121.6h0M108.9 123.4h0M113.7 121.8h0M113.7 121.0h0M114.2 120.3h0M114.8 121.6h0M114.7 120.7h0M114.7 120.4h0M114.1 120.1h0M102.2 125.8h0M102.6 126.2h0M102.9 126.1h0M101.7 126.7h0M102.5 126.6h0M102.7 126.7h0M103.0 126.2h0M141.7 99.0h0M140.8 98.2h0M140.3 99.0h0M142.2 100.1h0M141.0 99.1h0M141.2 99.7h0M142.0 99.8h0M128.1 113.9h0M128.5 113.9h0M127.8 114.4h0M127.6 114.1h0M127.8 114.0h0M127.5 113.9h0M127.4 114.2h0M133.6 107.4h0M131.9 107.3h0M132.7 106.6h0M134.0 106.3h0M133.2 106.5h0M132.2 105.9h0M133.0 107.0h0M130.8 106.1h0M130.5 107.7h0M129.8 107.1h0M129.2 105.3h0M129.4 106.9h0M127.5 105.7h0M128.4 106.4h0M117.0 119.9h0M117.9 119.4h0M117.2 120.6h0M116.9 120.3h0M117.2 120.5h0M115.7 120.1h0M118.3 120.6h0M154.7 95.0h0M155.2 95.3h0M155.1 95.6h0M155.2 96.2h0M155.4 95.7h0M154.9 96.2h0M155.7 95.6h0M105.5 119.8h0M105.4 120.7h0M106.7 120.1h0M105.2 120.3h0M105.3 119.5h0M106.3 119.7h0M105.3 120.3h0M158.8 93.5h0M159.3 92.9h0M158.8 93.0h0M158.8 92.4h0M157.7 93.7h0M160.0 92.6h0M159.1 93.1h0M164.5 92.1h0M165.1 90.5h0M164.8 92.4h0M163.4 93.0h0M165.8 92.4h0M163.5 92.2h0M164.4 90.3h0M136.7 104.4h0M136.3 103.3h0M135.7 105.4h0M135.3 102.0h0M136.1 103.0h0M135.7 101.8h0M134.9 102.9h0M109.7 127.4h0M110.5 127.9h0M110.8 128.1h0M110.2 127.5h0M109.3 128.3h0M109.3 127.1h0M110.8 127.9h0M133.7 112.9h0M133.4 114.0h0M132.7 112.9h0M133.0 113.3h0M134.3 113.8h0M132.7 113.5h0M133.0 113.3h0M109.8 123.4h0M108.6 124.0h0M109.9 123.6h0M109.4 123.6h0M109.2 123.8h0M110.1 123.1h0M109.0 123.3h0M183.1 97.7h0M182.9 97.8h0M182.9 97.6h0M183.3 98.0h0M183.4 98.2h0M183.2 98.4h0M183.2 97.9h0M121.1 113.5h0M122.0 113.1h0M121.8 113.2h0M121.0 112.9h0M120.5 113.4h0M121.4 112.3h0M122.6 112.6h0M145.6 102.8h0M145.4 102.6h0M143.3 103.0h0M145.5 102.0h0M145.2 102.6h0M144.7 102.2h0M144.2 102.5h0M149.7 98.4h0M150.3 98.4h0M150.3 98.9h0M149.6 99.7h0M149.0 98.8h0M151.4 99.1h0M149.6 98.5h0M120.7 112.1h0M119.9 110.9h0M120.4 112.3h0M119.9 113.0h0M120.9 111.8h0M120.8 113.5h0M120.1 111.5h0M147.2 99.4h0M146.8 97.8h0M147.1 98.8h0M147.3 99.8h0M145.3 100.0h0M146.3 100.2h0M147.3 99.7h0M136.9 109.0h0M136.0 109.3h0M136.5 108.8h0M137.8 108.4h0M136.4 109.0h0M137.8 108.5h0M138.0 108.9h0M141.0 104.0h0M143.5 102.6h0M142.2 103.9h0M142.1 103.9h0M142.2 103.7h0M144.2 104.1h0M142.0 102.7h0M169.1 94.1h0M168.4 93.5h0M168.4 93.8h0M168.4 93.2h0M168.9 94.1h0M169.5 94.6h0M167.7 93.6h0M110.5 116.8h0M110.7 118.3h0M112.2 118.8h0M111.5 117.5h0M111.2 118.0h0M111.0 117.7h0M110.7 117.4h0M112.2 117.4h0M113.8 116.6h0M111.4 115.8h0M113.2 117.3h0M112.6 116.7h0M113.4 116.5h0M113.0 116.7h0M109.8 121.1h0M110.4 122.1h0M110.1 121.0h0M109.6 121.1h0M108.8 120.6h0M110.9 120.3h0M109.8 121.3h0M135.5 102.1h0M133.6 101.8h0M135.1 102.5h0M135.6 101.8h0M134.9 101.5h0M136.1 103.3h0M134.5 102.5h0M117.4 116.6h0M117.5 118.5h0M116.8 117.3h0M116.8 118.1h0M117.1 117.4h0M118.2 117.1h0M116.9 117.0h0M160.9 94.2h0M162.1 93.9h0M162.6 92.8h0M159.3 93.8h0M160.8 93.3h0M160.0 94.5h0M160.8 93.2h0M114.2 121.1h0M114.7 120.2h0M114.4 120.2h0M114.3 121.0h0M114.0 120.2h0M114.5 120.1h0M113.5 121.2h0M129.5 112.4h0M129.1 112.6h0M128.8 112.5h0M128.4 112.9h0M129.2 112.1h0M129.3 112.1h0M128.7 111.8h0M127.2 116.6h0M129.4 115.7h0M127.6 117.4h0M128.3 116.1h0M128.1 117.1h0M128.9 116.9h0M129.3 116.4h0M148.4 100.3h0M145.5 99.6h0M146.0 100.0h0M148.7 99.2h0M147.1 100.2h0M147.5 100.6h0M148.3 100.6h0M140.4 103.5h0M139.1 102.9h0M141.7 102.1h0M140.4 101.8h0M141.9 103.2h0M140.8 103.0h0M140.8 103.6h0M169.8 94.6h0M169.9 94.0h0M169.7 94.8h0M170.3 95.0h0M169.6 95.0h0M170.0 95.2h0M169.7 95.4h0M131.8 110.2h0M130.6 110.2h0M132.5 111.0h0M132.6 111.5h0M132.4 110.1h0M132.0 110.3h0M132.9 110.6h0M133.0 113.8h0M134.6 114.4h0M134.0 111.8h0M133.8 113.4h0M133.2 113.3h0M134.4 112.1h0M135.4 112.0h0M131.1 105.1h0M130.6 105.4h0M131.0 104.6h0M131.1 104.6h0M131.6 105.0h0M130.8 105.3h0M130.5 104.7h0M110.9 126.2h0M110.3 125.5h0M110.8 126.3h0M111.8 126.0h0M109.0 126.9h0M110.9 125.4h0M109.9 124.8h0M149.8 99.3h0M149.5 99.4h0M149.7 98.9h0M150.9 99.9h0M150.9 98.9h0M150.4 99.5h0M149.4 100.4h0M167.1 92.1h0M167.6 92.5h0M167.1 92.5h0M167.4 91.4h0M167.3 91.4h0M166.9 91.8h0M167.2 92.1h0M106.8 126.4h0M105.9 125.1h0M106.3 126.0h0M106.2 125.2h0M106.0 126.1h0M105.9 126.2h0M106.4 125.8h0M111.7 125.7h0M111.5 125.7h0M111.9 124.1h0M111.8 125.8h0M111.6 125.6h0M111.6 125.4h0M111.5 125.2h0M114.6 123.1h0M113.8 120.3h0M114.9 120.9h0M115.8 121.5h0M114.9 122.6h0M113.4 120.2h0M115.8 120.2h0M151.0 99.1h0M149.9 99.1h0M151.0 96.2h0M149.8 97.2h0M151.3 98.6h0M151.9 98.8h0M149.3 96.7h0M117.5 123.7h0M116.6 125.1h0M117.2 124.5h0M117.6 123.5h0M116.7 124.2h0M117.0 124.5h0M118.1 124.4h0M114.3 119.3h0M114.9 123.0h0M113.7 121.1h0M114.3 122.6h0M114.8 121.6h0M116.8 120.0h0M113.1 119.6h0M111.3 116.7h0M107.9 115.0h0M107.8 117.2h0M109.5 116.6h0M107.2 116.8h0M106.9 114.9h0M109.3 115.6h0M109.2 125.5h0M110.2 125.9h0M109.3 126.4h0M109.6 126.2h0M109.2 126.2h0M109.0 126.1h0M109.6 126.3h0M143.2 103.6h0M142.1 102.8h0M143.4 102.4h0M142.1 103.1h0M143.9 102.8h0M142.9 102.8h0M143.2 104.1h0M163.0 94.9h0M162.8 95.3h0M162.6 95.8h0M160.9 96.4h0M162.0 95.3h0M162.6 93.9h0M162.8 95.3h0M99.0 134.3h0M99.4 134.5h0M98.2 134.4h0M99.5 134.9h0M100.1 134.4h0M99.5 133.8h0M99.5 134.4h0M103.9 125.0h0M106.6 125.8h0M103.8 125.6h0M105.5 124.9h0M106.3 124.7h0M104.7 124.0h0M107.1 124.7h0M136.7 101.5h0M136.3 101.2h0M136.5 101.6h0M136.7 101.1h0M136.1 101.2h0M136.4 101.2h0M136.4 100.8h0M118.5 115.9h0M119.3 115.8h0M118.5 116.9h0M118.1 116.1h0M119.3 116.6h0M119.0 116.1h0M117.7 116.4h0M112.0 123.2h0M111.2 124.8h0M112.2 123.0h0M111.6 124.1h0M112.2 124.1h0M111.1 123.3h0M112.1 123.7h0M131.2 106.1h0M132.0 106.1h0M131.1 104.8h0M131.0 105.2h0M131.5 105.3h0M131.7 105.1h0M131.7 106.7h0M119.9 115.5h0M119.0 117.1h0M119.4 116.7h0M119.0 117.2h0M120.4 116.1h0M119.4 115.9h0M120.2 116.8h0M158.1 97.4h0M157.2 97.3h0M157.0 97.3h0M158.0 97.2h0M157.9 96.4h0M158.7 97.5h0M157.1 97.3h0M161.4 93.7h0M160.7 94.1h0M161.3 93.8h0M161.2 95.1h0M161.0 94.3h0M160.5 94.1h0M161.4 94.3h0M156.4 97.8h0M156.0 97.5h0M155.9 97.1h0M156.2 97.4h0M156.7 97.6h0M156.9 97.1h0M156.5 97.5h0M112.5 127.0h0M113.6 128.2h0M113.3 127.3h0M113.1 127.1h0M112.8 127.3h0M112.9 127.1h0M113.2 128.3h0M98.2 128.2h0M99.1 129.2h0M99.2 127.9h0M99.2 128.6h0M98.6 128.2h0M99.8 130.0h0M99.3 127.8h0M144.0 99.8h0M144.3 98.6h0M141.1 100.2h0M144.3 99.6h0M143.0 100.0h0M143.1 100.9h0M143.6 100.4h0M132.4 103.2h0M132.1 102.7h0M133.5 103.8h0M134.2 104.1h0M134.0 103.8h0M132.7 102.9h0M133.7 104.0h0M127.9 116.8h0M127.8 117.5h0M128.6 117.6h0M128.8 117.2h0M129.0 117.8h0M128.1 117.5h0M128.7 117.3h0M181.5 98.6h0M182.7 99.7h0M180.9 97.9h0M180.8 99.0h0M181.9 98.4h0M181.4 98.1h0M181.7 99.2h0M140.8 105.5h0M140.9 105.1h0M140.9 105.3h0M140.6 105.8h0M141.0 105.7h0M140.6 105.4h0M140.9 105.1h0M135.9 109.2h0M136.0 108.3h0M135.9 108.9h0M135.0 108.1h0M135.4 108.7h0M135.6 108.8h0M136.1 109.0h0M126.5 119.6h0M126.5 119.5h0M126.3 119.4h0M127.1 119.1h0M127.0 119.5h0M126.9 119.3h0M126.4 120.3h0M99.8 133.7h0M98.0 133.5h0M99.7 134.6h0M98.9 133.6h0M99.3 133.2h0M99.9 133.3h0M99.7 132.1h0M114.5 118.2h0M114.2 118.0h0M115.1 117.8h0M114.4 118.8h0M114.4 117.9h0M114.1 118.7h0M114.0 118.3h0M123.4 121.1h0M122.9 121.0h0M123.7 121.1h0M122.4 120.9h0M122.3 120.3h0M123.7 120.8h0M123.5 121.1h0M129.6 109.0h0M129.8 109.5h0M129.7 108.8h0M129.8 109.1h0M129.4 109.2h0M129.5 109.0h0M130.4 110.0h0M165.0 101.0h0M164.9 101.8h0M165.9 101.2h0M165.4 101.3h0M165.6 100.9h0M165.4 101.2h0M165.7 101.7h0M168.3 103.1h0M167.9 102.2h0M167.3 101.5h0M167.5 102.5h0M166.5 101.6h0M167.6 102.3h0M168.2 100.0h0M168.9 101.4h0M167.2 101.6h0M167.5 101.9h0M168.0 102.3h0M167.8 101.8h0M168.3 102.5h0M166.0 102.9h0M164.8 101.6h0M165.0 101.2h0M165.9 102.3h0M165.4 101.7h0M164.9 101.6h0M164.6 102.7h0M164.7 102.0h0M167.3 101.6h0M167.1 100.7h0M166.9 100.5h0M166.8 100.0h0M167.3 100.5h0M167.8 100.5h0M167.7 100.7h0M173.0 85.3h0M173.2 85.1h0M174.3 83.4h0M174.7 85.5h0M172.6 86.4h0M172.8 85.4h0M173.8 85.1h0M173.6 85.4h0M172.8 85.4h0M174.7 84.8h0M174.1 86.6h0M171.2 85.8h0M173.3 83.4h0M173.0 86.2h0M172.8 86.4h0M173.6 86.1h0M173.3 86.3h0M173.7 82.0h0M172.7 85.5h0M173.9 84.4h0M172.8 86.4h0M172.8 85.6h0M172.5 85.5h0M172.0 85.7h0M173.5 85.5h0M174.0 84.0h0M171.3 85.7h0M171.8 85.8h0M174.6 84.8h0M172.1 86.4h0M173.3 83.2h0M174.1 85.8h0M173.4 85.0h0M174.6 85.2h0M175.1 85.3h0M172.1 85.4h0M174.1 85.1h0M173.0 85.9h0M171.6 84.1h0M174.4 84.7h0M172.4 84.1h0M173.9 84.2h0M172.1 85.0h0M172.6 85.6h0M172.9 87.4h0M174.5 84.5h0M174.2 86.4h0M173.5 85.5h0M174.6 84.6h0M174.7 86.4h0M174.3 84.9h0M172.3 85.1h0M172.1 84.8h0M174.0 84.7h0M174.2 84.3h0M172.0 84.6h0M174.5 85.5h0M173.5 85.3h0M173.0 84.8h0M173.0 83.9h0M174.3 86.4h0M171.5 85.0h0M172.8 84.9h0M173.5 85.0h0M172.1 83.9h0M173.2 83.0h0M172.1 87.9h0M172.5 86.2h0M172.9 84.6h0M173.4 86.0h0M174.3 84.1h0M174.0 85.0h0M172.6 85.9h0M173.6 86.3h0M173.7 85.5h0M218.0 103.6h0M217.7 104.0h0M217.8 104.0h0M218.1 102.8h0M217.7 103.7h0M218.6 102.7h0M217.9 103.7h0M220.8 100.2h0M222.2 100.5h0M223.0 100.5h0M222.1 101.5h0M222.3 101.0h0M221.3 101.2h0M219.5 102.1h0M218.9 101.8h0M219.7 100.0h0M217.3 99.5h0M220.8 101.1h0M219.4 99.6h0M218.4 101.1h0M218.9 98.0h0M214.6 104.0h0M214.0 104.4h0M214.5 103.8h0M214.8 103.3h0M215.3 104.4h0M214.8 104.2h0M215.0 104.3h0M218.3 102.2h0M219.7 103.4h0M218.8 103.2h0M218.9 103.3h0M218.1 104.0h0M219.4 103.3h0M218.5 102.3h0M215.7 102.3h0M214.3 102.8h0M213.2 100.8h0M213.2 101.6h0M213.6 102.6h0M214.5 101.5h0M214.3 101.7h0M210.7 101.2h0M210.2 101.0h0M210.5 99.9h0M210.3 100.8h0M210.1 101.4h0M210.8 100.5h0M210.8 102.0h0M220.2 103.8h0M220.2 104.1h0M220.3 104.6h0M220.4 103.6h0M220.8 103.8h0M220.4 103.7h0M220.1 104.5h0M225.5 102.8h0M226.7 103.5h0M226.1 103.8h0M225.2 104.4h0M226.1 103.7h0M226.6 103.8h0M226.9 103.4h0M222.6 103.9h0M222.5 104.1h0M222.8 103.5h0M222.2 104.2h0M222.2 104.0h0M222.0 103.4h0M222.0 104.0h0M216.7 102.1h0M218.0 103.4h0M216.2 103.7h0M217.2 102.2h0M216.7 102.8h0M216.5 103.1h0M215.8 103.1h0M218.6 102.8h0M218.4 101.9h0M218.4 103.7h0M218.4 101.2h0M217.6 102.6h0M218.9 103.2h0M217.9 102.1h0M212.5 101.3h0M212.3 100.4h0M212.9 100.6h0M212.8 100.9h0M212.7 101.3h0M213.2 101.7h0M212.3 101.2h0M220.4 98.5h0M220.6 99.5h0M221.1 100.3h0M220.9 99.0h0M219.8 100.1h0M221.0 100.1h0M220.8 98.3h0M219.2 104.4h0M222.7 104.6h0M220.2 104.7h0M219.6 104.1h0M219.7 103.3h0M218.7 104.7h0M219.4 104.8h0M219.6 101.2h0M221.5 101.0h0M221.0 100.7h0M220.1 101.2h0M220.9 101.5h0M220.4 101.8h0M220.3 101.9h0M211.4 100.5h0M210.7 100.7h0M211.0 100.2h0M211.5 100.0h0M210.6 100.4h0M211.4 99.7h0M211.5 99.5h0M218.3 104.4h0M219.9 103.5h0M216.8 105.2h0M218.9 104.1h0M218.0 103.4h0M218.6 104.3h0M218.2 103.3h0M221.7 102.1h0M221.5 103.5h0M221.5 101.9h0M222.4 104.0h0M221.1 103.7h0M221.5 102.2h0M221.9 104.0h0M222.3 98.9h0M221.6 98.8h0M222.2 99.2h0M221.3 99.8h0M221.5 99.9h0M221.7 98.4h0M222.4 98.7h0M214.0 104.7h0M213.9 104.9h0M215.2 104.2h0M214.1 103.9h0M214.3 104.0h0M213.7 105.2h0M214.7 103.5h0M213.2 100.8h0M213.9 98.6h0M211.7 100.4h0M213.8 100.5h0M212.7 99.1h0M213.1 100.0h0M214.1 100.5h0M210.7 101.0h0M210.9 100.2h0M210.5 100.9h0M209.9 99.8h0M210.6 99.9h0M210.8 99.9h0M210.1 100.5h0M225.6 103.8h0M224.1 102.3h0M223.7 104.0h0M225.6 102.7h0M225.5 101.9h0M224.1 103.2h0M224.9 103.3h0M217.0 104.2h0M217.5 103.7h0M217.3 105.0h0M217.3 103.9h0M217.3 104.0h0M217.8 104.5h0M217.3 103.8h0M223.8 98.9h0M225.6 98.9h0M224.5 99.9h0M223.3 99.3h0M225.0 100.2h0M225.1 98.5h0M223.3 98.6h0M212.5 100.3h0M213.7 102.7h0M216.5 101.1h0M213.2 100.4h0M214.5 100.9h0M214.1 102.0h0M213.6 101.3h0M220.5 103.5h0M220.3 103.5h0M220.6 103.2h0M220.4 103.7h0M220.1 102.5h0M220.0 103.0h0M219.6 103.6h0M216.2 99.6h0M215.5 100.4h0M216.1 101.9h0M216.1 102.6h0M216.1 99.8h0M215.6 101.0h0M215.9 101.4h0M218.2 101.6h0M217.0 101.9h0M218.0 102.4h0M217.7 102.6h0M218.2 102.5h0M219.0 102.2h0M218.2 102.9h0M222.9 103.3h0M223.7 103.6h0M222.5 102.5h0M223.9 104.4h0M223.0 105.1h0M223.4 103.2h0M222.9 104.7h0M224.6 99.3h0M225.1 101.1h0M223.4 100.9h0M225.2 98.9h0M224.1 99.4h0M225.1 98.7h0M225.7 101.0h0M227.1 101.3h0M226.0 101.0h0M226.7 101.7h0M225.8 102.6h0M226.2 101.4h0M226.7 102.3h0M225.3 99.5h0M221.8 100.6h0M222.0 101.5h0M221.7 101.1h0M222.0 101.5h0M222.3 101.7h0M222.6 102.8h0M222.8 102.1h0M218.8 99.9h0M217.4 99.6h0M218.1 99.9h0M218.4 100.9h0M218.8 99.4h0M217.0 100.0h0M218.7 99.2h0M223.5 103.0h0M226.1 101.9h0M226.9 103.1h0M225.2 102.5h0M224.7 102.1h0M225.9 103.1h0M225.9 102.2h0M219.4 104.8h0M219.6 104.2h0M220.4 105.5h0M219.7 105.4h0M220.2 104.2h0M221.2 104.3h0M220.4 104.5h0M220.3 103.5h0M222.4 102.9h0M221.3 104.3h0M220.4 102.5h0M221.2 103.5h0M222.4 104.6h0M221.0 102.5h0M225.2 104.9h0M224.4 101.2h0M224.9 102.7h0M223.8 102.1h0M224.9 102.3h0M223.1 103.7h0M223.7 103.1h0M220.0 104.2h0M220.6 104.5h0M220.4 104.4h0M220.4 104.2h0M219.9 103.8h0M220.4 103.5h0M220.3 104.4h0M219.7 101.4h0M219.3 101.9h0M218.9 104.1h0M219.0 103.6h0M218.9 101.6h0M218.1 102.7h0M218.0 103.8h0M225.4 100.1h0M225.7 100.0h0M223.6 100.0h0M224.1 99.7h0M222.4 99.4h0M226.1 99.6h0M223.8 99.1h0M211.8 104.0h0M212.2 103.0h0M212.4 104.2h0M211.8 103.5h0M211.9 103.3h0M211.8 103.8h0M213.2 102.9h0M220.5 103.9h0M220.0 103.7h0M221.0 104.1h0M219.7 103.4h0M221.3 104.1h0M220.4 104.0h0M220.7 103.7h0M221.8 101.0h0M222.4 100.2h0M222.1 101.3h0M222.2 101.8h0M220.3 101.3h0M221.3 101.2h0M221.7 101.6h0M226.2 102.1h0M225.4 104.0h0M224.8 103.3h0M226.7 103.3h0M226.0 102.6h0M224.3 101.6h0M225.9 102.9h0M211.2 102.4h0M210.7 103.1h0M210.4 101.9h0M210.8 102.3h0M210.9 101.9h0M210.2 102.6h0M210.6 102.0h0M220.7 103.4h0M221.2 103.2h0M220.2 103.2h0M220.7 105.3h0M222.9 103.0h0M221.4 103.7h0M221.1 103.6h0M217.5 101.0h0M217.7 100.3h0M218.0 100.8h0M217.6 100.5h0M217.7 101.2h0M218.1 100.3h0M217.5 100.1h0M225.7 103.2h0M225.2 103.3h0M226.1 103.6h0M226.0 103.0h0M225.7 103.0h0M225.7 103.5h0M225.9 102.7h0M222.2 104.0h0M222.8 104.2h0M222.9 104.8h0M222.3 104.0h0M222.6 104.2h0M222.9 104.9h0M221.5 105.0h0M215.1 101.2h0M214.9 101.1h0M215.0 101.1h0M215.4 101.0h0M215.3 100.4h0M214.9 101.5h0M215.3 101.4h0M214.0 102.6h0M215.1 103.4h0M215.2 104.1h0M215.2 104.5h0M214.9 103.9h0M213.7 103.3h0M214.4 103.2h0M221.3 104.1h0M222.5 103.8h0M222.1 104.0h0M222.0 103.3h0M222.7 103.9h0M223.0 103.7h0M222.1 103.2h0M227.2 103.9h0M225.3 102.8h0M225.7 102.3h0M226.2 102.6h0M226.0 103.5h0M226.0 101.2h0M226.2 103.4h0M229.2 98.8h0M228.6 98.4h0M229.9 98.9h0M229.8 99.2h0M229.4 99.2h0M229.7 99.6h0M229.5 99.3h0M228.4 101.6h0M228.8 101.0h0M228.2 102.8h0M228.7 102.0h0M229.4 103.4h0M229.7 102.4h0M227.5 102.6h0M251.7 73.6h0M252.3 73.1h0M251.8 73.1h0M251.6 73.0h0M252.2 72.3h0M252.7 71.8h0M252.0 73.1h0M253.5 72.1h0M254.7 72.9h0M255.5 73.1h0M254.9 73.1h0M254.1 74.2h0M253.7 73.6h0M254.2 73.6h0M262.8 62.1h0M262.3 61.8h0M262.4 62.0h0M264.4 62.7h0M261.7 62.8h0M261.8 62.5h0M262.3 62.1h0M250.2 75.6h0M250.6 75.9h0M251.3 75.3h0M250.7 76.0h0M250.6 75.4h0M249.2 72.6h0M250.1 75.5h0M263.2 66.2h0M263.4 64.1h0M263.0 63.4h0M263.8 63.8h0M264.2 64.9h0M262.9 64.8h0M262.8 65.4h0M250.4 78.8h0M250.7 80.8h0M251.1 77.7h0M252.1 79.7h0M250.2 78.1h0M249.6 78.0h0M250.8 77.5h0M252.1 73.0h0M251.0 72.4h0M253.1 74.1h0M252.1 72.9h0M252.7 73.8h0M251.5 74.6h0M252.3 74.7h0M238.3 91.1h0M238.1 91.3h0M239.0 92.0h0M239.5 91.1h0M237.8 89.7h0M237.9 89.8h0M238.0 91.2h0M261.2 59.3h0M260.6 60.8h0M261.5 60.4h0M261.4 59.8h0M260.9 60.4h0M261.3 60.3h0M260.6 59.5h0M245.4 88.9h0M244.7 87.8h0M246.1 88.0h0M245.2 88.8h0M244.7 87.2h0M244.0 88.0h0M243.6 88.5h0M239.7 90.2h0M241.3 90.2h0M241.4 90.7h0M240.6 89.3h0M240.0 89.9h0M240.8 90.7h0M239.1 89.7h0M262.3 57.2h0M262.4 57.1h0M261.8 57.7h0M262.4 56.9h0M262.3 57.3h0M262.4 58.1h0M262.2 56.6h0M255.6 65.9h0M256.7 65.5h0M255.4 67.2h0M256.5 66.4h0M256.6 66.1h0M256.5 65.5h0M257.0 65.8h0M246.7 83.1h0M246.9 83.6h0M247.3 83.1h0M247.0 83.3h0M246.1 83.1h0M247.6 83.8h0M247.0 84.2h0M263.0 57.9h0M261.9 57.3h0M262.9 56.3h0M262.9 56.9h0M262.6 56.1h0M262.0 58.7h0M262.5 57.4h0M234.6 94.2h0M236.6 92.2h0M236.0 95.0h0M234.6 94.5h0M235.2 94.3h0M235.8 92.9h0M235.9 92.7h0M255.8 66.0h0M255.4 66.6h0M256.3 65.8h0M256.1 67.3h0M256.1 67.4h0M255.6 67.6h0M255.3 66.1h0M256.0 64.5h0M257.0 64.5h0M257.6 64.2h0M258.2 63.1h0M257.5 64.7h0M257.9 65.1h0M256.0 64.8h0M240.1 91.2h0M239.0 91.8h0M239.9 91.5h0M239.6 90.7h0M238.7 90.8h0M239.2 92.2h0M240.4 91.7h0M239.2 90.3h0M239.8 90.3h0M237.8 90.7h0M240.0 90.3h0M239.0 89.9h0M238.8 90.6h0M238.1 90.8h0M234.7 94.0h0M233.7 92.7h0M235.8 93.7h0M235.4 94.2h0M236.0 93.4h0M235.4 92.9h0M236.4 93.1h0M246.3 85.7h0M245.8 86.4h0M244.3 87.4h0M245.9 85.3h0M246.0 87.5h0M244.1 86.7h0M244.1 87.7h0M247.6 81.9h0M248.0 82.6h0M249.6 81.2h0M248.1 82.1h0M249.8 81.8h0M249.2 82.7h0M248.5 80.4h0M234.7 91.3h0M234.5 91.7h0M234.2 91.4h0M234.7 91.5h0M234.5 90.7h0M234.8 91.3h0M234.4 91.7h0M240.8 89.7h0M241.8 89.3h0M240.0 89.6h0M240.9 89.5h0M240.4 89.8h0M241.2 90.0h0M240.7 88.7h0M253.5 69.7h0M254.4 69.8h0M253.4 71.1h0M254.7 70.0h0M255.1 71.0h0M254.5 70.7h0M253.8 70.2h0M247.2 83.5h0M247.7 82.1h0M247.9 82.0h0M248.7 82.1h0M248.6 82.5h0M248.1 81.9h0M247.0 81.8h0M231.6 94.2h0M231.5 95.2h0M231.1 94.6h0M231.6 94.8h0M231.1 94.9h0M231.1 94.5h0M230.8 95.3h0M256.7 71.1h0M254.7 72.3h0M257.5 71.8h0M254.5 70.1h0M256.9 72.9h0M255.3 70.7h0M257.2 70.5h0M257.9 61.9h0M257.4 62.7h0M258.2 61.2h0M258.0 62.3h0M257.7 61.6h0M258.2 62.0h0M257.5 60.6h0M241.2 87.3h0M240.0 87.9h0M240.2 86.7h0M241.1 86.8h0M239.7 86.6h0M241.2 87.0h0M241.7 87.5h0M244.3 88.4h0M244.3 88.6h0M243.1 88.3h0M243.0 88.3h0M243.0 88.8h0M243.9 88.4h0M244.1 88.7h0M233.3 94.6h0M232.7 95.4h0M233.6 94.6h0M232.5 96.8h0M233.0 95.5h0M232.2 94.6h0M232.9 93.6h0M237.3 91.0h0M236.2 91.4h0M236.2 92.2h0M236.6 91.5h0M237.4 91.8h0M237.0 91.4h0M237.2 91.5h0M253.6 69.9h0M253.7 70.0h0M253.3 70.1h0M252.0 68.7h0M253.0 68.9h0M252.9 69.0h0M254.7 70.0h0M239.9 88.8h0M241.7 89.2h0M241.1 89.8h0M240.9 89.7h0M241.2 89.5h0M240.2 89.7h0M240.3 89.4h0M260.5 60.9h0M261.9 61.2h0M259.5 61.8h0M261.4 58.9h0M261.4 60.3h0M261.3 59.7h0M259.1 60.2h0M255.2 68.2h0M255.3 70.6h0M256.7 70.6h0M255.7 69.4h0M255.4 72.0h0M256.1 69.3h0M255.0 69.9h0M250.6 81.3h0M250.5 80.4h0M250.2 80.0h0M250.1 81.3h0M248.9 81.7h0M248.5 81.6h0M250.1 81.3h0M235.9 91.8h0M235.9 90.1h0M236.1 91.6h0M237.2 92.0h0M236.5 91.8h0M236.0 92.3h0M236.8 90.0h0M252.7 69.4h0M255.7 68.8h0M254.2 70.7h0M255.1 70.1h0M255.6 70.1h0M253.9 71.5h0M256.6 67.7h0M231.1 93.1h0M231.2 93.4h0M231.6 94.6h0M231.7 93.7h0M230.9 93.7h0M232.5 94.7h0M231.3 94.1h0M235.8 92.3h0M236.4 92.0h0M233.5 92.1h0M235.5 93.1h0M234.5 92.8h0M235.4 92.5h0M234.0 93.0h0M232.6 95.1h0M232.7 95.3h0M232.6 95.4h0M231.8 95.3h0M232.9 95.8h0M233.3 95.6h0M232.5 95.4h0M241.8 90.5h0M241.2 90.2h0M240.3 89.3h0M240.2 90.2h0M241.4 90.2h0M240.8 90.4h0M240.6 90.2h0M262.9 64.3h0M262.3 64.9h0M262.0 65.8h0M263.2 63.6h0M262.4 64.0h0M264.8 63.5h0M264.2 65.3h0M264.9 55.8h0M265.3 56.8h0M264.9 55.6h0M265.0 56.2h0M265.8 55.7h0M265.9 55.3h0M265.7 56.2h0M244.4 87.5h0M244.1 86.6h0M245.6 88.4h0M243.7 87.2h0M246.1 87.1h0M245.0 87.5h0M245.6 87.6h0M252.3 72.1h0M252.6 72.7h0M252.4 72.9h0M251.5 71.9h0M252.0 71.4h0M252.7 72.9h0M252.0 71.7h0M249.2 77.7h0M249.7 76.7h0M249.1 76.8h0M248.5 76.4h0M249.4 75.5h0M249.8 76.1h0M249.0 76.1h0M258.3 66.9h0M258.4 67.5h0M258.5 66.4h0M258.0 66.2h0M258.1 66.6h0M258.3 67.3h0M258.2 67.5h0M253.0 73.6h0M252.9 73.2h0M253.0 73.2h0M253.6 73.3h0M253.0 72.9h0M253.5 72.3h0M253.6 73.4h0M238.5 91.6h0M239.1 92.2h0M239.3 92.8h0M239.4 91.7h0M238.9 91.6h0M239.5 90.9h0M238.5 92.0h0M253.6 70.9h0M254.8 70.1h0M253.7 70.3h0M253.7 69.7h0M254.3 71.3h0M254.7 71.1h0M254.0 70.7h0M246.4 86.5h0M245.6 86.0h0M245.8 87.0h0M244.5 87.3h0M245.6 85.3h0M246.7 86.0h0M245.5 86.6h0M233.4 91.8h0M233.8 92.5h0M233.2 91.9h0M233.0 93.4h0M233.4 92.3h0M233.3 92.4h0M233.4 92.0h0M238.0 88.8h0M239.5 90.5h0M239.8 91.3h0M238.8 91.3h0M239.0 89.6h0M238.9 90.2h0M238.7 90.7h0M259.0 67.9h0M258.3 67.6h0M259.3 66.2h0M258.3 66.6h0M258.5 66.4h0M258.4 68.1h0M258.0 66.3h0M245.4 85.1h0M244.4 85.1h0M245.0 85.2h0M246.0 85.8h0M246.0 85.8h0M245.5 86.6h0M244.2 84.8h0M252.7 75.2h0M252.3 73.1h0M252.6 74.0h0M251.6 73.2h0M252.1 73.6h0M253.1 74.0h0M252.3 73.3h0M246.8 87.4h0M247.0 86.2h0M245.1 84.8h0M245.8 86.3h0M246.3 85.7h0M246.7 86.3h0M246.7 86.5h0M256.6 68.9h0M257.8 71.7h0M256.2 69.0h0M255.6 71.3h0M257.4 70.8h0M256.9 69.8h0M257.2 68.9h0M246.2 83.5h0M246.0 82.7h0M245.4 82.7h0M246.4 82.9h0M245.8 83.0h0M245.2 82.1h0M246.0 82.3h0M262.3 62.4h0M261.7 61.8h0M261.2 64.2h0M260.7 61.3h0M261.4 63.0h0M261.6 62.3h0M262.1 62.7h0M257.4 63.0h0M256.7 64.4h0M255.7 64.5h0M257.2 65.8h0M256.3 66.5h0M257.1 66.1h0M257.8 64.3h0M254.7 65.3h0M258.1 65.8h0M256.6 64.3h0M257.3 64.9h0M256.8 64.2h0M255.7 65.8h0M257.2 64.8h0M253.5 75.1h0M253.7 75.1h0M253.5 75.4h0M253.7 74.7h0M253.8 74.8h0M253.1 74.6h0M254.0 75.2h0M261.8 56.5h0M262.6 55.7h0M264.0 55.8h0M263.7 56.5h0M262.4 54.4h0M262.9 56.6h0M263.6 56.3h0M261.8 61.9h0M261.5 62.2h0M261.8 62.2h0M261.9 62.7h0M261.4 62.5h0M261.2 62.0h0M262.0 62.1h0M246.5 84.1h0M246.5 85.1h0M244.9 84.9h0M245.1 85.3h0M246.0 84.1h0M246.2 84.6h0M245.7 85.9h0M253.2 75.5h0M253.2 77.4h0M253.9 78.2h0M253.0 76.8h0M253.8 76.9h0M254.3 78.3h0M253.8 78.2h0M249.7 82.4h0M249.8 82.3h0M250.9 82.1h0M248.7 81.8h0M249.6 82.5h0M249.7 81.6h0M248.8 82.1h0M243.2 89.7h0M243.6 88.1h0M243.5 90.0h0M243.2 88.9h0M242.5 88.6h0M242.5 89.6h0M243.0 88.7h0M247.1 81.2h0M245.0 82.5h0M247.6 82.5h0M245.7 83.0h0M246.7 84.0h0M246.8 83.2h0M246.0 84.5h0M255.8 72.0h0M254.5 72.2h0M257.9 71.1h0M255.5 71.6h0M253.9 70.2h0M254.2 71.6h0M255.6 70.1h0M238.3 91.6h0M239.0 92.1h0M237.6 91.6h0M236.8 92.2h0M236.9 92.3h0M237.3 91.6h0M238.3 91.5h0M246.2 83.8h0M246.8 84.4h0M246.4 84.0h0M246.1 84.3h0M246.2 83.8h0M245.8 83.7h0M246.9 83.7h0M252.9 72.2h0M252.4 72.9h0M252.8 73.1h0M253.0 72.4h0M252.9 72.8h0M253.0 72.5h0M252.2 72.7h0M254.9 72.5h0M254.5 72.4h0M254.3 73.4h0M254.4 71.6h0M254.7 73.0h0M255.2 73.0h0M253.7 71.7h0M264.4 59.8h0M263.8 60.7h0M264.2 59.2h0M263.8 59.7h0M264.1 60.8h0M265.1 60.3h0M264.0 58.9h0M252.6 70.9h0M252.7 70.1h0M252.7 70.0h0M251.7 71.2h0M253.0 71.4h0M252.9 70.5h0M253.7 70.6h0M252.0 77.3h0M251.9 76.8h0M251.6 77.4h0M252.2 76.7h0M252.3 76.6h0M252.2 76.7h0M251.2 77.0h0M255.3 71.6h0M255.3 71.1h0M255.5 71.6h0M255.3 70.5h0M255.2 72.7h0M254.0 71.7h0M253.7 70.6h0M245.6 86.0h0M246.0 85.5h0M245.8 84.4h0M245.5 85.3h0M246.7 85.2h0M245.8 84.4h0M247.3 85.7h0M241.6 88.0h0M241.8 88.2h0M241.9 87.8h0M241.1 87.5h0M241.7 88.1h0M241.1 88.2h0M240.3 87.5h0M258.9 63.4h0M259.6 63.4h0M259.8 62.9h0M258.9 62.2h0M259.4 63.6h0M259.1 63.0h0M259.6 63.0h0M247.4 84.8h0M247.5 84.1h0M248.1 83.4h0M248.8 83.9h0M247.7 84.3h0M248.1 84.5h0M246.7 83.7h0M261.5 59.7h0M262.6 59.9h0M262.3 60.8h0M262.7 60.0h0M261.4 59.8h0M262.2 60.6h0M261.8 60.0h0M242.4 89.6h0M243.2 91.6h0M244.0 89.8h0M243.1 90.8h0M243.7 91.5h0M243.0 88.8h0M243.1 90.0h0M247.3 82.8h0M246.2 84.2h0M246.7 82.8h0M246.9 82.8h0M246.1 82.7h0M247.0 83.0h0M247.4 84.6h0M249.8 80.8h0M249.9 80.7h0M249.2 80.6h0M249.2 81.1h0M250.0 81.0h0M249.5 81.3h0M250.3 81.0h0M249.0 79.0h0M248.7 79.2h0M248.2 79.4h0M248.4 79.5h0M248.7 80.7h0M248.9 79.8h0M246.6 81.0h0M250.3 79.4h0M249.5 78.8h0M249.9 79.1h0M249.5 79.5h0M250.1 78.9h0M249.6 78.8h0M249.5 78.7h0M265.5 59.6h0M266.0 59.2h0M266.2 59.5h0M265.4 58.7h0M264.3 59.2h0M264.4 59.2h0M266.4 60.1h0M248.4 82.9h0M248.7 83.0h0M248.7 83.6h0M248.1 83.9h0M248.8 82.9h0M248.0 83.5h0M248.9 83.0h0M252.1 77.0h0M253.4 75.0h0M250.4 76.2h0M252.2 75.3h0M251.2 75.6h0M253.0 76.5h0M253.1 76.6h0M249.2 78.3h0M249.0 79.1h0M248.1 78.2h0M249.1 78.5h0M249.2 78.0h0M249.0 78.5h0M250.2 77.6h0M264.5 57.6h0M264.8 57.9h0M264.7 57.7h0M265.0 57.6h0M264.9 57.6h0M265.3 57.7h0M264.0 58.5h0M264.1 60.9h0M265.2 61.5h0M265.5 61.6h0M263.8 61.2h0M264.0 61.1h0M264.9 61.4h0M264.4 60.2h0M256.2 67.6h0M256.0 68.0h0M256.4 68.0h0M256.2 68.0h0M256.8 68.3h0M256.4 68.4h0M256.5 68.2h0M264.1 59.6h0M262.6 58.3h0M263.9 58.4h0M262.7 59.1h0M261.6 60.0h0M263.3 59.5h0M263.3 56.5h0M256.4 64.0h0M257.4 63.1h0M256.6 63.9h0M257.0 64.2h0M257.1 63.3h0M256.6 63.6h0M256.8 63.7h0M264.5 55.9h0M264.7 56.4h0M265.1 56.6h0M264.6 55.6h0M265.3 56.2h0M265.0 56.2h0M265.2 56.2h0M253.6 70.9h0M254.3 70.7h0M252.9 69.4h0M252.6 69.4h0M253.6 68.7h0M253.5 68.8h0M253.5 70.8h0M253.1 79.6h0M252.0 80.3h0M251.6 79.3h0M251.7 79.2h0M253.6 80.0h0M252.1 80.2h0M252.1 80.5h0M252.6 72.8h0M252.3 72.5h0M252.0 72.4h0M252.3 72.0h0M252.8 71.8h0M252.7 71.4h0M252.5 71.6h0M259.1 64.4h0M257.7 63.4h0M258.6 64.6h0M259.2 64.1h0M258.5 64.8h0M258.3 63.7h0M258.4 63.6h0M232.3 94.2h0M231.9 94.9h0M233.3 95.3h0M231.8 94.4h0M232.0 93.8h0M232.4 95.1h0M232.4 93.6h0M252.4 74.4h0M252.4 73.7h0M252.3 74.4h0M252.1 73.6h0M253.0 73.6h0M253.1 74.3h0M252.4 75.2h0M241.7 87.0h0M241.7 87.0h0M242.5 86.4h0M242.7 86.2h0M242.1 86.3h0M242.2 86.8h0M242.1 87.0h0M238.6 90.1h0M237.0 90.3h0M237.2 89.8h0M238.3 89.9h0M238.7 90.0h0M239.1 89.8h0M238.6 90.4h0M258.9 61.9h0M259.3 60.8h0M259.0 60.7h0M258.6 60.4h0M258.5 62.3h0M258.3 60.8h0M259.2 61.2h0M262.3 64.0h0M261.4 63.8h0M262.4 65.0h0M262.6 63.6h0M262.7 64.8h0M261.7 64.8h0M263.0 63.3h0M262.1 65.2h0M261.0 64.8h0M260.7 65.1h0M261.8 65.2h0M262.2 65.0h0M260.2 65.2h0M260.0 65.9h0M258.0 69.3h0M258.4 69.7h0M257.6 69.4h0M258.6 70.2h0M257.7 69.4h0M257.6 68.7h0M257.7 69.4h0M233.2 93.4h0M234.1 94.0h0M233.9 93.1h0M234.2 94.1h0M233.9 93.3h0M234.0 93.3h0M234.4 93.6h0M239.3 91.8h0M238.4 90.0h0M239.1 92.0h0M238.4 90.4h0M239.7 92.0h0M238.5 92.1h0M238.4 91.1h0M245.8 82.9h0M245.0 83.7h0M246.0 82.9h0M245.2 83.4h0M244.5 83.5h0M245.1 83.2h0M245.9 83.7h0M258.0 69.2h0M258.4 68.9h0M257.9 69.0h0M257.8 69.6h0M258.6 70.3h0M258.7 68.8h0M258.5 69.7h0M262.1 56.5h0M262.3 57.0h0M263.2 57.7h0M260.8 56.7h0M260.6 55.6h0M263.9 58.2h0M261.3 57.3h0M240.9 91.8h0M240.6 90.7h0M240.8 91.3h0M240.5 91.4h0M240.1 90.3h0M239.4 90.8h0M239.2 91.5h0M259.3 58.3h0M260.6 59.5h0M261.0 59.1h0M259.1 58.8h0M260.3 58.1h0M258.7 58.7h0M261.7 58.6h0M254.2 73.7h0M255.0 72.8h0M255.1 72.9h0M255.1 73.8h0M254.2 72.1h0M253.5 73.8h0M253.9 74.8h0M252.4 78.3h0M252.1 78.4h0M252.8 77.8h0M252.0 78.1h0M253.2 78.5h0M252.9 78.7h0M253.3 78.2h0M259.0 62.6h0M256.9 63.0h0M257.7 63.2h0M257.6 64.0h0M258.4 63.5h0M258.2 62.1h0M257.3 63.0h0M254.5 65.8h0M254.8 65.8h0M254.6 65.0h0M255.2 66.0h0M255.1 66.5h0M254.6 65.5h0M255.0 66.5h0M257.5 61.4h0M257.2 62.2h0M258.2 62.5h0M257.9 62.3h0M257.6 61.9h0M257.4 62.0h0M257.8 61.9h0M254.3 74.1h0M254.5 73.7h0M254.7 74.1h0M254.6 73.7h0M255.5 74.7h0M254.6 73.8h0M254.5 74.2h0M263.1 61.6h0M262.6 62.0h0M262.5 61.3h0M262.6 62.0h0M262.7 61.0h0M262.9 62.5h0M262.8 62.7h0M244.3 82.9h0M244.2 82.4h0M245.1 82.8h0M244.4 83.2h0M245.2 83.1h0M245.9 83.6h0M244.7 83.8h0M253.1 73.3h0M253.8 76.6h0M254.9 74.1h0M254.2 73.8h0M254.8 74.5h0M252.8 73.6h0M253.4 72.9h0M257.7 72.6h0M257.1 71.5h0M256.0 71.9h0M257.2 71.6h0M256.8 70.6h0M256.5 70.6h0M256.7 72.2h0M229.5 96.6h0M230.1 96.3h0M229.5 96.4h0M231.2 98.4h0M230.5 97.1h0M229.7 96.6h0M229.6 96.9h0M254.2 75.3h0M255.5 75.8h0M254.2 75.4h0M254.9 75.2h0M254.2 75.2h0M254.8 75.6h0M255.2 74.6h0M236.8 91.0h0M238.0 92.0h0M237.2 92.5h0M237.5 92.7h0M238.1 92.6h0M236.9 91.3h0M238.5 91.2h0M257.9 68.6h0M258.3 69.3h0M257.2 69.4h0M258.5 67.1h0M257.7 69.2h0M257.9 68.6h0M258.3 69.5h0M251.3 75.2h0M251.2 74.4h0M249.3 74.4h0M251.9 75.8h0M251.8 73.7h0M252.5 73.6h0M251.3 74.8h0M239.8 87.1h0M240.6 86.9h0M239.2 87.7h0M242.2 87.3h0M240.8 86.6h0M240.6 86.6h0M240.5 86.8h0M240.7 91.4h0M241.2 89.2h0M240.6 88.5h0M240.8 88.3h0M242.0 89.6h0M242.4 87.4h0M239.9 91.4h0M253.4 75.9h0M253.5 74.6h0M253.0 74.8h0M253.4 75.4h0M253.5 75.0h0M254.0 75.5h0M253.3 75.8h0M263.1 61.3h0M262.8 62.2h0M262.4 60.8h0M261.6 62.4h0M262.1 61.5h0M261.9 61.3h0M262.4 62.5h0M250.4 76.7h0M250.3 75.8h0M251.3 76.6h0M250.7 76.6h0M250.3 78.1h0M250.4 76.0h0M250.8 76.0h0M247.3 80.3h0M247.5 79.6h0M246.1 80.6h0M248.0 80.1h0M247.9 79.7h0M248.0 80.2h0M246.9 80.9h0M263.4 60.4h0M263.2 60.7h0M263.6 59.4h0M261.6 60.0h0M263.6 60.1h0M263.3 59.1h0M264.1 59.7h0M242.1 87.9h0M242.3 88.8h0M242.3 88.4h0M241.0 88.3h0M242.4 87.2h0M242.0 88.3h0M242.3 89.1h0M258.3 67.6h0M258.1 66.7h0M259.4 67.8h0M258.9 66.4h0M258.8 66.7h0M258.8 67.1h0M258.9 66.8h0M255.2 73.6h0M256.5 73.1h0M257.0 73.5h0M255.2 73.3h0M256.4 72.8h0M256.6 73.4h0M256.1 72.8h0M240.4 91.2h0M240.4 90.8h0M241.3 91.3h0M241.3 90.9h0M241.2 90.9h0M242.1 90.8h0M241.5 91.7h0M232.4 93.7h0M232.1 93.9h0M232.9 94.2h0M233.3 93.6h0M232.6 93.8h0M232.7 94.4h0M233.7 93.9h0M246.3 85.3h0M246.5 83.9h0M246.8 83.2h0M245.5 83.5h0M246.1 83.2h0M247.0 84.9h0M247.1 83.5h0M255.7 65.6h0M254.4 66.9h0M255.8 67.4h0M256.9 67.0h0M256.4 67.9h0M255.4 67.3h0M253.8 66.5h0M241.0 83.2h0M242.0 86.2h0M242.0 85.1h0M243.7 85.4h0M242.0 83.8h0M241.5 84.6h0M240.7 85.2h0M247.9 77.5h0M249.6 77.4h0M249.8 77.1h0M248.3 78.4h0M249.0 77.6h0M247.8 78.3h0M249.5 77.2h0M257.5 69.3h0M256.2 67.2h0M256.1 69.1h0M256.4 69.6h0M257.9 68.6h0M255.8 70.0h0M257.4 70.2h0M258.8 66.5h0M258.2 66.6h0M258.2 66.7h0M258.5 66.4h0M258.5 65.8h0M258.4 66.5h0M258.2 66.7h0M262.8 64.1h0M261.8 63.7h0M263.0 63.8h0M261.9 63.4h0M261.0 62.4h0M260.7 62.3h0M264.1 63.9h0M263.4 62.6h0M263.1 61.6h0M263.4 62.1h0M263.5 62.6h0M262.9 61.7h0M263.4 61.6h0M263.5 62.4h0M263.5 59.9h0M262.1 58.9h0M263.1 59.9h0M262.0 61.4h0M261.3 60.7h0M264.2 59.5h0M263.2 61.2h0M249.8 80.2h0M251.0 78.3h0M250.1 80.1h0M250.9 80.4h0M250.5 79.3h0M251.6 78.9h0M250.6 78.8h0M236.3 91.1h0M236.4 92.4h0M236.5 91.5h0M236.0 91.2h0M237.6 91.0h0M237.5 92.6h0M237.7 92.0h0M242.6 89.6h0M242.1 89.6h0M242.3 89.2h0M241.7 89.3h0M243.1 88.6h0M241.4 89.6h0M241.9 89.5h0M253.7 71.7h0M255.4 71.5h0M254.8 71.3h0M255.8 72.5h0M255.3 70.6h0M254.0 71.6h0M255.7 72.0h0M232.5 91.4h0M231.8 92.1h0M232.7 92.3h0M232.5 91.8h0M232.2 91.5h0M232.7 92.4h0M232.1 91.9h0M262.7 57.7h0M262.8 58.6h0M262.8 57.4h0M263.2 57.4h0M264.1 56.9h0M262.7 56.3h0M261.9 58.2h0M256.0 64.6h0M256.4 64.3h0M256.3 65.1h0M255.6 65.0h0M256.2 64.4h0M256.7 64.5h0M257.0 66.0h0M251.2 82.6h0M250.8 82.9h0M251.4 81.3h0M250.1 83.4h0M250.6 81.3h0M250.5 80.9h0M251.6 83.7h0M261.4 59.8h0M260.2 61.1h0M263.1 59.4h0M261.4 60.4h0M260.2 60.9h0M260.9 58.7h0M262.1 60.9h0M245.7 84.3h0M245.3 83.7h0M245.9 85.2h0M246.7 84.1h0M246.0 83.2h0M246.7 84.4h0M246.3 83.6h0M252.0 77.7h0M251.9 76.9h0M252.2 77.6h0M253.1 76.9h0M251.7 77.2h0M252.8 77.2h0M252.5 77.6h0M264.1 62.2h0M263.8 61.0h0M264.5 61.7h0M262.7 62.1h0M263.3 62.3h0M263.3 61.7h0M263.5 61.6h0M248.2 76.9h0M247.9 78.3h0M249.3 78.6h0M249.5 78.0h0M249.2 79.4h0M248.0 78.7h0M248.6 79.2h0M250.2 83.1h0M248.8 83.3h0M248.7 82.4h0M248.2 83.3h0M248.7 83.3h0M249.4 83.3h0M248.3 82.9h0M252.1 76.1h0M252.8 75.1h0M252.0 75.5h0M253.0 75.5h0M252.8 75.3h0M252.4 75.7h0M252.2 75.4h0M240.8 89.9h0M240.6 89.2h0M238.6 89.3h0M241.8 91.3h0M239.7 91.0h0M240.0 90.5h0M240.6 90.7h0M254.5 67.4h0M254.1 67.3h0M254.5 67.8h0M254.3 67.1h0M254.9 67.4h0M254.7 67.4h0M254.7 67.7h0M250.9 79.9h0M250.1 80.4h0M250.5 81.0h0M252.6 81.1h0M250.8 79.8h0M249.4 77.8h0M250.9 78.9h0M259.9 64.1h0M258.5 65.6h0M258.9 65.3h0M260.3 65.0h0M259.1 64.9h0M259.6 64.7h0M259.1 64.7h0M261.4 56.7h0M260.6 56.5h0M260.7 57.2h0M262.9 57.1h0M262.0 57.2h0M264.3 55.6h0M261.9 55.6h0M263.5 57.5h0M263.3 58.2h0M262.4 58.9h0M263.8 58.3h0M262.9 58.7h0M265.1 59.4h0M263.9 58.2h0M240.8 89.5h0M239.9 89.7h0M238.8 89.5h0M239.8 89.0h0M238.3 89.0h0M239.6 88.3h0M239.3 87.8h0M253.6 68.6h0M253.3 69.4h0M253.7 68.5h0M253.2 68.8h0M253.2 69.9h0M254.0 69.7h0M253.5 69.5h0M249.0 82.3h0M249.8 82.9h0M250.2 83.0h0M249.6 82.6h0M249.9 82.1h0M249.2 82.4h0M249.6 82.7h0M239.5 89.7h0M239.0 88.1h0M239.6 90.0h0M239.9 89.2h0M239.7 89.4h0M239.3 88.8h0M239.9 88.5h0M274.1 47.7h0M274.9 48.6h0M272.9 49.4h0M274.1 48.9h0M273.2 49.9h0M273.3 46.6h0M273.5 49.6h0M270.0 54.3h0M270.3 53.9h0M270.3 53.9h0M270.3 53.4h0M270.0 53.5h0M271.2 53.4h0M269.9 53.5h0M275.9 48.7h0M273.1 49.7h0M274.9 50.3h0M273.3 49.1h0M275.6 50.0h0M275.6 47.9h0M274.7 48.3h0M268.7 50.0h0M268.3 49.7h0M269.0 49.7h0M267.5 50.4h0M267.2 50.5h0M268.3 50.5h0M267.8 50.0h0M274.0 49.4h0M273.1 48.7h0M273.8 48.0h0M273.6 48.5h0M273.7 49.4h0M273.4 49.1h0M273.4 49.1h0M271.0 50.4h0M270.6 50.6h0M270.7 49.6h0M269.8 48.8h0M270.7 50.1h0M270.7 50.2h0M270.0 50.0h0M268.1 51.9h0M267.8 52.5h0M267.6 51.6h0M267.8 52.6h0M268.7 52.4h0M268.1 52.4h0M267.7 52.6h0M283.9 43.9h0M281.8 44.7h0M282.3 43.0h0M282.1 42.6h0M282.7 44.6h0M283.4 43.1h0M281.1 45.4h0M286.4 51.8h0M286.9 51.4h0M286.5 50.4h0M286.4 50.7h0M286.0 51.5h0M285.4 50.1h0M285.4 51.8h0M288.6 48.7h0M288.2 50.5h0M289.2 48.7h0M289.1 48.4h0M288.2 48.7h0M289.0 48.2h0M289.4 49.3h0M298.8 40.7h0M298.2 41.2h0M298.5 41.1h0M298.3 41.8h0M297.6 40.6h0M297.7 40.3h0M298.6 41.4h0M308.9 35.1h0M309.9 34.3h0M308.8 34.2h0M309.0 35.1h0M307.9 36.2h0M308.9 34.0h0M307.5 34.1h0M296.4 43.8h0M295.6 44.0h0M295.2 42.8h0M296.0 43.7h0M295.5 43.6h0M295.9 44.3h0M295.2 43.4h0M303.0 40.3h0M304.4 40.4h0M304.1 39.1h0M304.1 39.8h0M303.3 39.0h0M303.8 39.6h0M303.4 39.2h0M313.1 29.0h0M313.6 29.7h0M313.6 28.1h0M314.1 29.2h0M312.6 29.6h0M313.6 28.1h0M313.9 28.9h0M296.3 46.5h0M296.5 46.1h0M295.8 45.4h0M296.8 47.0h0M296.3 45.3h0M297.0 45.2h0M297.2 46.1h0M300.7 42.0h0M301.6 43.6h0M301.1 43.0h0M300.6 43.6h0M300.7 42.4h0M300.8 43.4h0M301.0 43.0h0M295.9 45.1h0M295.9 45.9h0M297.3 45.3h0M296.4 46.1h0M296.9 45.8h0M295.7 47.0h0M297.2 46.6h0M302.1 42.2h0M302.9 41.1h0M301.0 39.5h0M303.4 39.5h0M302.6 41.8h0M302.0 39.9h0M302.2 42.3h0M302.3 39.7h0M302.1 40.1h0M301.8 39.9h0M301.3 39.8h0M302.0 39.1h0M301.7 41.5h0M302.1 39.9h0M294.3 45.7h0M293.6 45.3h0M293.3 44.0h0M293.6 46.3h0M292.5 44.6h0M294.2 44.6h0M294.2 44.0h0M298.3 42.6h0M298.7 43.6h0M297.9 44.6h0M298.0 44.5h0M296.7 43.1h0M298.0 42.3h0M299.4 43.6h0M312.2 26.7h0M312.5 27.8h0M312.0 26.8h0M312.4 27.8h0M312.3 27.1h0M311.5 26.8h0M312.0 27.0h0M313.4 29.8h0M312.5 29.4h0M313.3 29.5h0M313.8 28.6h0M313.4 28.6h0M313.3 29.6h0M312.7 29.0h0M286.2 43.2h0M287.3 42.9h0M287.8 43.7h0M285.4 42.5h0M287.2 44.2h0M287.2 42.4h0M285.5 44.9h0M298.4 41.7h0M297.9 40.8h0M297.5 41.8h0M298.0 41.8h0M297.7 41.5h0M298.1 41.6h0M297.8 41.5h0M286.8 44.0h0M286.9 44.1h0M285.6 43.9h0M287.0 44.4h0M287.7 42.4h0M285.9 44.7h0M286.5 44.7h0M282.5 51.8h0M280.3 53.9h0M281.2 53.1h0M281.5 52.1h0M281.4 53.1h0M281.2 53.0h0M280.5 52.4h0M280.2 52.6h0M281.3 52.6h0M280.2 52.5h0M281.8 51.9h0M281.7 53.2h0M281.1 52.7h0M280.3 53.2h0M280.9 49.3h0M279.5 50.6h0M281.6 50.7h0M281.0 50.7h0M281.6 50.1h0M280.9 50.2h0M282.1 50.8h0M279.6 50.8h0M278.7 50.8h0M279.2 50.0h0M278.8 50.8h0M278.2 50.7h0M278.5 50.6h0M278.2 50.7h0M278.1 46.9h0M278.0 46.2h0M278.4 47.6h0M278.6 48.7h0M277.8 47.4h0M277.0 47.3h0M278.8 48.2h0M291.4 42.2h0M291.1 42.3h0M291.4 42.6h0M291.4 42.4h0M291.1 42.1h0M291.3 42.4h0M291.1 42.9h0M299.0 40.8h0M299.2 39.9h0M297.8 40.7h0M298.2 41.8h0M298.0 40.5h0M298.9 41.6h0M298.0 40.7h0M304.7 37.9h0M307.4 37.6h0M305.6 37.7h0M306.4 37.5h0M305.7 38.0h0M306.2 37.8h0M305.2 36.9h0M300.3 42.3h0M302.7 44.2h0M301.9 43.9h0M301.3 45.1h0M300.8 44.2h0M301.3 44.7h0M302.2 45.0h0M285.3 41.4h0M285.6 40.8h0M285.1 42.6h0M283.5 41.0h0M286.3 41.1h0M283.4 41.9h0M284.0 42.1h0M276.0 45.9h0M276.1 45.8h0M276.7 46.1h0M276.8 45.5h0M277.1 46.0h0M276.4 46.3h0M276.6 46.1h0M295.8 46.1h0M295.7 47.0h0M296.2 45.6h0M295.3 46.5h0M296.7 46.4h0M295.5 46.5h0M295.2 45.8h0M302.2 43.6h0M302.4 41.6h0M302.3 41.9h0M302.7 42.3h0M301.6 42.8h0M302.0 43.5h0M303.6 41.9h0M289.9 43.4h0M289.7 45.6h0M290.7 45.5h0M291.6 47.4h0M289.4 45.8h0M290.3 45.4h0M289.8 43.7h0M283.1 47.8h0M283.2 48.6h0M281.8 48.7h0M282.1 47.3h0M282.4 47.3h0M283.4 49.4h0M283.2 46.3h0M282.8 50.0h0M283.0 50.9h0M280.5 51.2h0M283.7 51.5h0M282.4 50.5h0M281.6 50.7h0M282.1 51.2h0M312.7 31.2h0M312.9 30.5h0M310.0 29.6h0M311.2 30.3h0M311.6 30.3h0M312.6 30.6h0M311.3 30.7h0M286.5 44.3h0M286.0 45.7h0M285.0 44.6h0M285.0 44.2h0M285.5 45.5h0M285.2 44.0h0M286.5 44.4h0M310.2 33.3h0M310.4 32.6h0M310.4 32.7h0M310.8 32.9h0M310.1 32.8h0M310.9 33.2h0M310.3 33.0h0M278.0 43.5h0M279.5 44.8h0M278.0 44.0h0M278.8 44.7h0M278.9 45.8h0M278.3 42.1h0M279.5 44.9h0M295.5 44.7h0M294.9 44.6h0M295.1 44.5h0M295.0 45.1h0M295.1 45.3h0M295.6 46.0h0M295.0 44.6h0M286.2 42.5h0M285.7 43.4h0M284.8 44.9h0M286.1 44.7h0M286.5 43.5h0M285.6 42.7h0M286.7 41.0h0M279.9 42.2h0M280.5 43.2h0M279.0 44.8h0M280.1 42.0h0M280.3 43.5h0M281.3 43.5h0M278.7 42.0h0M303.0 41.8h0M302.2 42.0h0M302.4 42.4h0M301.6 42.4h0M302.5 42.0h0M301.5 41.2h0M302.5 41.2h0M292.4 45.6h0M292.6 45.3h0M291.2 45.1h0M291.5 46.2h0M290.8 45.3h0M292.7 44.9h0M292.6 44.6h0M288.7 43.6h0M287.8 43.4h0M288.8 43.9h0M288.2 43.9h0M288.5 43.4h0M288.8 43.0h0M289.1 44.5h0M275.8 44.4h0M276.3 45.1h0M277.9 45.2h0M277.2 44.3h0M278.2 45.2h0M276.0 47.0h0M276.4 45.4h0M286.7 46.6h0M289.7 47.4h0M287.9 46.5h0M289.5 44.4h0M287.5 45.5h0M287.6 46.3h0M288.6 45.6h0M292.0 45.1h0M291.7 44.5h0M293.1 44.3h0M292.4 45.1h0M291.8 45.0h0M290.7 45.8h0M291.7 45.1h0M277.5 47.9h0M276.9 46.9h0M278.9 46.8h0M279.0 45.9h0M278.5 46.7h0M279.8 48.0h0M277.8 46.4h0M278.4 51.6h0M278.5 50.5h0M279.3 50.1h0M278.7 50.5h0M278.7 50.3h0M280.0 51.4h0M279.5 50.8h0M311.7 32.8h0M311.2 32.9h0M310.9 32.4h0M310.3 32.5h0M310.7 31.8h0M311.2 31.8h0M310.0 30.5h0M283.2 51.4h0M283.4 52.3h0M283.3 52.5h0M283.7 51.9h0M283.3 52.1h0M283.9 51.4h0M282.9 51.7h0M280.3 42.7h0M279.6 42.8h0M281.1 42.9h0M279.5 41.6h0M279.8 43.0h0M280.1 41.7h0M280.4 43.2h0M286.1 50.4h0M286.1 49.9h0M286.3 50.4h0M285.8 50.8h0M285.6 50.9h0M285.2 50.2h0M285.6 50.1h0M283.4 41.4h0M283.4 40.5h0M285.3 41.3h0M284.5 41.5h0M284.2 40.2h0M284.7 40.1h0M284.2 40.8h0M314.5 26.2h0M314.0 27.4h0M313.1 27.1h0M313.9 26.9h0M313.5 27.9h0M314.0 28.0h0M314.4 26.6h0M277.6 46.7h0M277.2 45.8h0M276.7 47.3h0M277.3 45.6h0M277.0 45.5h0M277.4 46.3h0M275.6 45.6h0M285.3 44.3h0M286.5 44.3h0M285.8 43.4h0M287.3 43.9h0M285.9 43.8h0M285.4 42.5h0M285.0 43.2h0M297.2 44.4h0M297.1 44.7h0M297.5 44.4h0M296.0 45.2h0M297.2 44.8h0M297.1 44.0h0M297.8 44.5h0M281.7 45.3h0M280.1 45.0h0M280.7 45.8h0M282.2 45.7h0M282.2 46.5h0M282.4 47.1h0M282.2 45.3h0M291.9 42.8h0M292.1 42.7h0M292.4 42.8h0M291.4 43.1h0M292.2 42.5h0M291.9 43.2h0M291.1 43.4h0M281.9 51.9h0M281.8 51.9h0M280.7 51.6h0M280.8 51.2h0M280.2 51.7h0M281.2 51.1h0M281.4 52.0h0M283.0 47.8h0M283.0 48.4h0M283.7 47.7h0M282.5 47.9h0M283.8 47.4h0M282.1 47.9h0M280.9 47.9h0M276.3 50.8h0M276.4 49.8h0M277.0 49.5h0M275.9 50.2h0M276.1 50.1h0M276.7 48.2h0M275.7 50.7h0M287.7 42.7h0M286.5 42.8h0M286.4 44.2h0M286.8 43.6h0M289.4 43.3h0M287.1 44.7h0M288.8 44.7h0M276.6 43.9h0M277.0 43.0h0M276.6 44.1h0M276.9 44.4h0M277.3 44.2h0M276.8 43.9h0M276.6 44.0h0M295.8 41.6h0M295.7 41.0h0M295.5 41.1h0M296.3 41.7h0M295.1 42.0h0M296.7 40.3h0M296.2 41.7h0M296.6 44.4h0M296.7 45.5h0M298.7 45.1h0M296.0 44.5h0M296.7 45.5h0M296.6 46.1h0M297.4 43.9h0M305.9 39.0h0M306.6 38.8h0M305.9 39.5h0M306.3 39.6h0M305.6 39.4h0M305.3 40.2h0M306.7 37.7h0M287.6 48.3h0M287.8 48.4h0M288.2 49.2h0M286.9 50.2h0M285.8 48.2h0M288.1 49.5h0M285.0 48.5h0M276.5 50.8h0M278.3 51.1h0M277.1 51.1h0M277.8 50.3h0M279.4 51.0h0M279.6 51.6h0M277.3 51.8h0M303.7 39.9h0M302.0 38.7h0M303.5 38.5h0M302.8 39.3h0M303.0 38.0h0M302.2 38.5h0M304.2 39.2h0M292.5 48.3h0M290.4 47.2h0M291.7 47.8h0M292.0 47.7h0M294.1 46.5h0M292.8 46.6h0M293.1 48.5h0M286.4 49.8h0M285.5 51.3h0M285.1 48.7h0M285.5 51.1h0M286.1 50.1h0M286.8 49.3h0M285.4 49.7h0M280.8 52.5h0M279.9 53.0h0M280.3 52.3h0M280.4 52.0h0M280.7 52.7h0M279.2 52.5h0M281.3 53.3h0M298.2 41.5h0M297.9 40.5h0M297.2 40.8h0M297.6 41.7h0M298.1 40.4h0M297.4 41.0h0M297.2 42.0h0M293.5 46.0h0M293.1 46.6h0M293.7 46.0h0M293.4 45.5h0M292.0 44.7h0M292.6 46.0h0M293.4 45.2h0M302.4 40.0h0M302.1 40.3h0M302.3 40.2h0M302.4 40.4h0M303.3 40.8h0M301.9 40.4h0M302.3 40.5h0M302.5 43.7h0M303.6 43.0h0M302.1 42.9h0M302.0 41.7h0M303.5 43.5h0M301.9 42.5h0M302.5 42.8h0M301.0 43.2h0M301.3 43.6h0M302.0 44.1h0M301.8 44.2h0M302.1 43.7h0M299.8 42.6h0M301.7 44.0h0M289.6 43.5h0M289.2 43.7h0M288.8 44.1h0M288.9 43.9h0M288.8 43.6h0M288.5 44.1h0M288.4 43.6h0M310.3 31.0h0M309.6 31.7h0M309.8 31.2h0M310.3 31.9h0M309.7 31.8h0M310.2 31.9h0M310.0 31.3h0M286.6 42.5h0M286.1 41.5h0M286.0 41.5h0M286.5 41.4h0M285.7 41.1h0M286.7 41.3h0M286.0 41.0h0M297.4 46.7h0M297.7 46.9h0M296.1 46.8h0M296.4 45.7h0M298.1 47.7h0M296.0 46.5h0M296.4 46.0h0M287.4 44.0h0M287.0 44.7h0M285.6 44.4h0M285.5 43.8h0M286.2 43.6h0M285.5 44.5h0M287.1 43.2h0M277.3 47.1h0M277.1 46.7h0M276.6 46.1h0M276.5 47.2h0M276.9 46.7h0M276.5 47.0h0M277.1 47.0h0M278.8 52.5h0M279.9 52.4h0M277.8 52.7h0M278.9 52.7h0M279.1 54.2h0M278.2 53.2h0M280.1 54.1h0M294.1 45.3h0M292.7 43.0h0M293.5 43.1h0M294.8 44.3h0M293.3 44.6h0M295.0 44.4h0M292.0 44.3h0M289.9 48.5h0M292.0 46.3h0M293.2 46.5h0M291.9 46.6h0M291.8 47.1h0M293.2 48.0h0M292.1 47.7h0M280.8 45.1h0M280.9 45.7h0M280.3 46.4h0M281.9 45.4h0M280.8 45.5h0M280.8 45.2h0M281.4 46.3h0M280.5 50.2h0M279.9 50.1h0M281.3 49.5h0M281.5 49.7h0M281.3 50.2h0M280.5 49.0h0M281.6 50.2h0M286.5 48.5h0M287.0 48.7h0M287.0 47.8h0M287.0 49.0h0M286.4 47.8h0M286.0 48.1h0M287.1 48.2h0M299.6 41.9h0M301.7 43.2h0M300.9 42.6h0M300.0 42.8h0M299.7 41.4h0M300.6 41.2h0M300.2 42.1h0M296.7 45.6h0M296.8 45.7h0M296.4 46.6h0M296.5 45.7h0M297.4 45.2h0M297.3 46.1h0M296.0 45.0h0M306.1 38.7h0M306.2 38.5h0M305.7 38.8h0M305.3 39.1h0M305.4 39.3h0M305.5 38.9h0M306.7 39.1h0M303.5 41.2h0M303.9 42.3h0M302.2 42.2h0M302.2 43.2h0M302.8 41.9h0M302.4 42.4h0M302.7 41.4h0M280.9 53.8h0M281.8 52.7h0M280.6 53.0h0M280.7 53.5h0M279.7 53.5h0M281.9 53.4h0M280.4 52.7h0M287.0 48.8h0M287.6 47.9h0M287.2 49.2h0M285.9 49.2h0M287.1 48.7h0M286.5 47.6h0M286.5 48.3h0M282.1 44.2h0M282.5 44.0h0M282.3 43.8h0M282.3 44.2h0M281.7 45.2h0M282.1 44.8h0M281.9 45.2h0M310.0 36.2h0M309.4 35.1h0M310.6 35.4h0M310.0 33.8h0M309.8 34.8h0M310.6 35.1h0M310.3 35.8h0M287.1 42.8h0M286.3 44.4h0M285.6 41.3h0M287.0 42.5h0M287.1 42.6h0M286.2 43.7h0M286.2 42.8h0M291.5 44.5h0M291.1 44.2h0M290.6 44.8h0M290.8 44.2h0M290.5 42.6h0M290.3 45.0h0M291.0 44.2h0M292.8 46.9h0M292.2 46.8h0M291.9 46.2h0M293.0 46.7h0M293.2 47.3h0M292.1 46.9h0M291.8 46.7h0M289.9 41.9h0M290.4 41.2h0M289.2 42.0h0M290.9 42.5h0M289.7 41.7h0M290.1 41.7h0M289.1 42.3h0M280.0 50.5h0M282.0 51.3h0M281.9 52.4h0M281.0 51.7h0M282.3 51.0h0M281.9 50.9h0M279.5 53.0h0M306.5 37.8h0M306.4 36.4h0M306.0 36.9h0M305.9 37.3h0M306.0 35.9h0M307.2 35.3h0M306.4 37.5h0M291.4 47.2h0M291.6 46.6h0M290.6 47.1h0M291.3 47.0h0M291.4 46.8h0M291.5 46.6h0M290.3 47.1h0M281.7 50.9h0M281.8 51.0h0M281.3 50.6h0M282.4 51.0h0M282.1 51.5h0M282.0 50.7h0M281.9 50.8h0M294.5 47.3h0M293.2 47.6h0M295.0 45.0h0M294.2 47.5h0M294.7 46.1h0M294.6 47.0h0M294.9 46.4h0M278.8 46.3h0M278.9 45.7h0M279.0 46.1h0M279.2 45.8h0M279.3 46.1h0M278.7 46.1h0M279.5 46.5h0M299.5 42.4h0M299.4 42.1h0M298.9 42.5h0M298.5 42.3h0M301.2 42.2h0M297.9 41.4h0M299.5 42.5h0M276.8 45.3h0M277.3 43.6h0M279.2 44.2h0M276.6 43.7h0M277.7 44.9h0M276.8 44.1h0M276.0 44.5h0M282.1 43.3h0M281.3 43.8h0M282.3 42.3h0M281.6 43.2h0M281.7 43.3h0M281.7 43.2h0M281.9 43.7h0M278.7 52.3h0M279.0 52.1h0M277.6 51.6h0M279.9 51.5h0M279.7 51.1h0M277.5 51.7h0M279.0 51.9h0M278.3 50.9h0M277.8 50.7h0M276.7 52.4h0M276.6 51.3h0M278.2 50.3h0M276.8 52.1h0M277.1 51.6h0M281.1 41.8h0M281.7 43.1h0M279.7 41.0h0M279.9 43.2h0M280.3 44.0h0M281.2 43.4h0M280.1 42.5h0M284.6 46.6h0M285.4 45.7h0M284.4 46.5h0M284.7 47.1h0M284.4 47.1h0M285.1 46.5h0M284.1 46.2h0M296.2 46.0h0M296.0 44.1h0M296.2 45.1h0M294.5 45.0h0M297.0 45.4h0M295.8 44.3h0M296.1 44.8h0M282.4 44.1h0M282.0 44.6h0M282.5 44.2h0M282.6 44.0h0M282.3 44.1h0M283.0 44.7h0M282.4 43.4h0M278.1 42.7h0M278.1 43.9h0M278.4 44.1h0M278.9 43.9h0M279.1 43.9h0M277.7 44.5h0M277.9 43.8h0M283.3 48.3h0M283.2 47.8h0M281.7 47.3h0M284.4 46.7h0M284.6 46.5h0M283.1 47.6h0M284.0 46.3h0M305.5 40.6h0M305.5 40.1h0M306.0 39.4h0M305.8 39.4h0M305.6 40.5h0M305.7 40.3h0M305.7 39.4h0M291.8 45.1h0M295.3 43.6h0M293.4 46.2h0M292.7 45.1h0M294.1 45.7h0M293.0 45.3h0M294.3 45.4h0M277.6 44.4h0M278.0 44.2h0M278.7 44.7h0M278.6 44.5h0M278.4 45.0h0M277.9 44.5h0M278.5 44.9h0M277.4 48.1h0M276.9 48.2h0M277.2 48.1h0M277.2 48.1h0M277.0 48.4h0M278.5 48.4h0M277.6 48.4h0M284.2 45.2h0M285.1 44.1h0M283.9 44.3h0M283.2 45.3h0M284.2 44.9h0M284.2 46.3h0M283.2 44.8h0M293.0 46.2h0M293.3 46.3h0M292.8 46.7h0M292.3 47.6h0M293.0 46.8h0M292.8 46.7h0M292.9 47.0h0M309.3 30.1h0M310.4 31.8h0M310.2 30.9h0M309.9 32.1h0M309.8 31.1h0M309.7 32.0h0M310.9 32.4h0M281.8 48.5h0M282.5 48.3h0M282.1 49.1h0M282.0 49.5h0M281.6 48.2h0M282.1 48.9h0M280.2 48.8h0M307.0 36.4h0M306.2 37.4h0M306.8 37.0h0M306.4 36.6h0M306.3 35.6h0M306.8 36.4h0M306.1 36.2h0M281.6 50.0h0M282.1 50.1h0M281.8 50.3h0M281.8 49.8h0M281.8 49.8h0M281.4 48.9h0M282.0 49.6h0M281.2 50.0h0M281.6 49.3h0M281.5 50.2h0M281.2 51.6h0M282.6 52.3h0M282.7 48.8h0M282.8 50.7h0M288.7 44.9h0M288.4 44.1h0M288.6 44.6h0M289.0 43.9h0M289.0 44.2h0M288.2 43.7h0M288.6 44.1h0M292.6 46.9h0M292.0 46.2h0M292.1 47.6h0M292.8 47.5h0M293.4 47.0h0M292.7 46.9h0M293.3 46.5h0M290.6 49.0h0M291.4 48.1h0M290.3 48.8h0M290.7 48.5h0M290.6 48.8h0M291.0 48.7h0M291.3 48.7h0M300.7 43.6h0M301.6 43.1h0M301.2 43.2h0M301.4 43.6h0M301.7 43.1h0M301.5 43.7h0M301.4 43.3h0M279.0 48.5h0M279.1 48.2h0M277.8 47.6h0M279.5 47.9h0M277.8 48.9h0M278.5 48.6h0M279.3 48.5h0M306.1 36.7h0M308.0 36.2h0M305.4 38.2h0M306.7 37.9h0M307.1 36.9h0M307.2 37.3h0M306.5 36.1h0M303.2 37.6h0M303.8 40.3h0M304.4 40.0h0M305.7 40.6h0M303.3 38.8h0M303.6 40.0h0M302.4 39.0h0M299.1 40.1h0M297.5 42.2h0M297.7 42.0h0M299.2 41.8h0M296.9 41.8h0M297.9 41.6h0M297.3 41.9h0M281.5 52.4h0M282.1 53.1h0M281.3 52.8h0M281.2 53.1h0M282.1 52.8h0M281.5 52.1h0M281.8 52.2h0M276.5 45.7h0M276.3 46.0h0M276.7 46.8h0M276.7 46.9h0M278.1 46.8h0M276.4 46.4h0M276.1 46.9h0M283.3 50.3h0M281.8 50.8h0M282.6 51.3h0M282.2 50.8h0M282.7 51.0h0M282.6 50.7h0M282.6 51.1h0M298.6 44.6h0M297.8 43.6h0M297.7 43.5h0M298.6 43.9h0M298.7 44.6h0M299.5 44.1h0M298.4 44.5h0M280.8 53.0h0M279.9 51.7h0M280.0 51.2h0M281.5 51.1h0M280.8 53.3h0M280.8 52.7h0M279.2 50.3h0M283.8 49.1h0M285.0 50.6h0M283.9 50.3h0M283.7 51.6h0M283.9 49.9h0M283.2 48.3h0M283.7 49.9h0M312.3 30.2h0M312.6 29.7h0M312.5 30.3h0M311.1 30.3h0M312.3 29.3h0M311.4 29.4h0M310.9 30.2h0M300.2 43.4h0M299.5 43.7h0M300.8 42.6h0M300.8 43.6h0M299.8 43.9h0M299.7 42.7h0M299.9 43.2h0M301.6 42.4h0M304.7 43.0h0M301.1 44.1h0M302.1 43.8h0M302.7 43.0h0M302.6 42.4h0M302.4 40.5h0M288.6 42.1h0M288.1 42.3h0M287.6 41.4h0M288.5 42.1h0M288.0 42.1h0M288.5 41.8h0M288.1 41.8h0M295.7 47.4h0M295.5 48.3h0M296.3 46.0h0M294.6 46.8h0M296.5 46.4h0M296.1 46.8h0M297.0 46.2h0M297.8 41.5h0M297.8 41.8h0M297.7 42.1h0M298.0 42.4h0M298.4 41.5h0M297.5 41.3h0M297.1 41.9h0M286.0 46.1h0M285.2 46.9h0M284.7 45.8h0M285.0 46.5h0M284.7 46.0h0M285.7 46.3h0M284.8 45.1h0M304.8 36.7h0M305.0 37.0h0M304.3 35.8h0M304.4 36.9h0M304.4 37.9h0M305.1 37.0h0M304.7 37.1h0M312.0 30.0h0M312.0 30.3h0M311.2 32.1h0M311.6 30.8h0M310.5 31.1h0M312.4 30.7h0M311.4 30.8h0M311.8 30.7h0M310.7 29.4h0M311.2 29.7h0M310.4 29.6h0M309.4 30.0h0M310.4 30.1h0M308.9 28.4h0M281.6 49.0h0M282.0 48.6h0M281.2 49.9h0M281.9 49.2h0M281.7 49.3h0M281.9 49.7h0M283.0 48.9h0M291.5 45.2h0M290.8 44.2h0M291.3 44.3h0M291.0 44.6h0M292.3 44.9h0M291.7 44.0h0M291.8 44.3h0M282.9 47.0h0M282.5 47.9h0M282.8 47.6h0M282.3 47.3h0M282.0 47.5h0M282.9 47.9h0M283.2 48.0h0M279.4 47.9h0M278.3 46.5h0M279.2 45.9h0M279.4 46.2h0M278.9 46.4h0M278.2 46.8h0M279.3 47.5h0M284.6 48.2h0M283.0 46.2h0M284.6 47.4h0M284.2 46.4h0M284.9 46.9h0M284.3 47.4h0M284.6 47.3h0M278.6 50.0h0M277.8 48.4h0M278.1 49.3h0M277.0 49.5h0M278.7 49.6h0M278.2 49.7h0M278.4 48.8h0M292.0 44.8h0M290.4 44.4h0M290.7 41.3h0M291.5 42.2h0M289.7 41.7h0M290.5 45.6h0M291.4 42.8h0M308.0 37.5h0M305.2 36.4h0M305.0 38.0h0M305.5 39.7h0M305.9 37.5h0M305.0 37.7h0M306.4 36.7h0M300.1 42.9h0M300.3 43.7h0M300.4 43.2h0M301.3 42.4h0M301.2 42.8h0M301.3 42.8h0M300.9 42.1h0M284.2 43.2h0M284.3 42.7h0M284.1 42.5h0M283.5 42.9h0M282.6 43.9h0M285.1 44.0h0M284.0 41.9h0M276.6 48.3h0M276.3 47.9h0M277.2 48.1h0M276.8 47.7h0M277.1 47.8h0M276.8 48.8h0M277.8 48.0h0M282.1 47.7h0M283.5 47.2h0M284.0 47.5h0M281.8 48.1h0M283.3 47.5h0M284.7 47.4h0M282.9 47.8h0M282.3 52.7h0M282.1 52.4h0M282.3 51.4h0M283.5 52.3h0M283.2 52.6h0M283.4 52.2h0M283.4 52.9h0M299.5 42.1h0M300.0 41.6h0M298.7 41.5h0M300.0 41.3h0M299.5 41.1h0M299.6 41.8h0M298.3 42.1h0M292.1 44.2h0M292.9 45.3h0M291.0 45.4h0M294.2 44.3h0M291.8 43.8h0M292.6 44.3h0M291.6 45.6h0M287.7 49.8h0M287.7 49.4h0M288.4 49.7h0M289.6 48.9h0M289.1 50.1h0M288.0 49.2h0M286.7 49.7h0M277.1 49.2h0M277.5 48.6h0M276.7 48.6h0M276.5 47.9h0M276.7 48.2h0M276.6 48.8h0M277.0 47.9h0" stroke="#a92127" stroke-width="1.15" stroke-linecap="round" fill="none"/>
</g>
<rect x="62.3" y="6.3" width="107.3" height="25.1" fill="#fff" stroke="#111" stroke-width="0.8"/>
<circle cx="64.9" cy="13.8" r="0.85" fill="#3030e8"/><circle cx="64.9" cy="24.4" r="0.85" fill="#e82020"/>
<text x="71.40" y="17.20" font-size="9.6" text-anchor="start" fill="#141414" textLength="96.6" lengthAdjust="spacingAndGlyphs" >Mizuno and Ide (2019)</text>
<text x="71.40" y="27.90" font-size="9.7" text-anchor="start" fill="#141414" >This study</text>
<rect x="222.3" y="157.5" width="78.6" height="1.7" fill="#e6e6e6" stroke="#999" stroke-width="0.3"/>
<rect x="222.3" y="157.5" width="19.7" height="1.7" fill="#111"/><rect x="261.6" y="157.5" width="19.7" height="1.7" fill="#111"/>
<path d="M222.3 157.5v3.2M261.6 157.5v3.2M300.9 157.5v3.2" stroke="#444" stroke-width="0.5"/>
<text x="261.70" y="154.80" font-size="9.5" text-anchor="middle" fill="#141414" >km</text>
<text x="222.30" y="170.60" font-size="12.6" text-anchor="middle" fill="#141414" >0</text>
<text x="261.60" y="170.60" font-size="12.6" text-anchor="middle" fill="#141414" >100</text>
<text x="300.90" y="170.60" font-size="12.6" text-anchor="middle" fill="#141414" >200</text>
<rect x="60.1" y="4.3" width="275.9" height="177.6" fill="none" stroke="#bbb" stroke-width="0.5"/>
<path d="M60.1 4.3H336.0V181.9H60.1ZM62.3 6.5V180.0H334.0V6.5Z" fill="#fbfbfb" fill-rule="evenodd" stroke="#8a8a8a" stroke-width="0.45"/>
<rect x="98.7" y="4.3" width="72.4" height="2.2" fill="#000"/>
<rect x="98.7" y="180.0" width="72.4" height="1.9" fill="#000"/>
<rect x="243.5" y="4.3" width="72.4" height="2.2" fill="#000"/>
<rect x="243.5" y="180.0" width="72.4" height="1.9" fill="#000"/>
<rect x="60.5" y="94.3" width="1.9" height="85.7" fill="#000"/>
<rect x="334.0" y="94.3" width="1.8" height="85.7" fill="#000"/>
<text x="98.70" y="193.80" font-size="12.8" text-anchor="middle" fill="#141414" >132°E</text>
<text x="171.10" y="193.80" font-size="12.8" text-anchor="middle" fill="#141414" >134°E</text>
<text x="243.50" y="193.80" font-size="12.8" text-anchor="middle" fill="#141414" >136°E</text>
<text x="315.90" y="193.80" font-size="12.8" text-anchor="middle" fill="#141414" >138°E</text>
<text x="57.90" y="10.90" font-size="13" text-anchor="end" fill="#141414" >36°N</text>
<text x="57.90" y="98.80" font-size="13" text-anchor="end" fill="#141414" >34°N</text>
<text x="57.90" y="185.10" font-size="13" text-anchor="end" fill="#141414" >32°N</text>
<text x="0.00" y="18.90" font-size="17" text-anchor="start" fill="#141414" >(a)</text>
<rect x="422.9" y="5.5" width="233.4" height="182.9" fill="#fff"/>
<path d="M422.90 5.5V188.4M446.01 5.5V188.4M469.12 5.5V188.4M492.23 5.5V188.4M515.34 5.5V188.4M538.45 5.5V188.4M561.56 5.5V188.4M584.67 5.5V188.4M607.78 5.5V188.4M630.89 5.5V188.4M654.00 5.5V188.4" stroke="#a6a6a6" stroke-width="0.9" fill="none"/>
<path d="M422.9 188.40H656.3M422.9 151.82H656.3M422.9 115.24H656.3M422.9 78.66H656.3M422.9 42.08H656.3M422.9 5.50H656.3" stroke="#c2c2c2" stroke-width="0.9" fill="none"/>
<path d="M422.9 188.4L422.90 102.44L424.06 102.44L424.06 11.90L426.37 11.90L426.37 33.78L428.68 33.78L428.68 72.44L430.99 72.44L430.99 108.07L433.30 108.07L433.30 128.92L435.61 128.92L435.61 146.74L437.92 146.74L437.92 158.33L440.23 158.33L440.23 166.09L442.54 166.09L442.54 171.10L444.85 171.10L444.85 174.61L447.17 174.61L447.17 177.90L449.48 177.90L449.48 179.62L451.79 179.62L451.79 180.90L454.10 180.90L454.10 182.18L456.41 182.18L456.41 183.17L458.72 183.17L458.72 184.19L461.03 184.19L461.03 184.92L463.34 184.92L463.34 185.47L465.65 185.47L465.65 185.91L467.96 185.91L467.96 186.16L470.28 186.16L470.28 186.39L472.59 186.39L472.59 186.59L474.90 186.59L474.90 186.77L477.21 186.77L477.21 186.93L479.52 186.93L479.52 187.08L481.83 187.08L481.83 187.21L484.14 187.21L484.14 187.33L486.45 187.33L486.45 187.44L488.76 187.44L488.76 187.53L491.07 187.53L491.07 187.62L493.39 187.62L493.39 187.70L495.70 187.70L495.70 187.77L498.01 187.77L498.01 187.83L500.32 187.83L500.32 187.89L502.63 187.89L502.63 187.94L504.94 187.94L504.94 187.99L507.25 187.99L507.25 188.03L509.56 188.03L509.56 188.06L511.87 188.06L511.87 188.10L514.18 188.10L514.18 188.13L516.50 188.13L516.50 188.16L518.81 188.16L518.81 188.18L521.12 188.18L521.12 188.18L523.43 188.18L523.43 188.18L525.74 188.18L525.74 188.18L528.05 188.18L528.05 188.18L530.36 188.18L530.36 188.18L532.67 188.18L532.67 188.18L534.98 188.18L534.98 188.18L537.29 188.18L537.29 188.18L539.61 188.18L539.61 188.18L541.92 188.18L541.92 188.18L544.23 188.18L544.23 188.18L546.54 188.18L546.54 188.18L548.85 188.18L548.85 188.18L551.16 188.18L551.16 188.18L553.47 188.18L553.47 188.18L555.78 188.18L555.78 188.18L558.09 188.18L558.09 188.18L560.40 188.18L560.40 188.29L562.72 188.29L562.72 188.29L565.03 188.29L565.03 188.29L567.34 188.29L567.34 188.29L569.65 188.29L569.65 188.29L571.96 188.29L571.96 188.29L574.27 188.29L574.27 188.29L576.58 188.29L576.58 188.29L578.89 188.29L578.89 188.29L581.20 188.29L581.20 188.29L583.51 188.29L583.51 188.29L585.83 188.29L585.83 188.29L588.14 188.29L588.14 188.29L590.45 188.29L590.45 188.29L592.76 188.29L592.76 188.29L595.07 188.29L595.07 188.29L597.38 188.29L597.38 188.29L599.69 188.29L599.69 188.29L602.00 188.29L602.00 188.29L604.31 188.29L604.31 188.29L606.62 188.29L606.62 188.29L608.94 188.29L608.94 188.29L611.25 188.29L611.25 188.29L613.56 188.29L613.56 188.29L615.87 188.29L615.87 188.29L618.18 188.29L618.18 188.29L620.49 188.29L620.49 188.29L622.80 188.29L622.80 188.29L625.11 188.29L625.11 188.29L627.42 188.29L627.42 188.29L629.73 188.29L629.73 188.29L632.05 188.29L632.05 188.29L634.36 188.29L634.36 188.29L636.67 188.29L636.67 188.29L638.98 188.29L638.98 188.29L641.29 188.29L641.29 188.29L643.60 188.29L643.60 188.29L645.91 188.29L645.91 188.29L648.22 188.29L648.22 188.29L650.53 188.29L650.53 188.29L652.84 188.29L652.84 188.4Z" fill="#1f77b4"/>
<rect x="652.84" y="185.20000000000002" width="2.31" height="3.2" fill="#1f77b4"/>
<path d="M422.90 188.4v2.6M446.01 188.4v2.6M469.12 188.4v2.6M492.23 188.4v2.6M515.34 188.4v2.6M538.45 188.4v2.6M561.56 188.4v2.6M584.67 188.4v2.6M607.78 188.4v2.6M630.89 188.4v2.6M654.00 188.4v2.6M422.9 188.40h-2.6M422.9 151.82h-2.6M422.9 115.24h-2.6M422.9 78.66h-2.6M422.9 42.08h-2.6M422.9 5.50h-2.6" stroke="#333" stroke-width="0.7" fill="none"/>
<path d="M427.52 188.4v1.4M432.14 188.4v1.4M436.77 188.4v1.4M441.39 188.4v1.4M450.63 188.4v1.4M455.25 188.4v1.4M459.88 188.4v1.4M464.50 188.4v1.4M473.74 188.4v1.4M478.36 188.4v1.4M482.99 188.4v1.4M487.61 188.4v1.4M496.85 188.4v1.4M501.47 188.4v1.4M506.10 188.4v1.4M510.72 188.4v1.4M519.96 188.4v1.4M524.58 188.4v1.4M529.21 188.4v1.4M533.83 188.4v1.4M543.07 188.4v1.4M547.69 188.4v1.4M552.32 188.4v1.4M556.94 188.4v1.4M566.18 188.4v1.4M570.80 188.4v1.4M575.43 188.4v1.4M580.05 188.4v1.4M589.29 188.4v1.4M593.91 188.4v1.4M598.54 188.4v1.4M603.16 188.4v1.4M612.40 188.4v1.4M617.02 188.4v1.4M621.65 188.4v1.4M626.27 188.4v1.4M635.51 188.4v1.4M640.13 188.4v1.4M644.76 188.4v1.4M649.38 188.4v1.4M422.9 181.08h-1.4M422.9 173.77h-1.4M422.9 166.45h-1.4M422.9 159.14h-1.4M422.9 144.50h-1.4M422.9 137.19h-1.4M422.9 129.87h-1.4M422.9 122.56h-1.4M422.9 107.92h-1.4M422.9 100.61h-1.4M422.9 93.29h-1.4M422.9 85.98h-1.4M422.9 71.34h-1.4M422.9 64.03h-1.4M422.9 56.71h-1.4M422.9 49.40h-1.4M422.9 34.76h-1.4M422.9 27.45h-1.4M422.9 20.13h-1.4M422.9 12.82h-1.4" stroke="#444" stroke-width="0.5" fill="none"/>
<path d="M422.90 5.5V188.4M446.01 5.5V188.4M469.12 5.5V188.4M492.23 5.5V188.4M515.34 5.5V188.4M538.45 5.5V188.4M561.56 5.5V188.4M584.67 5.5V188.4M607.78 5.5V188.4M630.89 5.5V188.4M654.00 5.5V188.4" stroke="#6a6a6a" stroke-width="0.9" fill="none" opacity="0.25"/>
<rect x="422.9" y="5.5" width="233.4" height="182.9" fill="none" stroke="#555" stroke-width="0.8"/>
<text x="418.90" y="192.70" font-size="12.3" text-anchor="end" fill="#141414" textLength="7.7" lengthAdjust="spacingAndGlyphs" >0</text>
<text x="418.90" y="156.12" font-size="12.3" text-anchor="end" fill="#141414" textLength="30.8" lengthAdjust="spacingAndGlyphs" >1000</text>
<text x="418.90" y="119.54" font-size="12.3" text-anchor="end" fill="#141414" textLength="30.8" lengthAdjust="spacingAndGlyphs" >2000</text>
<text x="418.90" y="82.96" font-size="12.3" text-anchor="end" fill="#141414" textLength="30.8" lengthAdjust="spacingAndGlyphs" >3000</text>
<text x="418.90" y="46.38" font-size="12.3" text-anchor="end" fill="#141414" textLength="30.8" lengthAdjust="spacingAndGlyphs" >4000</text>
<text x="418.90" y="9.80" font-size="12.3" text-anchor="end" fill="#141414" textLength="30.8" lengthAdjust="spacingAndGlyphs" >5000</text>
<text x="422.90" y="201.30" font-size="12.3" text-anchor="middle" fill="#141414" textLength="7.6" lengthAdjust="spacingAndGlyphs" >0</text>
<text x="446.01" y="201.30" font-size="12.3" text-anchor="middle" fill="#141414" textLength="15.2" lengthAdjust="spacingAndGlyphs" >10</text>
<text x="469.12" y="201.30" font-size="12.3" text-anchor="middle" fill="#141414" textLength="15.2" lengthAdjust="spacingAndGlyphs" >20</text>
<text x="492.23" y="201.30" font-size="12.3" text-anchor="middle" fill="#141414" textLength="15.2" lengthAdjust="spacingAndGlyphs" >30</text>
<text x="515.34" y="201.30" font-size="12.3" text-anchor="middle" fill="#141414" textLength="15.2" lengthAdjust="spacingAndGlyphs" >40</text>
<text x="538.45" y="201.30" font-size="12.3" text-anchor="middle" fill="#141414" textLength="15.2" lengthAdjust="spacingAndGlyphs" >50</text>
<text x="561.56" y="201.30" font-size="12.3" text-anchor="middle" fill="#141414" textLength="15.2" lengthAdjust="spacingAndGlyphs" >60</text>
<text x="584.67" y="201.30" font-size="12.3" text-anchor="middle" fill="#141414" textLength="15.2" lengthAdjust="spacingAndGlyphs" >70</text>
<text x="607.78" y="201.30" font-size="12.3" text-anchor="middle" fill="#141414" textLength="15.2" lengthAdjust="spacingAndGlyphs" >80</text>
<text x="630.89" y="201.30" font-size="12.3" text-anchor="middle" fill="#141414" textLength="15.2" lengthAdjust="spacingAndGlyphs" >90</text>
<text x="654.80" y="201.30" font-size="12.3" text-anchor="middle" fill="#141414" textLength="33.0" lengthAdjust="spacingAndGlyphs" >100~</text>
<text x="539.80" y="217.50" font-size="16" text-anchor="middle" fill="#141414" textLength="149.5" lengthAdjust="spacingAndGlyphs" stroke="#141414" stroke-width="0.12">Error distance [km]</text>
<text x="384.80" y="97.80" font-size="16" text-anchor="middle" fill="#141414" textLength="63.0" lengthAdjust="spacingAndGlyphs" transform="rotate(-90 384.80 97.80)" stroke="#141414" stroke-width="0.12">Number</text>
<text x="352.40" y="18.90" font-size="16.5" text-anchor="start" fill="#141414" textLength="20.3" lengthAdjust="spacingAndGlyphs" >(b)</text>
<rect x="74.9" y="244.3" width="257.9" height="188.9" fill="#fff"/>
<path d="M93.45 244.3V433.2M131.90 244.3V433.2M170.35 244.3V433.2M208.80 244.3V433.2M247.25 244.3V433.2M285.70 244.3V433.2M324.15 244.3V433.2M74.9 394.73H332.8M74.9 372.22H332.8M74.9 356.26H332.8M74.9 343.87H332.8M74.9 333.75H332.8M74.9 325.20H332.8M74.9 317.79H332.8M74.9 311.25H332.8M74.9 305.40H332.8M74.9 266.93H332.8M74.9 244.42H332.8" stroke="#cdcdcd" stroke-width="0.7" stroke-dasharray="0.8 0.8" fill="none"/>
<clipPath id="cc"><rect x="74.9" y="244.3" width="257.9" height="188.9"/></clipPath><g clip-path="url(#cc)">
<path d="M134.3 249.8v2.6M134.3 251.1H168.7M168.7 249.8v2.6M150.3 277.7v2.6M150.3 279.0H194.6M194.6 277.7v2.6M138.2 291.0v2.6M138.2 292.3H183.3M183.3 291.0v2.6M143.7 299.0v2.6M143.7 300.3H180.0M180.0 299.0v2.6M150.9 305.8v2.6M150.9 307.1H205.0M205.0 305.8v2.6M155.0 309.8v2.6M155.0 311.1H216.0M216.0 309.8v2.6M154.3 318.1v2.6M154.3 319.4H227.3M227.3 318.1v2.6M188.0 325.7v2.6M188.0 327.0H234.3M234.3 325.7v2.6M168.3 327.9v2.6M168.3 329.2H227.9M227.9 327.9v2.6M168.9 334.0v2.6M168.9 335.3H240.3M240.3 334.0v2.6M207.6 345.5v2.6M207.6 346.8H257.4M257.4 345.5v2.6M253.7 376.8v2.6M253.7 378.1H318.5M318.5 376.8v2.6M266.2 391.9v2.6M266.2 393.2H322.0M322.0 391.9v2.6M177.3 343.5v2.6M177.3 344.8H230.8M230.8 343.5v2.6M175.0 360.2v2.6M175.0 361.5H243.1M243.1 360.2v2.6M178.0 361.1v2.6M178.0 362.4H229.6M229.6 361.1v2.6M168.9 415.5v2.6M168.9 416.8H253.2M253.2 415.5v2.6M149.1 418.6v2.6M149.1 419.9H231.5M231.5 418.6v2.6M130.1 304.1v2.6M130.1 305.4H169.5M169.5 304.1v2.6M140.0 303.7v2.6M140.0 305.0H170.9M170.9 303.7v2.6M143.2 308.3v2.6M143.2 309.6H166.4M166.4 308.3v2.6M122.5 310.0v2.6M122.5 311.3H158.5M158.5 310.0v2.6M119.4 313.5v2.6M119.4 314.8H170.7M170.7 313.5v2.6M128.9 313.8v2.6M128.9 315.1H188.5M188.5 313.8v2.6M126.7 315.4v2.6M126.7 316.7H165.2M165.2 315.4v2.6M127.7 315.4v2.6M127.7 316.7H184.8M184.8 315.4v2.6M111.9 318.3v2.6M111.9 319.6H162.5M162.5 318.3v2.6M116.6 317.9v2.6M116.6 319.2H160.7M160.7 317.9v2.6M121.2 317.6v2.6M121.2 318.9H181.7M181.7 317.6v2.6M126.0 317.9v2.6M126.0 319.2H177.0M177.0 317.9v2.6M129.2 318.6v2.6M129.2 319.9H182.8M182.8 318.6v2.6M129.1 319.6v2.6M129.1 320.9H193.8M193.8 319.6v2.6M135.7 318.3v2.6M135.7 319.6H193.4M193.4 318.3v2.6M107.6 323.6v2.6M107.6 324.9H156.9M156.9 323.6v2.6M109.3 324.0v2.6M109.3 325.3H163.1M163.1 324.0v2.6M124.6 322.6v2.6M124.6 323.9H168.4M168.4 322.6v2.6M118.9 322.6v2.6M118.9 323.9H185.7M185.7 322.6v2.6M122.6 321.7v2.6M122.6 323.0H184.7M184.7 321.7v2.6M125.1 324.2v2.6M125.1 325.5H189.9M189.9 324.2v2.6M145.3 323.8v2.6M145.3 325.1H188.4M188.4 323.8v2.6M149.8 324.6v2.6M149.8 325.9H188.8M188.8 324.6v2.6M152.8 322.7v2.6M152.8 324.0H204.1M204.1 322.7v2.6M152.2 325.5v2.6M152.2 326.8H209.6M209.6 325.5v2.6M111.4 326.1v2.6M111.4 327.4H161.4M161.4 326.1v2.6M114.1 326.7v2.6M114.1 328.0H170.0M170.0 326.7v2.6M129.7 326.1v2.6M129.7 327.4H166.1M166.1 326.1v2.6M126.9 325.5v2.6M126.9 326.8H179.2M179.2 325.5v2.6M128.3 328.0v2.6M128.3 329.3H179.5M179.5 328.0v2.6M130.5 326.7v2.6M130.5 328.0H187.1M187.1 326.7v2.6M143.6 326.1v2.6M143.6 327.4H185.2M185.2 326.1v2.6M143.7 327.1v2.6M143.7 328.4H190.8M190.8 327.1v2.6M111.4 328.6v2.6M111.4 329.9H159.7M159.7 328.6v2.6M115.4 327.6v2.6M115.4 328.9H164.7M164.7 327.6v2.6M121.6 331.1v2.6M121.6 332.4H170.4M170.4 331.1v2.6M124.9 328.3v2.6M124.9 329.6H171.4M171.4 328.3v2.6M124.5 331.1v2.6M124.5 332.4H178.9M178.9 331.1v2.6M132.3 329.9v2.6M132.3 331.2H177.1M177.1 329.9v2.6M140.4 331.1v2.6M140.4 332.4H177.8M177.8 331.1v2.6M147.5 331.1v2.6M147.5 332.4H181.3M181.3 331.1v2.6M151.4 330.5v2.6M151.4 331.8H197.2M197.2 330.5v2.6M147.5 329.2v2.6M147.5 330.5H208.4M208.4 329.2v2.6M110.2 333.0v2.6M110.2 334.3H159.3M159.3 333.0v2.6M122.7 332.4v2.6M122.7 333.7H159.3M159.3 332.4v2.6M132.8 333.6v2.6M132.8 334.9H165.4M165.4 333.6v2.6M122.7 333.6v2.6M122.7 334.9H179.7M179.7 333.6v2.6M126.2 334.9v2.6M126.2 336.2H186.6M186.6 334.9v2.6M136.5 333.0v2.6M136.5 334.3H191.2M191.2 333.0v2.6M147.1 335.1v2.6M147.1 336.4H186.8M186.8 335.1v2.6M144.0 334.9v2.6M144.0 336.2H197.1M197.1 334.9v2.6M143.8 333.4v2.6M143.8 334.7H205.7M205.7 333.4v2.6M167.2 335.5v2.6M167.2 336.8H211.3M211.3 335.5v2.6M176.2 334.9v2.6M176.2 336.2H206.5M206.5 334.9v2.6M110.3 339.3v2.6M110.3 340.6H141.9M141.9 339.3v2.6M105.6 339.3v2.6M105.6 340.6H162.4M162.4 339.3v2.6M116.8 338.0v2.6M116.8 339.3H162.0M162.0 338.0v2.6M116.5 339.9v2.6M116.5 341.2H165.3M165.3 339.9v2.6M127.4 336.8v2.6M127.4 338.1H159.0M159.0 336.8v2.6M120.0 338.6v2.6M120.0 339.9H174.5M174.5 338.6v2.6M124.7 338.0v2.6M124.7 339.3H174.2M174.2 338.0v2.6M129.4 339.3v2.6M129.4 340.6H179.2M179.2 339.3v2.6M134.2 338.0v2.6M134.2 339.3H180.4M180.4 338.0v2.6M137.7 338.6v2.6M137.7 339.9H180.8M180.8 338.6v2.6M134.8 337.4v2.6M134.8 338.7H189.3M189.3 337.4v2.6M141.8 338.6v2.6M141.8 339.9H192.5M192.5 338.6v2.6M146.9 338.0v2.6M146.9 339.3H198.7M198.7 338.0v2.6M152.9 338.0v2.6M152.9 339.3H200.7M200.7 338.0v2.6M162.9 336.8v2.6M162.9 338.1H193.4M193.4 336.8v2.6M163.2 338.0v2.6M163.2 339.3H200.4M200.4 338.0v2.6M172.5 340.5v2.6M172.5 341.8H210.8M210.8 340.5v2.6M168.6 341.8v2.6M168.6 343.1H222.4M222.4 341.8v2.6M110.7 344.9v2.6M110.7 346.2H161.4M161.4 344.9v2.6M118.1 346.2v2.6M118.1 347.5H160.0M160.0 346.2v2.6M120.7 346.8v2.6M120.7 348.1H164.5M164.5 346.8v2.6M118.4 342.4v2.6M118.4 343.7H172.8M172.8 342.4v2.6M118.5 344.9v2.6M118.5 346.2H179.7M179.7 344.9v2.6M125.7 343.0v2.6M125.7 344.3H176.9M176.9 343.0v2.6M139.7 344.3v2.6M139.7 345.6H171.1M171.1 344.3v2.6M141.6 342.4v2.6M141.6 343.7H174.0M174.0 342.4v2.6M135.1 344.9v2.6M135.1 346.2H190.0M190.0 344.9v2.6M133.0 343.0v2.6M133.0 344.3H195.3M195.3 343.0v2.6M145.8 344.9v2.6M145.8 346.2H189.8M189.8 344.9v2.6M153.4 343.7v2.6M153.4 345.0H188.4M188.4 343.7v2.6M148.0 342.4v2.6M148.0 343.7H206.7M206.7 342.4v2.6M163.9 343.0v2.6M163.9 344.3H202.1M202.1 343.0v2.6M157.3 346.2v2.6M157.3 347.5H194.3M194.3 346.2v2.6M159.3 342.4v2.6M159.3 343.7H224.2M224.2 342.4v2.6M160.3 347.4v2.6M160.3 348.7H215.7M215.7 347.4v2.6M164.2 348.4v2.6M164.2 349.7H227.2M227.2 348.4v2.6M158.9 348.7v2.6M158.9 350.0H200.7M200.7 348.7v2.6M115.5 352.5v2.6M115.5 353.8H149.2M149.2 352.5v2.6M134.1 349.1v2.6M134.1 350.4H170.8M170.8 349.1v2.6M123.4 347.2v2.6M123.4 348.5H186.7M186.7 347.2v2.6M136.3 346.0v2.6M136.3 347.3H183.2M183.2 346.0v2.6M136.3 348.5v2.6M136.3 349.8H189.5M189.5 348.5v2.6M137.5 346.6v2.6M137.5 347.9H194.2M194.2 346.6v2.6M145.7 349.1v2.6M145.7 350.4H191.2M191.2 349.1v2.6M156.6 347.2v2.6M156.6 348.5H189.3M189.3 347.2v2.6M127.3 352.2v2.6M127.3 353.5H160.2M160.2 352.2v2.6M123.8 350.3v2.6M123.8 351.6H170.4M170.4 350.3v2.6M135.4 352.9v2.6M135.4 354.2H169.0M169.0 352.9v2.6M126.8 351.6v2.6M126.8 352.9H186.9M186.9 351.6v2.6M144.0 354.1v2.6M144.0 355.4H174.4M174.4 354.1v2.6M144.0 352.2v2.6M144.0 353.5H182.3M182.3 352.2v2.6M151.1 355.4v2.6M151.1 356.7H182.9M182.9 355.4v2.6M151.3 354.1v2.6M151.3 355.4H187.5M187.5 354.1v2.6M149.9 356.0v2.6M149.9 357.3H196.6M196.6 356.0v2.6M161.3 354.7v2.6M161.3 356.0H196.5M196.5 354.7v2.6M153.7 351.0v2.6M153.7 352.3H205.5M205.5 351.0v2.6M168.7 352.2v2.6M168.7 353.5H199.4M199.4 352.2v2.6M161.4 356.3v2.6M161.4 357.6H212.0M212.0 356.3v2.6M160.4 354.1v2.6M160.4 355.4H217.5M217.5 354.1v2.6M113.3 355.7v2.6M113.3 357.0H159.7M159.7 355.7v2.6M125.4 357.3v2.6M125.4 358.6H158.0M158.0 357.3v2.6M114.7 359.1v2.6M114.7 360.4H173.1M173.1 359.1v2.6M131.7 356.6v2.6M131.7 357.9H164.5M164.5 356.6v2.6M132.0 359.1v2.6M132.0 360.4H165.0M165.0 359.1v2.6M134.6 356.6v2.6M134.6 357.9H172.7M172.7 356.6v2.6M140.1 355.4v2.6M140.1 356.7H170.5M170.5 355.4v2.6M138.0 357.3v2.6M138.0 358.6H179.8M179.8 357.3v2.6M141.2 359.8v2.6M141.2 361.1H183.5M183.5 359.8v2.6M137.1 358.5v2.6M137.1 359.8H201.4M201.4 358.5v2.6M147.0 359.8v2.6M147.0 361.1H198.7M198.7 359.8v2.6M151.0 359.1v2.6M151.0 360.4H207.5M207.5 359.1v2.6M156.2 357.9v2.6M156.2 359.2H211.8M211.8 357.9v2.6M170.4 359.8v2.6M170.4 361.1H211.4M211.4 359.8v2.6M111.4 359.1v2.6M111.4 360.4H147.4M147.4 359.1v2.6M118.9 362.0v2.6M118.9 363.3H158.6M158.6 362.0v2.6M128.9 362.7v2.6M128.9 364.0H175.2M175.2 362.7v2.6M138.3 360.4v2.6M138.3 361.7H173.5M173.5 360.4v2.6M125.6 362.3v2.6M125.6 363.6H189.0M189.0 362.3v2.6M139.3 364.2v2.6M139.3 365.5H183.6M183.6 364.2v2.6M154.8 362.3v2.6M154.8 363.6H186.2M186.2 362.3v2.6M161.2 364.8v2.6M161.2 366.1H183.7M183.7 364.8v2.6M150.3 363.5v2.6M150.3 364.8H207.5M207.5 363.5v2.6M153.4 363.5v2.6M153.4 364.8H209.3M209.3 363.5v2.6M158.7 361.6v2.6M158.7 362.9H221.1M221.1 361.6v2.6M172.7 362.9v2.6M172.7 364.2H221.1M221.1 362.9v2.6M131.8 366.7v2.6M131.8 368.0H181.6M181.6 366.7v2.6M139.7 368.6v2.6M139.7 369.9H173.2M173.2 368.6v2.6M117.5 369.8v2.6M117.5 371.1H201.7M201.7 369.8v2.6M153.5 368.6v2.6M153.5 369.9H179.3M179.3 368.6v2.6M157.1 369.8v2.6M157.1 371.1H188.5M188.5 369.8v2.6M160.8 371.1v2.6M160.8 372.4H190.6M190.6 371.1v2.6M146.2 367.9v2.6M146.2 369.2H223.7M223.7 367.9v2.6M86.7 373.8v2.6M86.7 375.1H169.4M169.4 373.8v2.6M118.4 373.6v2.6M118.4 374.9H163.3M163.3 373.6v2.6M138.2 374.2v2.6M138.2 375.5H162.5M162.5 374.2v2.6M130.6 374.8v2.6M130.6 376.1H176.1M176.1 374.8v2.6M134.9 373.6v2.6M134.9 374.9H175.4M175.4 373.6v2.6M120.8 372.3v2.6M120.8 373.6H199.6M199.6 372.3v2.6M150.7 373.3v2.6M150.7 374.6H179.2M179.2 373.3v2.6M157.7 374.2v2.6M157.7 375.5H193.2M193.2 374.2v2.6M153.2 372.9v2.6M153.2 374.2H201.6M201.6 372.9v2.6M148.5 373.8v2.6M148.5 375.1H219.8M219.8 373.8v2.6M167.0 372.9v2.6M167.0 374.2H224.2M224.2 372.9v2.6M134.7 378.6v2.6M134.7 379.9H161.9M161.9 378.6v2.6M131.3 377.3v2.6M131.3 378.6H171.3M171.3 377.3v2.6M128.0 380.5v2.6M128.0 381.8H177.7M177.7 380.5v2.6M132.5 377.3v2.6M132.5 378.6H178.9M178.9 377.3v2.6M136.2 380.5v2.6M136.2 381.8H180.1M180.1 380.5v2.6M146.8 378.3v2.6M146.8 379.6H174.4M174.4 378.3v2.6M144.4 378.0v2.6M144.4 379.3H195.4M195.4 378.0v2.6M134.8 377.3v2.6M134.8 378.6H211.1M211.1 377.3v2.6M152.1 378.6v2.6M152.1 379.9H201.2M201.2 378.6v2.6M154.7 380.5v2.6M154.7 381.8H197.6M197.6 380.5v2.6M155.3 378.6v2.6M155.3 379.9H212.2M212.2 378.6v2.6M161.5 376.1v2.6M161.5 377.4H214.4M214.4 376.1v2.6M152.7 376.1v2.6M152.7 377.4H230.9M230.9 376.1v2.6M156.6 377.6v2.6M156.6 378.9H226.1M226.1 377.6v2.6M165.5 378.8v2.6M165.5 380.1H234.1M234.1 378.8v2.6M126.7 386.1v2.6M126.7 387.4H159.9M159.9 386.1v2.6M131.5 384.2v2.6M131.5 385.5H160.9M160.9 384.2v2.6M138.2 385.5v2.6M138.2 386.8H162.4M162.4 385.5v2.6M135.8 384.6v2.6M135.8 385.9H173.2M173.2 384.6v2.6M143.6 382.4v2.6M143.6 383.7H185.7M185.7 382.4v2.6M124.6 384.9v2.6M124.6 386.2H209.2M209.2 384.9v2.6M142.9 382.4v2.6M142.9 383.7H192.3M192.3 382.4v2.6M147.9 382.4v2.6M147.9 383.7H191.3M191.3 382.4v2.6M160.4 381.1v2.6M160.4 382.4H185.0M185.0 381.1v2.6M154.8 384.9v2.6M154.8 386.2H194.1M194.1 384.9v2.6M151.1 383.6v2.6M151.1 384.9H199.1M199.1 383.6v2.6M138.9 382.1v2.6M138.9 383.4H223.3M223.3 382.1v2.6M151.7 381.7v2.6M151.7 383.0H228.9M228.9 381.7v2.6M173.7 381.1v2.6M173.7 382.4H215.1M215.1 381.1v2.6M165.0 382.1v2.6M165.0 383.4H227.3M227.3 382.1v2.6M141.7 389.3v2.6M141.7 390.6H174.4M174.4 389.3v2.6M142.9 388.0v2.6M142.9 389.3H182.2M182.2 388.0v2.6M129.2 391.8v2.6M129.2 393.1H180.1M180.1 391.8v2.6M143.2 391.8v2.6M143.2 393.1H184.2M184.2 391.8v2.6M152.1 389.9v2.6M152.1 391.2H185.1M185.1 389.9v2.6M156.9 387.4v2.6M156.9 388.7H186.6M186.6 387.4v2.6M156.7 386.8v2.6M156.7 388.1H194.0M194.0 386.8v2.6M157.0 389.3v2.6M157.0 390.6H192.1M192.1 389.3v2.6M157.9 391.2v2.6M157.9 392.5H197.0M197.0 391.2v2.6M167.7 386.1v2.6M167.7 387.4H213.5M213.5 386.1v2.6M157.1 389.3v2.6M157.1 390.6H222.5M222.5 389.3v2.6M172.0 390.5v2.6M172.0 391.8H216.6M216.6 390.5v2.6M173.7 392.2v2.6M173.7 393.5H214.4M214.4 392.2v2.6M119.6 395.5v2.6M119.6 396.8H192.7M192.7 395.5v2.6M150.4 396.2v2.6M150.4 397.5H172.5M172.5 396.2v2.6M146.9 398.1v2.6M146.9 399.4H180.2M180.2 398.1v2.6M143.6 399.3v2.6M143.6 400.6H184.1M184.1 399.3v2.6M148.0 393.7v2.6M148.0 395.0H193.0M193.0 393.7v2.6M150.1 396.8v2.6M150.1 398.1H189.7M189.7 396.8v2.6M130.2 398.1v2.6M130.2 399.4H218.6M218.6 398.1v2.6M151.7 398.4v2.6M151.7 399.7H202.5M202.5 398.4v2.6M154.9 395.5v2.6M154.9 396.8H203.2M203.2 395.5v2.6M150.0 400.6v2.6M150.0 401.9H213.1M213.1 400.6v2.6M160.8 398.7v2.6M160.8 400.0H209.2M209.2 398.7v2.6M157.9 399.6v2.6M157.9 400.9H218.3M218.3 399.6v2.6M127.5 401.8v2.6M127.5 403.1H151.9M151.9 401.8v2.6M125.9 400.6v2.6M125.9 401.9H175.0M175.0 400.6v2.6M170.7 401.2v2.6M170.7 402.5H214.1M214.1 401.2v2.6M152.6 403.9v2.6M152.6 405.2H177.3M177.3 403.9v2.6M147.7 405.4v2.6M147.7 406.7H168.1M168.1 405.4v2.6M136.7 407.6v2.6M136.7 408.9H181.3M181.3 407.6v2.6M140.9 408.2v2.6M140.9 409.5H179.5M179.5 408.2v2.6M157.0 410.7v2.6M157.0 412.0H180.5M180.5 410.7v2.6M154.5 404.2v2.6M154.5 405.5H191.4M191.4 404.2v2.6M154.4 409.2v2.6M154.4 410.5H192.0M192.0 409.2v2.6M163.8 407.0v2.6M163.8 408.3H188.4M188.4 407.0v2.6M136.0 406.3v2.6M136.0 407.6H222.0M222.0 406.3v2.6M157.3 408.2v2.6M157.3 409.5H201.1M201.1 408.2v2.6M140.1 411.9v2.6M140.1 413.2H213.5M213.5 411.9v2.6M158.5 416.1v2.6M158.5 417.4H194.5M194.5 416.1v2.6M153.6 404.2v2.6M153.6 405.5H211.0M211.0 404.2v2.6M140.6 406.3v2.6M140.6 407.6H227.9M227.9 406.3v2.6M161.4 402.3v2.6M161.4 403.6H215.1M215.1 402.3v2.6M167.6 404.2v2.6M167.6 405.5H211.6M211.6 404.2v2.6M157.1 407.3v2.6M157.1 408.6H222.0M222.0 407.3v2.6M166.7 402.9v2.6M166.7 404.2H221.5M221.5 402.9v2.6M172.9 407.0v2.6M172.9 408.3H218.4M218.4 407.0v2.6M167.3 405.0v2.6M167.3 406.3H230.4M230.4 405.0v2.6M177.7 370.7v2.6M177.7 372.0H226.5M226.5 370.7v2.6M174.4 370.3v2.6M174.4 371.6H257.4M257.4 370.3v2.6M214.2 370.0v2.6M214.2 371.3H293.2M293.2 370.0v2.6M212.4 376.0v2.6M212.4 377.3H287.6M287.6 376.0v2.6M192.7 380.4v2.6M192.7 381.7H258.2M258.2 380.4v2.6M171.2 385.4v2.6M171.2 386.7H250.3M250.3 385.4v2.6M201.5 387.3v2.6M201.5 388.6H252.4M252.4 387.3v2.6M213.6 390.7v2.6M213.6 392.0H264.3M264.3 390.7v2.6M201.8 391.7v2.6M201.8 393.0H278.3M278.3 391.7v2.6M206.8 391.4v2.6M206.8 392.7H277.6M277.6 391.4v2.6M181.9 394.2v2.6M181.9 395.5H262.0M262.0 394.2v2.6M190.2 397.3v2.6M190.2 398.6H240.8M240.8 397.3v2.6M176.1 398.9v2.6M176.1 400.2H253.5M253.5 398.9v2.6M166.6 398.9v2.6M166.6 400.2H243.8M243.8 398.9v2.6M209.4 397.3v2.6M209.4 398.6H263.7M263.7 397.3v2.6M198.6 399.2v2.6M198.6 400.5H274.2M274.2 399.2v2.6M200.0 401.1v2.6M200.0 402.4H273.9M273.9 401.1v2.6M206.9 401.7v2.6M206.9 403.0H296.4M296.4 401.7v2.6M175.5 402.1v2.6M175.5 403.4H231.2M231.2 402.1v2.6M171.2 403.9v2.6M171.2 405.2H237.8M237.8 403.9v2.6M188.1 402.1v2.6M188.1 403.4H261.0M261.0 402.1v2.6M193.1 404.6v2.6M193.1 405.9H249.8M249.8 404.6v2.6M171.1 404.2v2.6M171.1 405.5H251.2M251.2 404.2v2.6M170.6 406.4v2.6M170.6 407.7H241.7M241.7 406.4v2.6M188.3 408.0v2.6M188.3 409.3H248.5M248.5 408.0v2.6M192.3 407.6v2.6M192.3 408.9H261.2M261.2 407.6v2.6M179.6 412.0v2.6M179.6 413.3H251.9M251.9 412.0v2.6M126.8 317.3v2.6M126.8 318.6H185.4M185.4 317.3v2.6M128.9 337.3v2.6M128.9 338.6H194.0M194.0 337.3v2.6M135.9 331.7v2.6M135.9 333.0H190.5M190.5 331.7v2.6M135.6 333.4v2.6M135.6 334.7H174.7M174.7 333.4v2.6M118.6 336.9v2.6M118.6 338.2H175.6M175.6 336.9v2.6M126.3 332.9v2.6M126.3 334.2H157.2M157.2 332.9v2.6M124.1 336.2v2.6M124.1 337.5H191.6M191.6 336.2v2.6M126.1 353.2v2.6M126.1 354.5H172.5M172.5 353.2v2.6M134.8 331.0v2.6M134.8 332.3H171.7M171.7 331.0v2.6M149.3 335.9v2.6M149.3 337.2H188.5M188.5 335.9v2.6M119.3 341.1v2.6M119.3 342.4H185.0M185.0 341.1v2.6M150.6 333.9v2.6M150.6 335.2H183.9M183.9 333.9v2.6M124.0 355.5v2.6M124.0 356.8H173.6M173.6 355.5v2.6M132.8 354.0v2.6M132.8 355.3H181.2M181.2 354.0v2.6M117.6 316.3v2.6M117.6 317.6H169.0M169.0 316.3v2.6M130.1 339.4v2.6M130.1 340.7H168.9M168.9 339.4v2.6M131.4 338.0v2.6M131.4 339.3H177.1M177.1 338.0v2.6M142.1 336.0v2.6M142.1 337.3H185.0M185.0 336.0v2.6M132.1 341.6v2.6M132.1 342.9H167.1M167.1 341.6v2.6M128.1 333.1v2.6M128.1 334.4H176.2M176.2 333.1v2.6M128.4 335.4v2.6M128.4 336.7H178.2M178.2 335.4v2.6M124.7 320.3v2.6M124.7 321.6H180.2M180.2 320.3v2.6M136.9 337.3v2.6M136.9 338.6H193.0M193.0 337.3v2.6M125.8 343.5v2.6M125.8 344.8H164.3M164.3 343.5v2.6M138.2 348.4v2.6M138.2 349.7H172.3M172.3 348.4v2.6M152.4 327.5v2.6M152.4 328.8H187.1M187.1 327.5v2.6M110.7 333.6v2.6M110.7 334.9H163.1M163.1 333.6v2.6M130.8 320.5v2.6M130.8 321.8H184.6M184.6 320.5v2.6M151.7 340.1v2.6M151.7 341.4H188.9M188.9 340.1v2.6M131.9 339.7v2.6M131.9 341.0H187.3M187.3 339.7v2.6M120.9 351.0v2.6M120.9 352.3H163.8M163.8 351.0v2.6M120.1 333.8v2.6M120.1 335.1H170.7M170.7 333.8v2.6M130.4 340.3v2.6M130.4 341.6H171.3M171.3 340.3v2.6M124.7 310.6v2.6M124.7 311.9H159.1M159.1 310.6v2.6M131.2 334.9v2.6M131.2 336.2H195.2M195.2 334.9v2.6M139.1 341.8v2.6M139.1 343.1H195.1M195.1 341.8v2.6M123.2 332.1v2.6M123.2 333.4H188.0M188.0 332.1v2.6M123.2 316.3v2.6M123.2 317.6H178.1M178.1 316.3v2.6M115.9 325.4v2.6M115.9 326.7H170.6M170.6 325.4v2.6M133.8 341.0v2.6M133.8 342.3H183.2M183.2 341.0v2.6M133.4 348.1v2.6M133.4 349.4H190.4M190.4 348.1v2.6M123.4 336.7v2.6M123.4 338.0H154.8M154.8 336.7v2.6M107.0 352.4v2.6M107.0 353.7H165.1M165.1 352.4v2.6M122.6 335.7v2.6M122.6 337.0H167.2M167.2 335.7v2.6M120.8 319.9v2.6M120.8 321.2H186.4M186.4 319.9v2.6M112.3 346.4v2.6M112.3 347.7H172.3M172.3 346.4v2.6M128.5 323.5v2.6M128.5 324.8H179.6M179.6 323.5v2.6M129.5 324.1v2.6M129.5 325.4H160.4M160.4 324.1v2.6M115.4 345.2v2.6M115.4 346.5H171.9M171.9 345.2v2.6M128.9 344.8v2.6M128.9 346.1H170.3M170.3 344.8v2.6M119.0 327.2v2.6M119.0 328.5H171.3M171.3 327.2v2.6M136.6 336.4v2.6M136.6 337.7H188.3M188.3 336.4v2.6M123.5 347.6v2.6M123.5 348.9H179.9M179.9 347.6v2.6M121.8 339.1v2.6M121.8 340.4H152.0M152.0 339.1v2.6M120.4 324.3v2.6M120.4 325.6H167.8M167.8 324.3v2.6M121.7 345.1v2.6M121.7 346.4H167.2M167.2 345.1v2.6M153.1 404.4v2.6M153.1 405.7H199.3M199.3 404.4v2.6M139.6 404.8v2.6M139.6 406.1H184.1M184.1 404.8v2.6M162.5 407.6v2.6M162.5 408.9H206.2M206.2 407.6v2.6M157.4 396.9v2.6M157.4 398.2H178.5M178.5 396.9v2.6M144.9 404.6v2.6M144.9 405.9H166.3M166.3 404.6v2.6M154.3 395.6v2.6M154.3 396.9H213.3M213.3 395.6v2.6M160.6 401.7v2.6M160.6 403.0H187.7M187.7 401.7v2.6M164.1 398.2v2.6M164.1 399.5H190.7M190.7 398.2v2.6" stroke="#8c8c8c" stroke-width="0.8" fill="none"/>
<g fill="#0000e6" stroke="#000048" stroke-width="0.55">
<circle cx="151.5" cy="251.1" r="1.75"/>
<circle cx="171.6" cy="279.0" r="1.75"/>
<circle cx="160.8" cy="292.3" r="1.75"/>
<circle cx="162.0" cy="300.3" r="1.75"/>
<circle cx="177.5" cy="307.1" r="1.75"/>
<circle cx="185.0" cy="311.1" r="1.75"/>
<circle cx="190.3" cy="319.4" r="1.75"/>
<circle cx="211.0" cy="327.0" r="1.75"/>
<circle cx="197.9" cy="329.2" r="1.75"/>
<circle cx="203.9" cy="335.3" r="1.75"/>
<circle cx="232.6" cy="346.8" r="1.75"/>
<circle cx="286.3" cy="378.1" r="1.75"/>
<circle cx="294.6" cy="393.2" r="1.75"/>
<circle cx="203.6" cy="344.8" r="1.75"/>
<circle cx="210.7" cy="361.5" r="1.75"/>
<circle cx="203.6" cy="362.4" r="1.75"/>
<circle cx="210.9" cy="416.8" r="1.75"/>
<circle cx="190.1" cy="419.9" r="1.75"/>
<circle cx="149.8" cy="305.4" r="1.75"/>
<circle cx="155.6" cy="305.0" r="1.75"/>
<circle cx="154.8" cy="309.6" r="1.75"/>
<circle cx="140.5" cy="311.3" r="1.75"/>
<circle cx="145.8" cy="314.8" r="1.75"/>
<circle cx="157.7" cy="315.1" r="1.75"/>
<circle cx="146.4" cy="316.7" r="1.75"/>
<circle cx="157.1" cy="316.7" r="1.75"/>
<circle cx="136.3" cy="319.6" r="1.75"/>
<circle cx="138.0" cy="319.2" r="1.75"/>
<circle cx="150.5" cy="318.9" r="1.75"/>
<circle cx="152.0" cy="319.2" r="1.75"/>
<circle cx="155.2" cy="319.9" r="1.75"/>
<circle cx="162.1" cy="320.9" r="1.75"/>
<circle cx="164.3" cy="319.6" r="1.75"/>
<circle cx="133.2" cy="324.9" r="1.75"/>
<circle cx="137.3" cy="325.3" r="1.75"/>
<circle cx="146.4" cy="323.9" r="1.75"/>
<circle cx="150.8" cy="323.9" r="1.75"/>
<circle cx="154.5" cy="323.0" r="1.75"/>
<circle cx="157.7" cy="325.5" r="1.75"/>
<circle cx="167.7" cy="325.1" r="1.75"/>
<circle cx="169.9" cy="325.9" r="1.75"/>
<circle cx="178.8" cy="324.0" r="1.75"/>
<circle cx="182.8" cy="326.8" r="1.75"/>
<circle cx="135.1" cy="327.4" r="1.75"/>
<circle cx="142.0" cy="328.0" r="1.75"/>
<circle cx="148.9" cy="327.4" r="1.75"/>
<circle cx="152.7" cy="326.8" r="1.75"/>
<circle cx="155.2" cy="329.3" r="1.75"/>
<circle cx="158.3" cy="328.0" r="1.75"/>
<circle cx="164.0" cy="327.4" r="1.75"/>
<circle cx="166.5" cy="328.4" r="1.75"/>
<circle cx="135.1" cy="329.9" r="1.75"/>
<circle cx="140.1" cy="328.9" r="1.75"/>
<circle cx="144.5" cy="332.4" r="1.75"/>
<circle cx="147.9" cy="329.6" r="1.75"/>
<circle cx="150.8" cy="332.4" r="1.75"/>
<circle cx="153.9" cy="331.2" r="1.75"/>
<circle cx="158.3" cy="332.4" r="1.75"/>
<circle cx="164.6" cy="332.4" r="1.75"/>
<circle cx="173.4" cy="331.8" r="1.75"/>
<circle cx="177.1" cy="330.5" r="1.75"/>
<circle cx="135.1" cy="334.3" r="1.75"/>
<circle cx="140.7" cy="333.7" r="1.75"/>
<circle cx="148.3" cy="334.9" r="1.75"/>
<circle cx="152.7" cy="334.9" r="1.75"/>
<circle cx="156.4" cy="336.2" r="1.75"/>
<circle cx="162.1" cy="334.3" r="1.75"/>
<circle cx="166.5" cy="336.4" r="1.75"/>
<circle cx="170.2" cy="336.2" r="1.75"/>
<circle cx="173.6" cy="334.7" r="1.75"/>
<circle cx="188.4" cy="336.8" r="1.75"/>
<circle cx="191.0" cy="336.2" r="1.75"/>
<circle cx="125.4" cy="340.6" r="1.75"/>
<circle cx="135.7" cy="340.6" r="1.75"/>
<circle cx="138.9" cy="339.3" r="1.75"/>
<circle cx="142.0" cy="341.2" r="1.75"/>
<circle cx="143.9" cy="338.1" r="1.75"/>
<circle cx="146.4" cy="339.9" r="1.75"/>
<circle cx="150.2" cy="339.3" r="1.75"/>
<circle cx="153.3" cy="340.6" r="1.75"/>
<circle cx="157.1" cy="339.3" r="1.75"/>
<circle cx="160.2" cy="339.9" r="1.75"/>
<circle cx="163.3" cy="338.7" r="1.75"/>
<circle cx="167.1" cy="339.9" r="1.75"/>
<circle cx="171.5" cy="339.3" r="1.75"/>
<circle cx="175.9" cy="339.3" r="1.75"/>
<circle cx="179.0" cy="338.1" r="1.75"/>
<circle cx="182.2" cy="339.3" r="1.75"/>
<circle cx="190.3" cy="341.8" r="1.75"/>
<circle cx="197.0" cy="343.1" r="1.75"/>
<circle cx="136.3" cy="346.2" r="1.75"/>
<circle cx="139.5" cy="347.5" r="1.75"/>
<circle cx="141.4" cy="348.1" r="1.75"/>
<circle cx="146.4" cy="343.7" r="1.75"/>
<circle cx="148.9" cy="346.2" r="1.75"/>
<circle cx="152.0" cy="344.3" r="1.75"/>
<circle cx="155.2" cy="345.6" r="1.75"/>
<circle cx="158.3" cy="343.7" r="1.75"/>
<circle cx="161.5" cy="346.2" r="1.75"/>
<circle cx="164.6" cy="344.3" r="1.75"/>
<circle cx="167.7" cy="346.2" r="1.75"/>
<circle cx="170.9" cy="345.0" r="1.75"/>
<circle cx="177.1" cy="343.7" r="1.75"/>
<circle cx="182.8" cy="344.3" r="1.75"/>
<circle cx="176.5" cy="347.5" r="1.75"/>
<circle cx="190.3" cy="343.7" r="1.75"/>
<circle cx="188.4" cy="348.7" r="1.75"/>
<circle cx="194.3" cy="349.7" r="1.75"/>
<circle cx="179.7" cy="350.0" r="1.75"/>
<circle cx="132.6" cy="353.8" r="1.75"/>
<circle cx="152.0" cy="350.4" r="1.75"/>
<circle cx="155.2" cy="348.5" r="1.75"/>
<circle cx="158.9" cy="347.3" r="1.75"/>
<circle cx="162.7" cy="349.8" r="1.75"/>
<circle cx="166.5" cy="347.9" r="1.75"/>
<circle cx="170.2" cy="350.4" r="1.75"/>
<circle cx="173.4" cy="348.5" r="1.75"/>
<circle cx="143.2" cy="353.5" r="1.75"/>
<circle cx="147.6" cy="351.6" r="1.75"/>
<circle cx="152.7" cy="354.2" r="1.75"/>
<circle cx="156.4" cy="352.9" r="1.75"/>
<circle cx="159.6" cy="355.4" r="1.75"/>
<circle cx="163.3" cy="353.5" r="1.75"/>
<circle cx="165.8" cy="356.7" r="1.75"/>
<circle cx="169.6" cy="355.4" r="1.75"/>
<circle cx="172.8" cy="357.3" r="1.75"/>
<circle cx="178.4" cy="356.0" r="1.75"/>
<circle cx="180.9" cy="352.3" r="1.75"/>
<circle cx="184.1" cy="353.5" r="1.75"/>
<circle cx="186.2" cy="357.6" r="1.75"/>
<circle cx="190.3" cy="355.4" r="1.75"/>
<circle cx="137.6" cy="357.0" r="1.75"/>
<circle cx="142.0" cy="358.6" r="1.75"/>
<circle cx="145.1" cy="360.4" r="1.75"/>
<circle cx="147.9" cy="357.9" r="1.75"/>
<circle cx="148.3" cy="360.4" r="1.75"/>
<circle cx="152.7" cy="357.9" r="1.75"/>
<circle cx="155.2" cy="356.7" r="1.75"/>
<circle cx="158.3" cy="358.6" r="1.75"/>
<circle cx="162.7" cy="361.1" r="1.75"/>
<circle cx="169.0" cy="359.8" r="1.75"/>
<circle cx="172.1" cy="361.1" r="1.75"/>
<circle cx="179.7" cy="360.4" r="1.75"/>
<circle cx="182.8" cy="359.2" r="1.75"/>
<circle cx="191.0" cy="361.1" r="1.75"/>
<circle cx="128.8" cy="360.4" r="1.75"/>
<circle cx="137.6" cy="363.3" r="1.75"/>
<circle cx="152.0" cy="364.0" r="1.75"/>
<circle cx="155.2" cy="361.7" r="1.75"/>
<circle cx="158.3" cy="363.6" r="1.75"/>
<circle cx="161.5" cy="365.5" r="1.75"/>
<circle cx="170.2" cy="363.6" r="1.75"/>
<circle cx="172.8" cy="366.1" r="1.75"/>
<circle cx="177.8" cy="364.8" r="1.75"/>
<circle cx="180.9" cy="364.8" r="1.75"/>
<circle cx="190.0" cy="362.9" r="1.75"/>
<circle cx="196.6" cy="364.2" r="1.75"/>
<circle cx="157.7" cy="368.0" r="1.75"/>
<circle cx="155.2" cy="369.9" r="1.75"/>
<circle cx="158.3" cy="371.1" r="1.75"/>
<circle cx="166.5" cy="369.9" r="1.75"/>
<circle cx="173.4" cy="371.1" r="1.75"/>
<circle cx="175.9" cy="372.4" r="1.75"/>
<circle cx="185.6" cy="369.2" r="1.75"/>
<circle cx="129.4" cy="375.1" r="1.75"/>
<circle cx="141.7" cy="374.9" r="1.75"/>
<circle cx="150.2" cy="375.5" r="1.75"/>
<circle cx="152.7" cy="376.1" r="1.75"/>
<circle cx="155.8" cy="374.9" r="1.75"/>
<circle cx="161.5" cy="373.6" r="1.75"/>
<circle cx="164.6" cy="374.6" r="1.75"/>
<circle cx="175.9" cy="375.5" r="1.75"/>
<circle cx="177.8" cy="374.2" r="1.75"/>
<circle cx="183.4" cy="375.1" r="1.75"/>
<circle cx="195.4" cy="374.2" r="1.75"/>
<circle cx="148.3" cy="379.9" r="1.75"/>
<circle cx="151.4" cy="378.6" r="1.75"/>
<circle cx="152.0" cy="381.8" r="1.75"/>
<circle cx="155.2" cy="378.6" r="1.75"/>
<circle cx="158.3" cy="381.8" r="1.75"/>
<circle cx="160.2" cy="379.6" r="1.75"/>
<circle cx="170.2" cy="379.3" r="1.75"/>
<circle cx="171.5" cy="378.6" r="1.75"/>
<circle cx="177.1" cy="379.9" r="1.75"/>
<circle cx="175.9" cy="381.8" r="1.75"/>
<circle cx="185.3" cy="379.9" r="1.75"/>
<circle cx="187.2" cy="377.4" r="1.75"/>
<circle cx="190.3" cy="377.4" r="1.75"/>
<circle cx="191.8" cy="378.9" r="1.75"/>
<circle cx="199.7" cy="380.1" r="1.75"/>
<circle cx="143.2" cy="387.4" r="1.75"/>
<circle cx="145.8" cy="385.5" r="1.75"/>
<circle cx="150.2" cy="386.8" r="1.75"/>
<circle cx="154.5" cy="385.9" r="1.75"/>
<circle cx="164.6" cy="383.7" r="1.75"/>
<circle cx="166.5" cy="386.2" r="1.75"/>
<circle cx="167.1" cy="383.7" r="1.75"/>
<circle cx="170.2" cy="383.7" r="1.75"/>
<circle cx="172.8" cy="382.4" r="1.75"/>
<circle cx="173.4" cy="386.2" r="1.75"/>
<circle cx="175.3" cy="384.9" r="1.75"/>
<circle cx="182.2" cy="383.4" r="1.75"/>
<circle cx="190.3" cy="383.0" r="1.75"/>
<circle cx="194.1" cy="382.4" r="1.75"/>
<circle cx="196.0" cy="383.4" r="1.75"/>
<circle cx="158.3" cy="390.6" r="1.75"/>
<circle cx="162.1" cy="389.3" r="1.75"/>
<circle cx="156.4" cy="393.1" r="1.75"/>
<circle cx="164.0" cy="393.1" r="1.75"/>
<circle cx="168.4" cy="391.2" r="1.75"/>
<circle cx="171.5" cy="388.7" r="1.75"/>
<circle cx="175.3" cy="388.1" r="1.75"/>
<circle cx="174.0" cy="390.6" r="1.75"/>
<circle cx="177.1" cy="392.5" r="1.75"/>
<circle cx="189.7" cy="387.4" r="1.75"/>
<circle cx="188.4" cy="390.6" r="1.75"/>
<circle cx="193.5" cy="391.8" r="1.75"/>
<circle cx="194.7" cy="393.5" r="1.75"/>
<circle cx="156.4" cy="396.8" r="1.75"/>
<circle cx="160.8" cy="397.5" r="1.75"/>
<circle cx="163.3" cy="399.4" r="1.75"/>
<circle cx="164.6" cy="400.6" r="1.75"/>
<circle cx="170.2" cy="395.0" r="1.75"/>
<circle cx="170.9" cy="398.1" r="1.75"/>
<circle cx="172.8" cy="399.4" r="1.75"/>
<circle cx="175.9" cy="399.7" r="1.75"/>
<circle cx="177.8" cy="396.8" r="1.75"/>
<circle cx="181.5" cy="401.9" r="1.75"/>
<circle cx="185.3" cy="400.0" r="1.75"/>
<circle cx="187.2" cy="400.9" r="1.75"/>
<circle cx="140.1" cy="403.1" r="1.75"/>
<circle cx="151.8" cy="401.9" r="1.75"/>
<circle cx="192.2" cy="402.5" r="1.75"/>
<circle cx="164.3" cy="405.2" r="1.75"/>
<circle cx="157.7" cy="406.7" r="1.75"/>
<circle cx="158.3" cy="408.9" r="1.75"/>
<circle cx="160.6" cy="409.5" r="1.75"/>
<circle cx="169.0" cy="412.0" r="1.75"/>
<circle cx="172.4" cy="405.5" r="1.75"/>
<circle cx="172.8" cy="410.5" r="1.75"/>
<circle cx="175.9" cy="408.3" r="1.75"/>
<circle cx="178.7" cy="407.6" r="1.75"/>
<circle cx="178.4" cy="409.5" r="1.75"/>
<circle cx="177.8" cy="413.2" r="1.75"/>
<circle cx="176.1" cy="417.4" r="1.75"/>
<circle cx="181.9" cy="405.5" r="1.75"/>
<circle cx="184.1" cy="407.6" r="1.75"/>
<circle cx="186.6" cy="403.6" r="1.75"/>
<circle cx="189.1" cy="405.5" r="1.75"/>
<circle cx="188.2" cy="408.6" r="1.75"/>
<circle cx="193.5" cy="404.2" r="1.75"/>
<circle cx="195.4" cy="408.3" r="1.75"/>
<circle cx="198.2" cy="406.3" r="1.75"/>
<circle cx="202.5" cy="372.0" r="1.75"/>
<circle cx="214.2" cy="371.6" r="1.75"/>
<circle cx="251.2" cy="371.3" r="1.75"/>
<circle cx="250.6" cy="377.3" r="1.75"/>
<circle cx="225.4" cy="381.7" r="1.75"/>
<circle cx="213.0" cy="386.7" r="1.75"/>
<circle cx="227.3" cy="388.6" r="1.75"/>
<circle cx="239.6" cy="392.0" r="1.75"/>
<circle cx="241.5" cy="393.0" r="1.75"/>
<circle cx="243.3" cy="392.7" r="1.75"/>
<circle cx="219.9" cy="395.5" r="1.75"/>
<circle cx="215.1" cy="398.6" r="1.75"/>
<circle cx="213.0" cy="400.2" r="1.75"/>
<circle cx="206.7" cy="400.2" r="1.75"/>
<circle cx="237.1" cy="398.6" r="1.75"/>
<circle cx="236.2" cy="400.5" r="1.75"/>
<circle cx="237.3" cy="402.4" r="1.75"/>
<circle cx="250.9" cy="403.0" r="1.75"/>
<circle cx="202.9" cy="403.4" r="1.75"/>
<circle cx="203.5" cy="405.2" r="1.75"/>
<circle cx="223.6" cy="403.4" r="1.75"/>
<circle cx="221.4" cy="405.9" r="1.75"/>
<circle cx="211.9" cy="405.5" r="1.75"/>
<circle cx="206.7" cy="407.7" r="1.75"/>
<circle cx="219.9" cy="409.3" r="1.75"/>
<circle cx="229.1" cy="408.9" r="1.75"/>
<circle cx="214.2" cy="413.3" r="1.75"/>
<circle cx="157.4" cy="318.6" r="1.75"/>
<circle cx="160.8" cy="338.6" r="1.75"/>
<circle cx="162.9" cy="333.0" r="1.75"/>
<circle cx="155.2" cy="334.7" r="1.75"/>
<circle cx="146.1" cy="338.2" r="1.75"/>
<circle cx="141.9" cy="334.2" r="1.75"/>
<circle cx="157.6" cy="337.5" r="1.75"/>
<circle cx="148.7" cy="354.5" r="1.75"/>
<circle cx="152.5" cy="332.3" r="1.75"/>
<circle cx="168.2" cy="337.2" r="1.75"/>
<circle cx="153.4" cy="342.4" r="1.75"/>
<circle cx="168.1" cy="335.2" r="1.75"/>
<circle cx="147.0" cy="356.8" r="1.75"/>
<circle cx="157.3" cy="355.3" r="1.75"/>
<circle cx="144.4" cy="317.6" r="1.75"/>
<circle cx="148.9" cy="340.7" r="1.75"/>
<circle cx="153.8" cy="339.3" r="1.75"/>
<circle cx="164.0" cy="337.3" r="1.75"/>
<circle cx="148.4" cy="342.9" r="1.75"/>
<circle cx="151.2" cy="334.4" r="1.75"/>
<circle cx="153.7" cy="336.7" r="1.75"/>
<circle cx="152.0" cy="321.6" r="1.75"/>
<circle cx="166.0" cy="338.6" r="1.75"/>
<circle cx="145.0" cy="344.8" r="1.75"/>
<circle cx="156.4" cy="349.7" r="1.75"/>
<circle cx="169.3" cy="328.8" r="1.75"/>
<circle cx="138.3" cy="334.9" r="1.75"/>
<circle cx="156.6" cy="321.8" r="1.75"/>
<circle cx="170.8" cy="341.4" r="1.75"/>
<circle cx="158.1" cy="341.0" r="1.75"/>
<circle cx="142.3" cy="352.3" r="1.75"/>
<circle cx="145.4" cy="335.1" r="1.75"/>
<circle cx="150.0" cy="341.6" r="1.75"/>
<circle cx="141.9" cy="311.9" r="1.75"/>
<circle cx="161.8" cy="336.2" r="1.75"/>
<circle cx="168.7" cy="343.1" r="1.75"/>
<circle cx="154.2" cy="333.4" r="1.75"/>
<circle cx="149.8" cy="317.6" r="1.75"/>
<circle cx="142.4" cy="326.7" r="1.75"/>
<circle cx="158.7" cy="342.3" r="1.75"/>
<circle cx="161.1" cy="349.4" r="1.75"/>
<circle cx="139.1" cy="338.0" r="1.75"/>
<circle cx="134.9" cy="353.7" r="1.75"/>
<circle cx="144.7" cy="337.0" r="1.75"/>
<circle cx="155.2" cy="321.2" r="1.75"/>
<circle cx="143.0" cy="347.7" r="1.75"/>
<circle cx="153.9" cy="324.8" r="1.75"/>
<circle cx="145.1" cy="325.4" r="1.75"/>
<circle cx="143.8" cy="346.5" r="1.75"/>
<circle cx="150.2" cy="346.1" r="1.75"/>
<circle cx="145.8" cy="328.5" r="1.75"/>
<circle cx="162.0" cy="337.7" r="1.75"/>
<circle cx="151.9" cy="348.9" r="1.75"/>
<circle cx="137.7" cy="340.4" r="1.75"/>
<circle cx="143.4" cy="325.6" r="1.75"/>
<circle cx="145.4" cy="346.4" r="1.75"/>
<circle cx="175.8" cy="405.7" r="1.75"/>
<circle cx="162.3" cy="406.1" r="1.75"/>
<circle cx="184.2" cy="408.9" r="1.75"/>
<circle cx="168.1" cy="398.2" r="1.75"/>
<circle cx="155.8" cy="405.9" r="1.75"/>
<circle cx="182.8" cy="396.9" r="1.75"/>
<circle cx="174.2" cy="403.0" r="1.75"/>
<circle cx="177.3" cy="399.5" r="1.75"/>
</g></g>
<rect x="74.9" y="244.3" width="257.9" height="188.9" fill="none" stroke="#555" stroke-width="0.8"/>
<text x="93.45" y="447.20" font-size="12.3" text-anchor="middle" fill="#141414" textLength="17.2" lengthAdjust="spacingAndGlyphs" >−5</text>
<text x="131.90" y="447.20" font-size="12.3" text-anchor="middle" fill="#141414" textLength="7.6" lengthAdjust="spacingAndGlyphs" >0</text>
<text x="170.35" y="447.20" font-size="12.3" text-anchor="middle" fill="#141414" textLength="7.6" lengthAdjust="spacingAndGlyphs" >5</text>
<text x="208.80" y="447.20" font-size="12.3" text-anchor="middle" fill="#141414" textLength="15.2" lengthAdjust="spacingAndGlyphs" >10</text>
<text x="247.25" y="447.20" font-size="12.3" text-anchor="middle" fill="#141414" textLength="15.2" lengthAdjust="spacingAndGlyphs" >15</text>
<text x="285.70" y="447.20" font-size="12.3" text-anchor="middle" fill="#141414" textLength="15.2" lengthAdjust="spacingAndGlyphs" >20</text>
<text x="324.15" y="447.20" font-size="12.3" text-anchor="middle" fill="#141414" textLength="15.2" lengthAdjust="spacingAndGlyphs" >25</text>
<text x="65.80" y="437.50" font-size="12.3" text-anchor="end" fill="#141414" textLength="15.0" lengthAdjust="spacingAndGlyphs" >10</text>
<text x="66.60" y="432.40" font-size="8.6" text-anchor="start" fill="#141414" textLength="5.6" lengthAdjust="spacingAndGlyphs" >0</text>
<text x="65.80" y="309.70" font-size="12.3" text-anchor="end" fill="#141414" textLength="15.0" lengthAdjust="spacingAndGlyphs" >10</text>
<text x="66.60" y="304.60" font-size="8.6" text-anchor="start" fill="#141414" textLength="5.6" lengthAdjust="spacingAndGlyphs" >1</text>
<text x="203.80" y="462.60" font-size="16" text-anchor="middle" fill="#141414" textLength="68.5" lengthAdjust="spacingAndGlyphs" stroke="#141414" stroke-width="0.12">SNR [dB]</text>
<text x="44.80" y="338.30" font-size="16" text-anchor="middle" fill="#141414" textLength="130.5" lengthAdjust="spacingAndGlyphs" transform="rotate(-90 44.80 338.30)" stroke="#141414" stroke-width="0.12">Uncertainty [km]</text>
<text x="0.00" y="255.00" font-size="17" text-anchor="start" fill="#141414" >(c)</text>
<rect x="426.7" y="249.3" width="230.8" height="183.9" fill="#fff"/>
<path d="M437.50 249.3V433.2M479.38 249.3V433.2M521.26 249.3V433.2M563.14 249.3V433.2M605.02 249.3V433.2M646.90 249.3V433.2M426.7 433.20H657.5M426.7 396.42H657.5M426.7 359.64H657.5M426.7 322.86H657.5M426.7 286.08H657.5M426.7 249.30H657.5" stroke="#d0d0d0" stroke-width="0.9" fill="none"/>
<rect x="464.01" y="408.56" width="8.6" height="24.64" fill="#87ceeb" stroke="#555" stroke-width="0.7"/>
<rect x="474.48" y="371.41" width="8.6" height="61.79" fill="#87ceeb" stroke="#555" stroke-width="0.7"/>
<rect x="484.95" y="339.04" width="8.6" height="94.16" fill="#87ceeb" stroke="#555" stroke-width="0.7"/>
<rect x="495.42" y="314.40" width="8.6" height="118.80" fill="#87ceeb" stroke="#555" stroke-width="0.7"/>
<rect x="505.89" y="296.38" width="8.6" height="136.82" fill="#87ceeb" stroke="#555" stroke-width="0.7"/>
<rect x="516.36" y="283.32" width="8.6" height="149.88" fill="#87ceeb" stroke="#555" stroke-width="0.7"/>
<rect x="526.83" y="273.76" width="8.6" height="159.44" fill="#87ceeb" stroke="#555" stroke-width="0.7"/>
<rect x="537.30" y="267.87" width="8.6" height="165.33" fill="#87ceeb" stroke="#555" stroke-width="0.7"/>
<rect x="547.77" y="263.46" width="8.6" height="169.74" fill="#87ceeb" stroke="#555" stroke-width="0.7"/>
<rect x="558.24" y="260.33" width="8.6" height="172.87" fill="#87ceeb" stroke="#555" stroke-width="0.7"/>
<rect x="568.71" y="258.13" width="8.6" height="175.07" fill="#87ceeb" stroke="#555" stroke-width="0.7"/>
<rect x="579.18" y="256.84" width="8.6" height="176.36" fill="#87ceeb" stroke="#555" stroke-width="0.7"/>
<rect x="589.65" y="255.92" width="8.6" height="177.28" fill="#87ceeb" stroke="#555" stroke-width="0.7"/>
<rect x="600.12" y="255.18" width="8.6" height="178.02" fill="#87ceeb" stroke="#555" stroke-width="0.7"/>
<rect x="610.59" y="254.45" width="8.6" height="178.75" fill="#87ceeb" stroke="#555" stroke-width="0.7"/>
<rect x="621.06" y="253.53" width="8.6" height="179.67" fill="#87ceeb" stroke="#555" stroke-width="0.7"/>
<rect x="631.53" y="253.16" width="8.6" height="180.04" fill="#87ceeb" stroke="#555" stroke-width="0.7"/>
<rect x="642.00" y="252.79" width="8.6" height="180.41" fill="#87ceeb" stroke="#555" stroke-width="0.7"/>
<path d="M426.7 258.50H657.5" stroke="#222" stroke-width="0.8" stroke-dasharray="3 1.3" fill="none"/>
<path d="M457.8 376.2 L468.3 359.5 L478.8 346.6 L489.2 335.4 L499.7 325.7 L510.2 316.3 L520.7 307.4 L531.1 300.9 L541.6 295.9 L552.1 290.5 L562.5 286.8 L573.0 283.5 L583.5 280.8 L593.9 278.8 L604.4 277.1 L614.9 276.1 L625.4 274.1 L635.8 272.4 L646.3 271.4" stroke="#f00" stroke-width="1.0" fill="none"/>
<circle cx="457.84" cy="376.25" r="1.9" fill="#f00"/>
<circle cx="468.31" cy="359.50" r="1.9" fill="#f00"/>
<circle cx="478.78" cy="346.60" r="1.9" fill="#f00"/>
<circle cx="489.25" cy="335.38" r="1.9" fill="#f00"/>
<circle cx="499.72" cy="325.66" r="1.9" fill="#f00"/>
<circle cx="510.19" cy="316.28" r="1.9" fill="#f00"/>
<circle cx="520.66" cy="307.41" r="1.9" fill="#f00"/>
<circle cx="531.13" cy="300.88" r="1.9" fill="#f00"/>
<circle cx="541.60" cy="295.85" r="1.9" fill="#f00"/>
<circle cx="552.07" cy="290.49" r="1.9" fill="#f00"/>
<circle cx="562.54" cy="286.80" r="1.9" fill="#f00"/>
<circle cx="573.01" cy="283.45" r="1.9" fill="#f00"/>
<circle cx="583.48" cy="280.77" r="1.9" fill="#f00"/>
<circle cx="593.95" cy="278.76" r="1.9" fill="#f00"/>
<circle cx="604.42" cy="277.09" r="1.9" fill="#f00"/>
<circle cx="614.89" cy="276.08" r="1.9" fill="#f00"/>
<circle cx="625.36" cy="274.07" r="1.9" fill="#f00"/>
<circle cx="635.83" cy="272.40" r="1.9" fill="#f00"/>
<circle cx="646.30" cy="271.39" r="1.9" fill="#f00"/>
<path d="M437.50 433.2v3M426.7 433.20h-3M657.5 433.20h3M479.38 433.2v3M426.7 396.42h-3M657.5 399.70h3M521.26 433.2v3M426.7 359.64h-3M657.5 366.20h3M563.14 433.2v3M426.7 322.86h-3M657.5 332.70h3M605.02 433.2v3M426.7 286.08h-3M657.5 299.20h3M646.90 433.2v3M426.7 249.30h-3M657.5 265.70h3" stroke="#333" stroke-width="0.7" fill="none"/>
<rect x="426.7" y="249.3" width="230.8" height="183.9" fill="none" stroke="#555" stroke-width="0.8"/>
<text x="423.00" y="437.50" font-size="12.3" text-anchor="end" fill="#141414" textLength="19.0" lengthAdjust="spacingAndGlyphs" >0.0</text>
<text x="437.50" y="447.20" font-size="12.3" text-anchor="middle" fill="#141414" textLength="26.3" lengthAdjust="spacingAndGlyphs" >0.00</text>
<text x="661.40" y="437.50" font-size="12.3" text-anchor="start" fill="#141414" textLength="7.6" lengthAdjust="spacingAndGlyphs" >0</text>
<text x="423.00" y="400.72" font-size="12.3" text-anchor="end" fill="#141414" textLength="19.0" lengthAdjust="spacingAndGlyphs" >0.2</text>
<text x="479.38" y="447.20" font-size="12.3" text-anchor="middle" fill="#141414" textLength="26.3" lengthAdjust="spacingAndGlyphs" >0.02</text>
<text x="661.40" y="404.00" font-size="12.3" text-anchor="start" fill="#141414" textLength="7.6" lengthAdjust="spacingAndGlyphs" >1</text>
<text x="423.00" y="363.94" font-size="12.3" text-anchor="end" fill="#141414" textLength="19.0" lengthAdjust="spacingAndGlyphs" >0.4</text>
<text x="521.26" y="447.20" font-size="12.3" text-anchor="middle" fill="#141414" textLength="26.3" lengthAdjust="spacingAndGlyphs" >0.04</text>
<text x="661.40" y="370.50" font-size="12.3" text-anchor="start" fill="#141414" textLength="7.6" lengthAdjust="spacingAndGlyphs" >2</text>
<text x="423.00" y="327.16" font-size="12.3" text-anchor="end" fill="#141414" textLength="19.0" lengthAdjust="spacingAndGlyphs" >0.6</text>
<text x="563.14" y="447.20" font-size="12.3" text-anchor="middle" fill="#141414" textLength="26.3" lengthAdjust="spacingAndGlyphs" >0.06</text>
<text x="661.40" y="337.00" font-size="12.3" text-anchor="start" fill="#141414" textLength="7.6" lengthAdjust="spacingAndGlyphs" >3</text>
<text x="423.00" y="290.38" font-size="12.3" text-anchor="end" fill="#141414" textLength="19.0" lengthAdjust="spacingAndGlyphs" >0.8</text>
<text x="605.02" y="447.20" font-size="12.3" text-anchor="middle" fill="#141414" textLength="26.3" lengthAdjust="spacingAndGlyphs" >0.08</text>
<text x="661.40" y="303.50" font-size="12.3" text-anchor="start" fill="#141414" textLength="7.6" lengthAdjust="spacingAndGlyphs" >4</text>
<text x="423.00" y="253.60" font-size="12.3" text-anchor="end" fill="#141414" textLength="19.0" lengthAdjust="spacingAndGlyphs" >1.0</text>
<text x="646.90" y="447.20" font-size="12.3" text-anchor="middle" fill="#141414" textLength="26.3" lengthAdjust="spacingAndGlyphs" >0.10</text>
<text x="661.40" y="270.00" font-size="12.3" text-anchor="start" fill="#141414" textLength="7.6" lengthAdjust="spacingAndGlyphs" >5</text>
<text x="541.70" y="462.70" font-size="16" text-anchor="middle" fill="#141414" textLength="97.8" lengthAdjust="spacingAndGlyphs" stroke="#141414" stroke-width="0.12">Threshold [°]</text>
<text x="398.90" y="340.70" font-size="16" text-anchor="middle" fill="#141414" textLength="82.0" lengthAdjust="spacingAndGlyphs" transform="rotate(-90 398.90 340.70)" stroke="#141414" stroke-width="0.12">Data Ratio</text>
<text x="682.20" y="340.90" font-size="16" text-anchor="middle" fill="#141414" textLength="192.5" lengthAdjust="spacingAndGlyphs" transform="rotate(-90 682.20 340.90)" stroke="#141414" stroke-width="0.12">Mean error distance [km]</text>
<text x="352.50" y="255.30" font-size="16.5" text-anchor="start" fill="#141414" textLength="20.0" lengthAdjust="spacingAndGlyphs" >(d)</text>
</g>
</svg></body></html>
